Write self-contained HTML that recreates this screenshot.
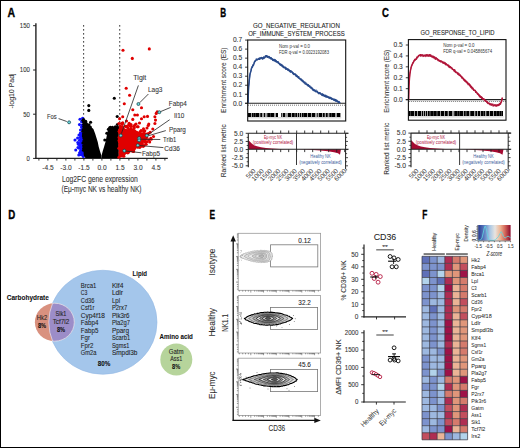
<!DOCTYPE html>
<html><head><meta charset="utf-8"><style>html,body{margin:0;padding:0;background:#fff;}svg{display:block;}</style></head>
<body><svg width="520" height="448" viewBox="0 0 520 448" font-family='"Liberation Sans", sans-serif'>
<rect width="520" height="448" fill="#fff"/>
<text x="7.60" y="16.63" font-size="12.4" text-anchor="start" fill="#000" font-weight="bold" textLength="7.6" lengthAdjust="spacingAndGlyphs" stroke="#000" stroke-width="0.35" >A</text>
<line x1="35.90" y1="23.20" x2="35.90" y2="159.00" stroke="#222" stroke-width="1.4" stroke-linecap="butt"/>
<line x1="35.30" y1="158.40" x2="167.80" y2="158.40" stroke="#222" stroke-width="1.4" stroke-linecap="butt"/>
<line x1="33.10" y1="25.70" x2="35.90" y2="25.70" stroke="#222" stroke-width="1" stroke-linecap="butt"/>
<text x="29.90" y="28.08" font-size="6.9" text-anchor="end" fill="#333" textLength="10.1" lengthAdjust="spacingAndGlyphs" stroke="#333" stroke-width="0.08" >150</text>
<line x1="33.10" y1="70.00" x2="35.90" y2="70.00" stroke="#222" stroke-width="1" stroke-linecap="butt"/>
<text x="29.90" y="72.38" font-size="6.9" text-anchor="end" fill="#333" textLength="10.1" lengthAdjust="spacingAndGlyphs" stroke="#333" stroke-width="0.08" >100</text>
<line x1="33.10" y1="114.20" x2="35.90" y2="114.20" stroke="#222" stroke-width="1" stroke-linecap="butt"/>
<text x="29.90" y="116.58" font-size="6.9" text-anchor="end" fill="#333" textLength="6.7" lengthAdjust="spacingAndGlyphs" stroke="#333" stroke-width="0.08" >50</text>
<line x1="33.10" y1="158.40" x2="35.90" y2="158.40" stroke="#222" stroke-width="1" stroke-linecap="butt"/>
<text x="29.90" y="160.78" font-size="6.9" text-anchor="end" fill="#333" textLength="3.3" lengthAdjust="spacingAndGlyphs" stroke="#333" stroke-width="0.08" >0</text>
<line x1="38.90" y1="158.40" x2="38.90" y2="160.60" stroke="#222" stroke-width="0.9" stroke-linecap="butt"/>
<line x1="47.90" y1="158.40" x2="47.90" y2="160.60" stroke="#222" stroke-width="0.9" stroke-linecap="butt"/>
<line x1="56.90" y1="158.40" x2="56.90" y2="160.60" stroke="#222" stroke-width="0.9" stroke-linecap="butt"/>
<line x1="65.90" y1="158.40" x2="65.90" y2="160.60" stroke="#222" stroke-width="0.9" stroke-linecap="butt"/>
<line x1="74.90" y1="158.40" x2="74.90" y2="160.60" stroke="#222" stroke-width="0.9" stroke-linecap="butt"/>
<line x1="83.90" y1="158.40" x2="83.90" y2="160.60" stroke="#222" stroke-width="0.9" stroke-linecap="butt"/>
<line x1="92.90" y1="158.40" x2="92.90" y2="160.60" stroke="#222" stroke-width="0.9" stroke-linecap="butt"/>
<line x1="101.90" y1="158.40" x2="101.90" y2="160.60" stroke="#222" stroke-width="0.9" stroke-linecap="butt"/>
<line x1="110.90" y1="158.40" x2="110.90" y2="160.60" stroke="#222" stroke-width="0.9" stroke-linecap="butt"/>
<line x1="119.90" y1="158.40" x2="119.90" y2="160.60" stroke="#222" stroke-width="0.9" stroke-linecap="butt"/>
<line x1="128.90" y1="158.40" x2="128.90" y2="160.60" stroke="#222" stroke-width="0.9" stroke-linecap="butt"/>
<line x1="137.90" y1="158.40" x2="137.90" y2="160.60" stroke="#222" stroke-width="0.9" stroke-linecap="butt"/>
<line x1="146.90" y1="158.40" x2="146.90" y2="160.60" stroke="#222" stroke-width="0.9" stroke-linecap="butt"/>
<line x1="155.90" y1="158.40" x2="155.90" y2="160.60" stroke="#222" stroke-width="0.9" stroke-linecap="butt"/>
<line x1="164.90" y1="158.40" x2="164.90" y2="160.60" stroke="#222" stroke-width="0.9" stroke-linecap="butt"/>
<text x="48.00" y="170.08" font-size="6.6" text-anchor="middle" fill="#333" stroke="#333" stroke-width="0.08" >-4.5</text>
<text x="66.00" y="170.08" font-size="6.6" text-anchor="middle" fill="#333" stroke="#333" stroke-width="0.08" >-3.0</text>
<text x="84.00" y="170.08" font-size="6.6" text-anchor="middle" fill="#333" stroke="#333" stroke-width="0.08" >-1.5</text>
<text x="102.00" y="170.08" font-size="6.6" text-anchor="middle" fill="#333" stroke="#333" stroke-width="0.08" >0.0</text>
<text x="120.00" y="170.08" font-size="6.6" text-anchor="middle" fill="#333" stroke="#333" stroke-width="0.08" >1.5</text>
<text x="138.00" y="170.08" font-size="6.6" text-anchor="middle" fill="#333" stroke="#333" stroke-width="0.08" >3.0</text>
<text x="156.00" y="170.08" font-size="6.6" text-anchor="middle" fill="#333" stroke="#333" stroke-width="0.08" >4.5</text>
<text x="99.80" y="181.64" font-size="8.8" text-anchor="middle" fill="#333" textLength="75.8" lengthAdjust="spacingAndGlyphs" stroke="#333" stroke-width="0.08" >Log2FC gene expression</text>
<text x="101.50" y="192.34" font-size="8.8" text-anchor="middle" fill="#333" textLength="80" lengthAdjust="spacingAndGlyphs" stroke="#333" stroke-width="0.08" >(Eμ-myc NK vs healthy NK)</text>
<text x="11.60" y="93.55" font-size="7.4" text-anchor="middle" fill="#333" textLength="35.2" lengthAdjust="spacingAndGlyphs" stroke="#333" stroke-width="0.08" transform="rotate(-90 11.60 91.00)" >-log10 Padj</text>
<line x1="83.60" y1="25.20" x2="83.60" y2="157.00" stroke="#111" stroke-width="1.1" stroke-dasharray="1.4 2.6" stroke-linecap="butt"/>
<line x1="119.70" y1="25.20" x2="119.70" y2="157.00" stroke="#111" stroke-width="1.1" stroke-dasharray="1.4 2.6" stroke-linecap="butt"/>
<path d="M83.60,156.50 L83.60,129.00 L82.00,130.00 L80.50,134.00 L79.60,140.00 L79.40,146.00 L80.00,151.00 L81.20,155.00 L82.20,156.50 Z" fill="#1010ff" stroke="none" stroke-width="0"/>
<circle cx="83.34" cy="156.54" r="1.55" fill="#1010ff" stroke="none" stroke-width="0"/>
<circle cx="83.47" cy="154.31" r="1.55" fill="#1010ff" stroke="none" stroke-width="0"/>
<circle cx="83.73" cy="151.48" r="1.55" fill="#1010ff" stroke="none" stroke-width="0"/>
<circle cx="83.11" cy="149.96" r="1.55" fill="#1010ff" stroke="none" stroke-width="0"/>
<circle cx="83.36" cy="147.07" r="1.55" fill="#1010ff" stroke="none" stroke-width="0"/>
<circle cx="84.10" cy="145.01" r="1.55" fill="#1010ff" stroke="none" stroke-width="0"/>
<circle cx="83.94" cy="142.73" r="1.55" fill="#1010ff" stroke="none" stroke-width="0"/>
<circle cx="83.74" cy="140.11" r="1.55" fill="#1010ff" stroke="none" stroke-width="0"/>
<circle cx="83.73" cy="138.53" r="1.55" fill="#1010ff" stroke="none" stroke-width="0"/>
<circle cx="83.62" cy="136.12" r="1.55" fill="#1010ff" stroke="none" stroke-width="0"/>
<circle cx="83.77" cy="133.15" r="1.55" fill="#1010ff" stroke="none" stroke-width="0"/>
<circle cx="83.86" cy="131.38" r="1.55" fill="#1010ff" stroke="none" stroke-width="0"/>
<circle cx="83.40" cy="128.53" r="1.55" fill="#1010ff" stroke="none" stroke-width="0"/>
<circle cx="82.37" cy="129.97" r="1.55" fill="#1010ff" stroke="none" stroke-width="0"/>
<circle cx="80.72" cy="134.38" r="1.55" fill="#1010ff" stroke="none" stroke-width="0"/>
<circle cx="80.26" cy="137.42" r="1.55" fill="#1010ff" stroke="none" stroke-width="0"/>
<circle cx="79.49" cy="140.30" r="1.55" fill="#1010ff" stroke="none" stroke-width="0"/>
<circle cx="79.44" cy="143.44" r="1.55" fill="#1010ff" stroke="none" stroke-width="0"/>
<circle cx="79.78" cy="145.60" r="1.55" fill="#1010ff" stroke="none" stroke-width="0"/>
<circle cx="79.34" cy="148.22" r="1.55" fill="#1010ff" stroke="none" stroke-width="0"/>
<circle cx="80.47" cy="150.94" r="1.55" fill="#1010ff" stroke="none" stroke-width="0"/>
<circle cx="81.33" cy="154.80" r="1.55" fill="#1010ff" stroke="none" stroke-width="0"/>
<circle cx="80.00" cy="119.30" r="1.55" fill="#1010ff" stroke="none" stroke-width="0"/>
<circle cx="79.50" cy="124.60" r="1.55" fill="#1010ff" stroke="none" stroke-width="0"/>
<circle cx="82.70" cy="128.60" r="1.55" fill="#1010ff" stroke="none" stroke-width="0"/>
<circle cx="79.00" cy="135.00" r="1.55" fill="#1010ff" stroke="none" stroke-width="0"/>
<circle cx="75.00" cy="140.00" r="1.55" fill="#1010ff" stroke="none" stroke-width="0"/>
<circle cx="78.40" cy="144.20" r="1.55" fill="#1010ff" stroke="none" stroke-width="0"/>
<circle cx="75.75" cy="150.00" r="1.55" fill="#1010ff" stroke="none" stroke-width="0"/>
<circle cx="82.60" cy="118.20" r="1.55" fill="#1010ff" stroke="none" stroke-width="0"/>
<circle cx="81.60" cy="121.80" r="1.55" fill="#1010ff" stroke="none" stroke-width="0"/>
<circle cx="82.20" cy="125.00" r="1.55" fill="#1010ff" stroke="none" stroke-width="0"/>
<circle cx="80.50" cy="130.00" r="1.55" fill="#1010ff" stroke="none" stroke-width="0"/>
<circle cx="81.50" cy="127.00" r="1.55" fill="#1010ff" stroke="none" stroke-width="0"/>
<circle cx="77.60" cy="138.00" r="1.55" fill="#1010ff" stroke="none" stroke-width="0"/>
<circle cx="78.00" cy="147.50" r="1.55" fill="#1010ff" stroke="none" stroke-width="0"/>
<circle cx="79.60" cy="152.80" r="1.55" fill="#1010ff" stroke="none" stroke-width="0"/>
<circle cx="80.40" cy="133.00" r="1.55" fill="#1010ff" stroke="none" stroke-width="0"/>
<circle cx="82.70" cy="121.00" r="1.55" fill="#1010ff" stroke="none" stroke-width="0"/>
<circle cx="77.80" cy="142.50" r="1.55" fill="#1010ff" stroke="none" stroke-width="0"/>
<circle cx="78.80" cy="155.00" r="1.55" fill="#1010ff" stroke="none" stroke-width="0"/>
<path d="M85.50,158.00 L83.80,155.50 L83.40,150.00 L83.40,120.00 L86.00,121.50 L88.50,124.50 L90.50,126.50 L93.40,128.90 L95.10,133.40 L96.50,137.90 L97.80,142.30 L98.70,146.80 L100.00,151.25 L101.40,155.50 L101.50,158.00 Z" fill="#000" stroke="none" stroke-width="0"/>
<path d="M101.50,158.00 L101.60,155.50 L102.70,151.25 L104.10,146.80 L105.40,142.30 L106.30,137.90 L107.20,133.40 L108.10,128.90 L110.50,127.60 L113.00,127.20 L115.40,126.60 L117.20,127.00 L118.80,127.50 L118.80,158.00 Z" fill="#000" stroke="none" stroke-width="0"/>
<circle cx="83.52" cy="150.24" r="1.55" fill="#000" stroke="none" stroke-width="0"/>
<circle cx="83.70" cy="148.13" r="1.55" fill="#000" stroke="none" stroke-width="0"/>
<circle cx="83.64" cy="145.81" r="1.55" fill="#000" stroke="none" stroke-width="0"/>
<circle cx="82.93" cy="143.04" r="1.55" fill="#000" stroke="none" stroke-width="0"/>
<circle cx="83.84" cy="140.92" r="1.55" fill="#000" stroke="none" stroke-width="0"/>
<circle cx="83.80" cy="138.07" r="1.55" fill="#000" stroke="none" stroke-width="0"/>
<circle cx="83.37" cy="135.90" r="1.55" fill="#000" stroke="none" stroke-width="0"/>
<circle cx="83.44" cy="133.92" r="1.55" fill="#000" stroke="none" stroke-width="0"/>
<circle cx="82.91" cy="131.26" r="1.55" fill="#000" stroke="none" stroke-width="0"/>
<circle cx="83.18" cy="129.65" r="1.55" fill="#000" stroke="none" stroke-width="0"/>
<circle cx="83.67" cy="126.58" r="1.55" fill="#000" stroke="none" stroke-width="0"/>
<circle cx="83.70" cy="124.25" r="1.55" fill="#000" stroke="none" stroke-width="0"/>
<circle cx="83.52" cy="121.93" r="1.55" fill="#000" stroke="none" stroke-width="0"/>
<circle cx="82.90" cy="120.37" r="1.55" fill="#000" stroke="none" stroke-width="0"/>
<circle cx="85.71" cy="121.22" r="1.55" fill="#000" stroke="none" stroke-width="0"/>
<circle cx="88.98" cy="124.87" r="1.55" fill="#000" stroke="none" stroke-width="0"/>
<circle cx="90.29" cy="126.96" r="1.55" fill="#000" stroke="none" stroke-width="0"/>
<circle cx="108.39" cy="129.22" r="1.55" fill="#000" stroke="none" stroke-width="0"/>
<circle cx="110.49" cy="127.36" r="1.55" fill="#000" stroke="none" stroke-width="0"/>
<circle cx="112.50" cy="127.36" r="1.55" fill="#000" stroke="none" stroke-width="0"/>
<circle cx="115.37" cy="126.86" r="1.55" fill="#000" stroke="none" stroke-width="0"/>
<circle cx="117.07" cy="127.27" r="1.55" fill="#000" stroke="none" stroke-width="0"/>
<circle cx="88.80" cy="105.60" r="1.55" fill="#000" stroke="none" stroke-width="0"/>
<circle cx="88.80" cy="110.40" r="1.55" fill="#000" stroke="none" stroke-width="0"/>
<circle cx="83.60" cy="119.50" r="1.55" fill="#000" stroke="none" stroke-width="0"/>
<circle cx="90.60" cy="122.30" r="1.55" fill="#000" stroke="none" stroke-width="0"/>
<circle cx="109.60" cy="127.90" r="1.55" fill="#000" stroke="none" stroke-width="0"/>
<circle cx="117.20" cy="116.50" r="1.55" fill="#000" stroke="none" stroke-width="0"/>
<circle cx="117.40" cy="124.50" r="1.55" fill="#000" stroke="none" stroke-width="0"/>
<circle cx="116.20" cy="130.00" r="1.55" fill="#000" stroke="none" stroke-width="0"/>
<circle cx="110.10" cy="131.60" r="1.55" fill="#000" stroke="none" stroke-width="0"/>
<circle cx="114.30" cy="98.20" r="1.55" fill="#000" stroke="none" stroke-width="0"/>
<circle cx="86.30" cy="123.60" r="1.55" fill="#000" stroke="none" stroke-width="0"/>
<circle cx="84.50" cy="122.00" r="1.55" fill="#000" stroke="none" stroke-width="0"/>
<circle cx="118.60" cy="127.50" r="1.55" fill="#000" stroke="none" stroke-width="0"/>
<circle cx="106.80" cy="133.20" r="1.55" fill="#000" stroke="none" stroke-width="0"/>
<circle cx="104.80" cy="140.00" r="1.55" fill="#000" stroke="none" stroke-width="0"/>
<path d="M118.80,157.50 L118.80,127.50 L122.00,127.00 L126.00,129.00 L131.00,129.50 L136.00,130.50 L141.00,132.50 L145.00,134.50 L148.50,137.50 L146.00,141.00 L141.00,144.50 L136.00,147.50 L131.00,150.50 L126.00,153.00 L122.00,155.50 L120.50,157.50 Z" fill="#e00000" stroke="none" stroke-width="0"/>
<circle cx="124.77" cy="145.87" r="1.55" fill="#e00000" stroke="none" stroke-width="0"/>
<circle cx="132.23" cy="141.95" r="1.55" fill="#e00000" stroke="none" stroke-width="0"/>
<circle cx="120.03" cy="132.33" r="1.55" fill="#e00000" stroke="none" stroke-width="0"/>
<circle cx="122.99" cy="155.70" r="1.55" fill="#e00000" stroke="none" stroke-width="0"/>
<circle cx="124.40" cy="150.66" r="1.55" fill="#e00000" stroke="none" stroke-width="0"/>
<circle cx="131.21" cy="138.18" r="1.55" fill="#e00000" stroke="none" stroke-width="0"/>
<circle cx="120.14" cy="152.47" r="1.55" fill="#e00000" stroke="none" stroke-width="0"/>
<circle cx="139.82" cy="147.37" r="1.55" fill="#e00000" stroke="none" stroke-width="0"/>
<circle cx="133.63" cy="133.70" r="1.55" fill="#e00000" stroke="none" stroke-width="0"/>
<circle cx="125.34" cy="126.38" r="1.55" fill="#e00000" stroke="none" stroke-width="0"/>
<circle cx="140.42" cy="131.50" r="1.55" fill="#e00000" stroke="none" stroke-width="0"/>
<circle cx="121.18" cy="150.51" r="1.55" fill="#e00000" stroke="none" stroke-width="0"/>
<circle cx="132.37" cy="145.63" r="1.55" fill="#e00000" stroke="none" stroke-width="0"/>
<circle cx="150.77" cy="138.41" r="1.55" fill="#e00000" stroke="none" stroke-width="0"/>
<circle cx="127.75" cy="152.86" r="1.55" fill="#e00000" stroke="none" stroke-width="0"/>
<circle cx="121.31" cy="150.20" r="1.55" fill="#e00000" stroke="none" stroke-width="0"/>
<circle cx="120.69" cy="129.67" r="1.55" fill="#e00000" stroke="none" stroke-width="0"/>
<circle cx="133.99" cy="126.40" r="1.55" fill="#e00000" stroke="none" stroke-width="0"/>
<circle cx="137.83" cy="147.32" r="1.55" fill="#e00000" stroke="none" stroke-width="0"/>
<circle cx="126.48" cy="151.43" r="1.55" fill="#e00000" stroke="none" stroke-width="0"/>
<circle cx="129.95" cy="140.04" r="1.55" fill="#e00000" stroke="none" stroke-width="0"/>
<circle cx="119.65" cy="142.26" r="1.55" fill="#e00000" stroke="none" stroke-width="0"/>
<circle cx="149.63" cy="141.91" r="1.55" fill="#e00000" stroke="none" stroke-width="0"/>
<circle cx="122.23" cy="123.52" r="1.55" fill="#e00000" stroke="none" stroke-width="0"/>
<circle cx="126.75" cy="126.23" r="1.55" fill="#e00000" stroke="none" stroke-width="0"/>
<circle cx="132.48" cy="146.62" r="1.55" fill="#e00000" stroke="none" stroke-width="0"/>
<circle cx="119.08" cy="137.40" r="1.55" fill="#e00000" stroke="none" stroke-width="0"/>
<circle cx="129.48" cy="138.87" r="1.55" fill="#e00000" stroke="none" stroke-width="0"/>
<circle cx="122.70" cy="122.85" r="1.55" fill="#e00000" stroke="none" stroke-width="0"/>
<circle cx="135.02" cy="143.30" r="1.55" fill="#e00000" stroke="none" stroke-width="0"/>
<circle cx="132.90" cy="135.06" r="1.55" fill="#e00000" stroke="none" stroke-width="0"/>
<circle cx="120.57" cy="136.27" r="1.55" fill="#e00000" stroke="none" stroke-width="0"/>
<circle cx="145.00" cy="137.10" r="1.55" fill="#e00000" stroke="none" stroke-width="0"/>
<circle cx="144.10" cy="145.61" r="1.55" fill="#e00000" stroke="none" stroke-width="0"/>
<circle cx="130.12" cy="131.69" r="1.55" fill="#e00000" stroke="none" stroke-width="0"/>
<circle cx="124.06" cy="140.75" r="1.55" fill="#e00000" stroke="none" stroke-width="0"/>
<circle cx="145.67" cy="137.34" r="1.55" fill="#e00000" stroke="none" stroke-width="0"/>
<circle cx="124.35" cy="145.54" r="1.55" fill="#e00000" stroke="none" stroke-width="0"/>
<circle cx="141.14" cy="130.52" r="1.55" fill="#e00000" stroke="none" stroke-width="0"/>
<circle cx="132.72" cy="130.22" r="1.55" fill="#e00000" stroke="none" stroke-width="0"/>
<circle cx="140.80" cy="146.27" r="1.55" fill="#e00000" stroke="none" stroke-width="0"/>
<circle cx="119.08" cy="140.42" r="1.55" fill="#e00000" stroke="none" stroke-width="0"/>
<circle cx="148.57" cy="139.85" r="1.55" fill="#e00000" stroke="none" stroke-width="0"/>
<circle cx="125.59" cy="135.11" r="1.55" fill="#e00000" stroke="none" stroke-width="0"/>
<circle cx="119.44" cy="141.83" r="1.55" fill="#e00000" stroke="none" stroke-width="0"/>
<circle cx="120.96" cy="150.57" r="1.55" fill="#e00000" stroke="none" stroke-width="0"/>
<circle cx="131.04" cy="130.11" r="1.55" fill="#e00000" stroke="none" stroke-width="0"/>
<circle cx="120.14" cy="138.56" r="1.55" fill="#e00000" stroke="none" stroke-width="0"/>
<circle cx="122.57" cy="154.91" r="1.55" fill="#e00000" stroke="none" stroke-width="0"/>
<circle cx="120.27" cy="133.21" r="1.55" fill="#e00000" stroke="none" stroke-width="0"/>
<circle cx="144.49" cy="138.52" r="1.55" fill="#e00000" stroke="none" stroke-width="0"/>
<circle cx="131.54" cy="143.01" r="1.55" fill="#e00000" stroke="none" stroke-width="0"/>
<circle cx="146.16" cy="144.26" r="1.55" fill="#e00000" stroke="none" stroke-width="0"/>
<circle cx="148.30" cy="133.58" r="1.55" fill="#e00000" stroke="none" stroke-width="0"/>
<circle cx="119.78" cy="135.86" r="1.55" fill="#e00000" stroke="none" stroke-width="0"/>
<circle cx="119.75" cy="144.95" r="1.55" fill="#e00000" stroke="none" stroke-width="0"/>
<circle cx="122.67" cy="154.79" r="1.55" fill="#e00000" stroke="none" stroke-width="0"/>
<circle cx="151.20" cy="139.27" r="1.55" fill="#e00000" stroke="none" stroke-width="0"/>
<circle cx="132.49" cy="138.36" r="1.55" fill="#e00000" stroke="none" stroke-width="0"/>
<circle cx="138.27" cy="137.20" r="1.55" fill="#e00000" stroke="none" stroke-width="0"/>
<circle cx="132.21" cy="150.99" r="1.55" fill="#e00000" stroke="none" stroke-width="0"/>
<circle cx="146.00" cy="134.06" r="1.55" fill="#e00000" stroke="none" stroke-width="0"/>
<circle cx="124.09" cy="151.17" r="1.55" fill="#e00000" stroke="none" stroke-width="0"/>
<circle cx="143.50" cy="131.09" r="1.55" fill="#e00000" stroke="none" stroke-width="0"/>
<circle cx="126.69" cy="145.74" r="1.55" fill="#e00000" stroke="none" stroke-width="0"/>
<circle cx="142.30" cy="133.81" r="1.55" fill="#e00000" stroke="none" stroke-width="0"/>
<circle cx="145.04" cy="142.30" r="1.55" fill="#e00000" stroke="none" stroke-width="0"/>
<circle cx="132.34" cy="143.86" r="1.55" fill="#e00000" stroke="none" stroke-width="0"/>
<circle cx="126.89" cy="149.60" r="1.55" fill="#e00000" stroke="none" stroke-width="0"/>
<circle cx="142.08" cy="137.06" r="1.55" fill="#e00000" stroke="none" stroke-width="0"/>
<circle cx="140.04" cy="141.86" r="1.55" fill="#e00000" stroke="none" stroke-width="0"/>
<circle cx="130.64" cy="132.31" r="1.55" fill="#e00000" stroke="none" stroke-width="0"/>
<circle cx="120.54" cy="127.00" r="1.55" fill="#e00000" stroke="none" stroke-width="0"/>
<circle cx="126.15" cy="146.24" r="1.55" fill="#e00000" stroke="none" stroke-width="0"/>
<circle cx="119.13" cy="131.35" r="1.55" fill="#e00000" stroke="none" stroke-width="0"/>
<circle cx="146.72" cy="141.74" r="1.55" fill="#e00000" stroke="none" stroke-width="0"/>
<circle cx="144.85" cy="139.90" r="1.55" fill="#e00000" stroke="none" stroke-width="0"/>
<circle cx="131.14" cy="144.90" r="1.55" fill="#e00000" stroke="none" stroke-width="0"/>
<circle cx="132.89" cy="150.05" r="1.55" fill="#e00000" stroke="none" stroke-width="0"/>
<circle cx="129.20" cy="123.39" r="1.55" fill="#e00000" stroke="none" stroke-width="0"/>
<circle cx="124.21" cy="131.56" r="1.55" fill="#e00000" stroke="none" stroke-width="0"/>
<circle cx="142.76" cy="136.60" r="1.55" fill="#e00000" stroke="none" stroke-width="0"/>
<circle cx="134.19" cy="145.91" r="1.55" fill="#e00000" stroke="none" stroke-width="0"/>
<circle cx="135.94" cy="140.87" r="1.55" fill="#e00000" stroke="none" stroke-width="0"/>
<circle cx="125.98" cy="138.54" r="1.55" fill="#e00000" stroke="none" stroke-width="0"/>
<circle cx="134.20" cy="127.51" r="1.55" fill="#e00000" stroke="none" stroke-width="0"/>
<circle cx="126.56" cy="152.57" r="1.55" fill="#e00000" stroke="none" stroke-width="0"/>
<circle cx="135.10" cy="147.61" r="1.55" fill="#e00000" stroke="none" stroke-width="0"/>
<circle cx="136.88" cy="146.31" r="1.55" fill="#e00000" stroke="none" stroke-width="0"/>
<circle cx="134.39" cy="144.90" r="1.55" fill="#e00000" stroke="none" stroke-width="0"/>
<circle cx="123.49" cy="134.49" r="1.55" fill="#e00000" stroke="none" stroke-width="0"/>
<circle cx="118.95" cy="123.47" r="1.55" fill="#e00000" stroke="none" stroke-width="0"/>
<circle cx="144.57" cy="135.50" r="1.55" fill="#e00000" stroke="none" stroke-width="0"/>
<circle cx="128.89" cy="149.38" r="1.55" fill="#e00000" stroke="none" stroke-width="0"/>
<circle cx="131.12" cy="126.26" r="1.55" fill="#e00000" stroke="none" stroke-width="0"/>
<circle cx="124.91" cy="148.53" r="1.55" fill="#e00000" stroke="none" stroke-width="0"/>
<circle cx="127.95" cy="128.12" r="1.55" fill="#e00000" stroke="none" stroke-width="0"/>
<circle cx="127.64" cy="132.04" r="1.55" fill="#e00000" stroke="none" stroke-width="0"/>
<circle cx="121.87" cy="146.80" r="1.55" fill="#e00000" stroke="none" stroke-width="0"/>
<circle cx="119.93" cy="131.61" r="1.55" fill="#e00000" stroke="none" stroke-width="0"/>
<circle cx="141.80" cy="143.62" r="1.55" fill="#e00000" stroke="none" stroke-width="0"/>
<circle cx="134.75" cy="141.53" r="1.55" fill="#e00000" stroke="none" stroke-width="0"/>
<circle cx="140.74" cy="134.94" r="1.55" fill="#e00000" stroke="none" stroke-width="0"/>
<circle cx="129.60" cy="148.64" r="1.55" fill="#e00000" stroke="none" stroke-width="0"/>
<circle cx="121.29" cy="154.18" r="1.55" fill="#e00000" stroke="none" stroke-width="0"/>
<circle cx="133.68" cy="131.76" r="1.55" fill="#e00000" stroke="none" stroke-width="0"/>
<circle cx="131.56" cy="140.15" r="1.55" fill="#e00000" stroke="none" stroke-width="0"/>
<circle cx="121.66" cy="127.58" r="1.55" fill="#e00000" stroke="none" stroke-width="0"/>
<circle cx="122.23" cy="147.13" r="1.55" fill="#e00000" stroke="none" stroke-width="0"/>
<circle cx="142.09" cy="143.58" r="1.55" fill="#e00000" stroke="none" stroke-width="0"/>
<circle cx="129.36" cy="134.13" r="1.55" fill="#e00000" stroke="none" stroke-width="0"/>
<circle cx="131.92" cy="134.03" r="1.55" fill="#e00000" stroke="none" stroke-width="0"/>
<circle cx="127.28" cy="126.97" r="1.55" fill="#e00000" stroke="none" stroke-width="0"/>
<circle cx="121.86" cy="155.87" r="1.55" fill="#e00000" stroke="none" stroke-width="0"/>
<circle cx="133.17" cy="150.78" r="1.55" fill="#e00000" stroke="none" stroke-width="0"/>
<circle cx="120.32" cy="126.22" r="1.55" fill="#e00000" stroke="none" stroke-width="0"/>
<circle cx="140.01" cy="144.14" r="1.55" fill="#e00000" stroke="none" stroke-width="0"/>
<circle cx="131.21" cy="145.20" r="1.55" fill="#e00000" stroke="none" stroke-width="0"/>
<circle cx="137.41" cy="126.74" r="1.55" fill="#e00000" stroke="none" stroke-width="0"/>
<circle cx="127.87" cy="133.42" r="1.55" fill="#e00000" stroke="none" stroke-width="0"/>
<circle cx="120.76" cy="149.78" r="1.55" fill="#e00000" stroke="none" stroke-width="0"/>
<circle cx="128.40" cy="137.71" r="1.55" fill="#e00000" stroke="none" stroke-width="0"/>
<circle cx="130.73" cy="128.53" r="1.55" fill="#e00000" stroke="none" stroke-width="0"/>
<circle cx="126.08" cy="143.58" r="1.55" fill="#e00000" stroke="none" stroke-width="0"/>
<circle cx="133.86" cy="128.51" r="1.55" fill="#e00000" stroke="none" stroke-width="0"/>
<circle cx="120.66" cy="142.45" r="1.55" fill="#e00000" stroke="none" stroke-width="0"/>
<circle cx="136.36" cy="134.36" r="1.55" fill="#e00000" stroke="none" stroke-width="0"/>
<circle cx="119.71" cy="140.22" r="1.55" fill="#e00000" stroke="none" stroke-width="0"/>
<circle cx="120.62" cy="147.90" r="1.55" fill="#e00000" stroke="none" stroke-width="0"/>
<circle cx="127.63" cy="144.95" r="1.55" fill="#e00000" stroke="none" stroke-width="0"/>
<circle cx="124.75" cy="139.89" r="1.55" fill="#e00000" stroke="none" stroke-width="0"/>
<circle cx="124.01" cy="129.77" r="1.55" fill="#e00000" stroke="none" stroke-width="0"/>
<circle cx="142.10" cy="144.66" r="1.55" fill="#e00000" stroke="none" stroke-width="0"/>
<circle cx="123.52" cy="133.05" r="1.55" fill="#e00000" stroke="none" stroke-width="0"/>
<circle cx="125.44" cy="151.79" r="1.55" fill="#e00000" stroke="none" stroke-width="0"/>
<circle cx="128.45" cy="139.82" r="1.55" fill="#e00000" stroke="none" stroke-width="0"/>
<circle cx="130.19" cy="125.81" r="1.55" fill="#e00000" stroke="none" stroke-width="0"/>
<circle cx="124.48" cy="145.23" r="1.55" fill="#e00000" stroke="none" stroke-width="0"/>
<circle cx="124.15" cy="152.73" r="1.55" fill="#e00000" stroke="none" stroke-width="0"/>
<circle cx="134.60" cy="146.06" r="1.55" fill="#e00000" stroke="none" stroke-width="0"/>
<circle cx="136.55" cy="142.86" r="1.55" fill="#e00000" stroke="none" stroke-width="0"/>
<circle cx="121.56" cy="153.17" r="1.55" fill="#e00000" stroke="none" stroke-width="0"/>
<circle cx="121.72" cy="134.19" r="1.55" fill="#e00000" stroke="none" stroke-width="0"/>
<circle cx="124.89" cy="146.97" r="1.55" fill="#e00000" stroke="none" stroke-width="0"/>
<circle cx="121.39" cy="143.04" r="1.55" fill="#e00000" stroke="none" stroke-width="0"/>
<circle cx="136.56" cy="142.97" r="1.55" fill="#e00000" stroke="none" stroke-width="0"/>
<circle cx="130.04" cy="143.38" r="1.55" fill="#e00000" stroke="none" stroke-width="0"/>
<circle cx="122.27" cy="126.64" r="1.55" fill="#e00000" stroke="none" stroke-width="0"/>
<circle cx="133.15" cy="146.88" r="1.55" fill="#e00000" stroke="none" stroke-width="0"/>
<circle cx="139.03" cy="136.95" r="1.55" fill="#e00000" stroke="none" stroke-width="0"/>
<circle cx="123.48" cy="153.71" r="1.55" fill="#e00000" stroke="none" stroke-width="0"/>
<circle cx="131.46" cy="146.72" r="1.55" fill="#e00000" stroke="none" stroke-width="0"/>
<circle cx="122.07" cy="152.23" r="1.55" fill="#e00000" stroke="none" stroke-width="0"/>
<circle cx="124.33" cy="140.69" r="1.55" fill="#e00000" stroke="none" stroke-width="0"/>
<circle cx="131.38" cy="136.65" r="1.55" fill="#e00000" stroke="none" stroke-width="0"/>
<circle cx="123.48" cy="154.31" r="1.55" fill="#e00000" stroke="none" stroke-width="0"/>
<circle cx="134.97" cy="141.14" r="1.55" fill="#e00000" stroke="none" stroke-width="0"/>
<circle cx="134.53" cy="130.69" r="1.55" fill="#e00000" stroke="none" stroke-width="0"/>
<circle cx="128.81" cy="152.03" r="1.55" fill="#e00000" stroke="none" stroke-width="0"/>
<circle cx="132.00" cy="142.41" r="1.55" fill="#e00000" stroke="none" stroke-width="0"/>
<circle cx="130.54" cy="138.15" r="1.55" fill="#e00000" stroke="none" stroke-width="0"/>
<circle cx="128.82" cy="140.63" r="1.55" fill="#e00000" stroke="none" stroke-width="0"/>
<circle cx="129.71" cy="124.46" r="1.55" fill="#e00000" stroke="none" stroke-width="0"/>
<circle cx="143.13" cy="146.33" r="1.55" fill="#e00000" stroke="none" stroke-width="0"/>
<circle cx="118.93" cy="157.32" r="1.55" fill="#e00000" stroke="none" stroke-width="0"/>
<circle cx="120.31" cy="137.45" r="1.55" fill="#e00000" stroke="none" stroke-width="0"/>
<circle cx="126.59" cy="149.51" r="1.55" fill="#e00000" stroke="none" stroke-width="0"/>
<circle cx="134.82" cy="125.05" r="1.55" fill="#e00000" stroke="none" stroke-width="0"/>
<circle cx="123.86" cy="156.13" r="1.55" fill="#e00000" stroke="none" stroke-width="0"/>
<circle cx="133.67" cy="150.99" r="1.55" fill="#e00000" stroke="none" stroke-width="0"/>
<circle cx="131.80" cy="133.47" r="1.55" fill="#e00000" stroke="none" stroke-width="0"/>
<circle cx="129.28" cy="130.11" r="1.55" fill="#e00000" stroke="none" stroke-width="0"/>
<circle cx="143.95" cy="137.52" r="1.55" fill="#e00000" stroke="none" stroke-width="0"/>
<circle cx="137.44" cy="137.53" r="1.55" fill="#e00000" stroke="none" stroke-width="0"/>
<circle cx="120.00" cy="146.87" r="1.55" fill="#e00000" stroke="none" stroke-width="0"/>
<circle cx="122.09" cy="129.34" r="1.55" fill="#e00000" stroke="none" stroke-width="0"/>
<circle cx="134.05" cy="147.79" r="1.55" fill="#e00000" stroke="none" stroke-width="0"/>
<circle cx="123.54" cy="140.47" r="1.55" fill="#e00000" stroke="none" stroke-width="0"/>
<circle cx="118.84" cy="148.23" r="1.55" fill="#e00000" stroke="none" stroke-width="0"/>
<circle cx="122.98" cy="142.61" r="1.55" fill="#e00000" stroke="none" stroke-width="0"/>
<circle cx="122.41" cy="139.55" r="1.55" fill="#e00000" stroke="none" stroke-width="0"/>
<circle cx="142.66" cy="139.75" r="1.55" fill="#e00000" stroke="none" stroke-width="0"/>
<circle cx="140.78" cy="137.20" r="1.55" fill="#e00000" stroke="none" stroke-width="0"/>
<circle cx="131.22" cy="150.51" r="1.55" fill="#e00000" stroke="none" stroke-width="0"/>
<circle cx="130.93" cy="125.91" r="1.55" fill="#e00000" stroke="none" stroke-width="0"/>
<circle cx="121.92" cy="150.83" r="1.55" fill="#e00000" stroke="none" stroke-width="0"/>
<circle cx="122.58" cy="151.22" r="1.55" fill="#e00000" stroke="none" stroke-width="0"/>
<circle cx="121.35" cy="129.45" r="1.55" fill="#e00000" stroke="none" stroke-width="0"/>
<circle cx="144.19" cy="133.37" r="1.55" fill="#e00000" stroke="none" stroke-width="0"/>
<circle cx="120.91" cy="138.85" r="1.55" fill="#e00000" stroke="none" stroke-width="0"/>
<circle cx="134.20" cy="148.71" r="1.55" fill="#e00000" stroke="none" stroke-width="0"/>
<circle cx="134.91" cy="147.24" r="1.55" fill="#e00000" stroke="none" stroke-width="0"/>
<circle cx="125.51" cy="152.21" r="1.55" fill="#e00000" stroke="none" stroke-width="0"/>
<circle cx="122.31" cy="123.90" r="1.55" fill="#e00000" stroke="none" stroke-width="0"/>
<circle cx="124.33" cy="153.64" r="1.55" fill="#e00000" stroke="none" stroke-width="0"/>
<circle cx="123.22" cy="154.95" r="1.55" fill="#e00000" stroke="none" stroke-width="0"/>
<circle cx="119.56" cy="130.02" r="1.55" fill="#e00000" stroke="none" stroke-width="0"/>
<circle cx="133.79" cy="149.56" r="1.55" fill="#e00000" stroke="none" stroke-width="0"/>
<circle cx="134.99" cy="134.32" r="1.55" fill="#e00000" stroke="none" stroke-width="0"/>
<circle cx="133.49" cy="151.51" r="1.55" fill="#e00000" stroke="none" stroke-width="0"/>
<circle cx="123.00" cy="50.30" r="1.55" fill="#e00000" stroke="none" stroke-width="0"/>
<circle cx="149.30" cy="48.90" r="1.55" fill="#e00000" stroke="none" stroke-width="0"/>
<circle cx="132.30" cy="58.40" r="1.55" fill="#e00000" stroke="none" stroke-width="0"/>
<circle cx="126.20" cy="88.20" r="1.55" fill="#e00000" stroke="none" stroke-width="0"/>
<circle cx="129.60" cy="95.30" r="1.55" fill="#e00000" stroke="none" stroke-width="0"/>
<circle cx="124.30" cy="103.80" r="1.55" fill="#e00000" stroke="none" stroke-width="0"/>
<circle cx="132.80" cy="109.70" r="1.55" fill="#e00000" stroke="none" stroke-width="0"/>
<circle cx="141.50" cy="107.80" r="1.55" fill="#e00000" stroke="none" stroke-width="0"/>
<circle cx="122.70" cy="116.80" r="1.55" fill="#e00000" stroke="none" stroke-width="0"/>
<circle cx="134.80" cy="115.00" r="1.55" fill="#e00000" stroke="none" stroke-width="0"/>
<circle cx="137.40" cy="115.00" r="1.55" fill="#e00000" stroke="none" stroke-width="0"/>
<circle cx="132.80" cy="119.40" r="1.55" fill="#e00000" stroke="none" stroke-width="0"/>
<circle cx="128.70" cy="124.80" r="1.55" fill="#e00000" stroke="none" stroke-width="0"/>
<circle cx="141.50" cy="118.80" r="1.55" fill="#e00000" stroke="none" stroke-width="0"/>
<circle cx="144.20" cy="116.80" r="1.55" fill="#e00000" stroke="none" stroke-width="0"/>
<circle cx="147.50" cy="116.40" r="1.55" fill="#e00000" stroke="none" stroke-width="0"/>
<circle cx="148.80" cy="124.10" r="1.55" fill="#e00000" stroke="none" stroke-width="0"/>
<circle cx="148.20" cy="125.50" r="1.55" fill="#e00000" stroke="none" stroke-width="0"/>
<circle cx="154.90" cy="116.80" r="1.55" fill="#e00000" stroke="none" stroke-width="0"/>
<circle cx="156.20" cy="113.40" r="1.55" fill="#e00000" stroke="none" stroke-width="0"/>
<circle cx="155.50" cy="120.10" r="1.55" fill="#e00000" stroke="none" stroke-width="0"/>
<circle cx="154.90" cy="123.50" r="1.55" fill="#e00000" stroke="none" stroke-width="0"/>
<circle cx="157.20" cy="111.90" r="1.55" fill="#e00000" stroke="none" stroke-width="0"/>
<circle cx="119.60" cy="118.80" r="1.55" fill="#e00000" stroke="none" stroke-width="0"/>
<circle cx="121.40" cy="123.50" r="1.55" fill="#e00000" stroke="none" stroke-width="0"/>
<circle cx="138.10" cy="126.80" r="1.55" fill="#e00000" stroke="none" stroke-width="0"/>
<circle cx="143.50" cy="128.80" r="1.55" fill="#e00000" stroke="none" stroke-width="0"/>
<circle cx="144.80" cy="130.80" r="1.55" fill="#e00000" stroke="none" stroke-width="0"/>
<circle cx="150.20" cy="132.20" r="1.55" fill="#e00000" stroke="none" stroke-width="0"/>
<circle cx="153.50" cy="136.50" r="1.55" fill="#e00000" stroke="none" stroke-width="0"/>
<circle cx="126.50" cy="121.00" r="1.55" fill="#e00000" stroke="none" stroke-width="0"/>
<circle cx="136.00" cy="124.00" r="1.55" fill="#e00000" stroke="none" stroke-width="0"/>
<circle cx="152.80" cy="129.00" r="1.55" fill="#e00000" stroke="none" stroke-width="0"/>
<circle cx="147.00" cy="128.00" r="1.55" fill="#e00000" stroke="none" stroke-width="0"/>
<circle cx="131.00" cy="124.50" r="1.55" fill="#e00000" stroke="none" stroke-width="0"/>
<circle cx="139.50" cy="123.00" r="1.55" fill="#e00000" stroke="none" stroke-width="0"/>
<line x1="58.60" y1="118.60" x2="66.80" y2="121.50" stroke="#222" stroke-width="0.8" stroke-linecap="butt"/>
<circle cx="69.10" cy="122.30" r="1.5" fill="#6fd8dc" stroke="#0b3b44" stroke-width="0.7"/>
<text x="47.00" y="118.58" font-size="6.9" text-anchor="start" fill="#333" textLength="9.8" lengthAdjust="spacingAndGlyphs" stroke="#333" stroke-width="0.08" >Fos</text>
<line x1="138.40" y1="85.40" x2="121.40" y2="133.60" stroke="#222" stroke-width="0.8" stroke-linecap="butt"/>
<circle cx="120.80" cy="135.50" r="1.5" fill="#6fd8dc" stroke="#0b3b44" stroke-width="0.7"/>
<text x="139.80" y="80.18" font-size="6.9" text-anchor="middle" fill="#333" textLength="12.9" lengthAdjust="spacingAndGlyphs" stroke="#333" stroke-width="0.08" >Tigit</text>
<line x1="148.40" y1="94.00" x2="139.60" y2="102.80" stroke="#222" stroke-width="0.8" stroke-linecap="butt"/>
<circle cx="138.40" cy="104.00" r="1.5" fill="#6fd8dc" stroke="#0b3b44" stroke-width="0.7"/>
<text x="147.90" y="92.28" font-size="6.9" text-anchor="start" fill="#333" textLength="14.5" lengthAdjust="spacingAndGlyphs" stroke="#333" stroke-width="0.08" >Lag3</text>
<line x1="170.70" y1="107.40" x2="160.60" y2="111.60" stroke="#222" stroke-width="0.8" stroke-linecap="butt"/>
<circle cx="159.30" cy="112.20" r="1.5" fill="#6fd8dc" stroke="#0b3b44" stroke-width="0.7"/>
<text x="168.80" y="105.98" font-size="6.9" text-anchor="start" fill="#333" textLength="18" lengthAdjust="spacingAndGlyphs" stroke="#333" stroke-width="0.08" >Fabp4</text>
<line x1="169.70" y1="119.70" x2="147.80" y2="134.80" stroke="#222" stroke-width="0.8" stroke-linecap="butt"/>
<text x="174.10" y="118.28" font-size="6.9" text-anchor="start" fill="#333" textLength="10.3" lengthAdjust="spacingAndGlyphs" stroke="#333" stroke-width="0.08" >Il10</text>
<line x1="165.80" y1="130.60" x2="147.50" y2="136.00" stroke="#222" stroke-width="0.8" stroke-linecap="butt"/>
<text x="169.00" y="132.08" font-size="6.9" text-anchor="start" fill="#333" textLength="16.8" lengthAdjust="spacingAndGlyphs" stroke="#333" stroke-width="0.08" >Pparg</text>
<line x1="160.30" y1="139.50" x2="140.20" y2="139.20" stroke="#222" stroke-width="0.8" stroke-linecap="butt"/>
<text x="163.10" y="141.88" font-size="6.9" text-anchor="start" fill="#333" textLength="13.2" lengthAdjust="spacingAndGlyphs" stroke="#333" stroke-width="0.08" >Trib1</text>
<line x1="163.40" y1="147.60" x2="139.00" y2="145.50" stroke="#222" stroke-width="0.8" stroke-linecap="butt"/>
<text x="164.30" y="150.78" font-size="6.9" text-anchor="start" fill="#333" textLength="15.6" lengthAdjust="spacingAndGlyphs" stroke="#333" stroke-width="0.08" >Cd36</text>
<line x1="141.50" y1="152.80" x2="125.50" y2="151.00" stroke="#222" stroke-width="0.8" stroke-linecap="butt"/>
<text x="141.90" y="155.58" font-size="6.9" text-anchor="start" fill="#333" textLength="18.1" lengthAdjust="spacingAndGlyphs" stroke="#333" stroke-width="0.08" >Fabp5</text>
<circle cx="146.80" cy="135.50" r="1.5" fill="#6fd8dc" stroke="#0b3b44" stroke-width="0.7"/>
<circle cx="139.10" cy="138.20" r="1.5" fill="#6fd8dc" stroke="#0b3b44" stroke-width="0.7"/>
<circle cx="139.10" cy="140.30" r="1.5" fill="#6fd8dc" stroke="#0b3b44" stroke-width="0.7"/>
<circle cx="137.80" cy="145.30" r="1.5" fill="#6fd8dc" stroke="#0b3b44" stroke-width="0.7"/>
<circle cx="124.30" cy="150.70" r="1.5" fill="#6fd8dc" stroke="#0b3b44" stroke-width="0.7"/>
<text x="220.20" y="16.58" font-size="12.4" text-anchor="start" fill="#000" font-weight="bold" textLength="5.9" lengthAdjust="spacingAndGlyphs" stroke="#000" stroke-width="0.35" >B</text>
<text x="296.40" y="28.21" font-size="6.4" text-anchor="middle" fill="#222" textLength="87" lengthAdjust="spacingAndGlyphs" stroke="#222" stroke-width="0.08" >GO_NEGATIVE_REGULATION</text>
<text x="296.40" y="35.61" font-size="6.4" text-anchor="middle" fill="#222" textLength="96.5" lengthAdjust="spacingAndGlyphs" stroke="#222" stroke-width="0.08" >OF_IMMUNE_SYSTEM_PROCESS</text>
<line x1="245.10" y1="40.09" x2="247.70" y2="40.09" stroke="#222" stroke-width="0.9" stroke-linecap="butt"/>
<text x="242.10" y="42.33" font-size="6.5" text-anchor="end" fill="#333" textLength="9.2" lengthAdjust="spacingAndGlyphs" stroke="#333" stroke-width="0.08" >0.7</text>
<line x1="245.10" y1="49.12" x2="247.70" y2="49.12" stroke="#222" stroke-width="0.9" stroke-linecap="butt"/>
<text x="242.10" y="51.36" font-size="6.5" text-anchor="end" fill="#333" textLength="9.2" lengthAdjust="spacingAndGlyphs" stroke="#333" stroke-width="0.08" >0.6</text>
<line x1="245.10" y1="58.15" x2="247.70" y2="58.15" stroke="#222" stroke-width="0.9" stroke-linecap="butt"/>
<text x="242.10" y="60.39" font-size="6.5" text-anchor="end" fill="#333" textLength="9.2" lengthAdjust="spacingAndGlyphs" stroke="#333" stroke-width="0.08" >0.5</text>
<line x1="245.10" y1="67.18" x2="247.70" y2="67.18" stroke="#222" stroke-width="0.9" stroke-linecap="butt"/>
<text x="242.10" y="69.42" font-size="6.5" text-anchor="end" fill="#333" textLength="9.2" lengthAdjust="spacingAndGlyphs" stroke="#333" stroke-width="0.08" >0.4</text>
<line x1="245.10" y1="76.21" x2="247.70" y2="76.21" stroke="#222" stroke-width="0.9" stroke-linecap="butt"/>
<text x="242.10" y="78.45" font-size="6.5" text-anchor="end" fill="#333" textLength="9.2" lengthAdjust="spacingAndGlyphs" stroke="#333" stroke-width="0.08" >0.3</text>
<line x1="245.10" y1="85.24" x2="247.70" y2="85.24" stroke="#222" stroke-width="0.9" stroke-linecap="butt"/>
<text x="242.10" y="87.48" font-size="6.5" text-anchor="end" fill="#333" textLength="9.2" lengthAdjust="spacingAndGlyphs" stroke="#333" stroke-width="0.08" >0.2</text>
<line x1="245.10" y1="94.27" x2="247.70" y2="94.27" stroke="#222" stroke-width="0.9" stroke-linecap="butt"/>
<text x="242.10" y="96.51" font-size="6.5" text-anchor="end" fill="#333" textLength="9.2" lengthAdjust="spacingAndGlyphs" stroke="#333" stroke-width="0.08" >0.1</text>
<line x1="245.10" y1="103.30" x2="247.70" y2="103.30" stroke="#222" stroke-width="0.9" stroke-linecap="butt"/>
<text x="242.10" y="105.54" font-size="6.5" text-anchor="end" fill="#333" textLength="9.2" lengthAdjust="spacingAndGlyphs" stroke="#333" stroke-width="0.08" >0.0</text>
<line x1="245.10" y1="103.30" x2="345.70" y2="103.30" stroke="#222" stroke-width="1.1" stroke-linecap="butt"/>
<line x1="248.20" y1="105.20" x2="345.70" y2="105.20" stroke="#333" stroke-width="0.8" stroke-dasharray="0.8 1.2" stroke-linecap="butt"/>
<path d="M248.00,103.00 L248.31,93.71 L248.61,86.94 L248.92,84.37 L249.23,80.66 L249.54,77.64 L249.84,74.96 L250.15,73.26 L250.46,72.59 L250.77,71.62 L251.07,70.72 L251.38,68.61 L251.69,67.77 L252.00,66.84 L252.30,67.23 L252.61,66.45 L252.92,64.92 L253.22,65.63 L253.53,64.99 L253.84,63.94 L254.15,63.27 L254.45,62.01 L254.76,61.29 L255.07,61.57 L255.38,60.48 L255.68,60.23 L255.99,59.86 L256.30,59.13 L256.61,59.42 L256.91,59.29 L257.22,59.76 L257.53,59.21 L257.83,59.29 L258.14,58.99 L258.45,59.13 L258.76,58.75 L259.06,58.40 L259.37,59.31 L259.68,59.22 L259.99,58.90 L260.29,58.62 L260.60,58.02 L260.91,57.87 L261.22,57.92 L261.52,57.58 L261.83,58.52 L262.14,57.98 L262.44,58.57 L262.75,57.90 L263.06,58.67 L263.37,58.44 L263.67,57.04 L263.98,57.12 L264.29,57.89 L264.60,57.06 L264.90,57.57 L265.21,56.54 L265.52,55.87 L265.83,56.44 L266.13,56.44 L266.44,55.80 L266.75,55.71 L267.05,56.22 L267.36,57.26 L267.67,57.13 L267.98,56.40 L268.28,56.74 L268.59,56.70 L268.90,56.80 L269.21,58.00 L269.51,57.29 L269.82,57.99 L270.13,57.99 L270.44,57.79 L270.74,58.71 L271.05,58.03 L271.36,58.90 L271.66,58.32 L271.97,58.91 L272.28,58.78 L272.59,59.02 L272.89,60.16 L273.20,60.08 L273.51,59.54 L273.82,60.51 L274.12,59.73 L274.43,60.14 L274.74,60.95 L275.05,60.81 L275.35,60.21 L275.66,61.61 L275.97,60.72 L276.27,61.02 L276.58,61.97 L276.89,61.58 L277.20,61.77 L277.50,61.69 L277.81,61.94 L278.12,62.86 L278.43,62.62 L278.73,63.35 L279.04,63.26 L279.35,63.61 L279.66,64.55 L279.96,64.11 L280.27,64.47 L280.58,65.11 L280.88,64.39 L281.19,64.58 L281.50,65.86 L281.81,65.97 L282.11,65.41 L282.42,65.55 L282.73,66.55 L283.04,67.07 L283.34,66.26 L283.65,67.53 L283.96,67.63 L284.27,67.43 L284.57,67.37 L284.88,67.12 L285.19,67.23 L285.49,68.72 L285.80,67.90 L286.11,68.75 L286.42,68.32 L286.72,69.30 L287.03,69.18 L287.34,68.95 L287.65,68.98 L287.95,69.94 L288.26,69.23 L288.57,69.64 L288.88,70.30 L289.18,70.91 L289.49,70.77 L289.80,70.50 L290.10,71.59 L290.41,70.78 L290.72,70.72 L291.03,71.27 L291.33,71.73 L291.64,71.42 L291.95,71.82 L292.26,72.32 L292.56,72.84 L292.87,72.46 L293.18,73.02 L293.49,73.99 L293.79,74.35 L294.10,74.13 L294.41,74.42 L294.71,74.50 L295.02,74.11 L295.33,74.20 L295.64,74.41 L295.94,75.89 L296.25,75.84 L296.56,76.44 L296.87,75.35 L297.17,76.45 L297.48,76.47 L297.79,77.05 L298.10,76.71 L298.40,77.90 L298.71,76.84 L299.02,77.75 L299.32,78.29 L299.63,78.78 L299.94,78.82 L300.25,79.04 L300.55,79.44 L300.86,79.87 L301.17,79.35 L301.48,80.09 L301.78,80.66 L302.09,80.88 L302.40,80.51 L302.71,81.30 L303.01,81.67 L303.32,81.53 L303.63,81.88 L303.93,81.80 L304.24,82.35 L304.55,82.66 L304.86,82.18 L305.16,83.23 L305.47,84.00 L305.78,84.10 L306.09,84.16 L306.39,83.95 L306.70,84.69 L307.01,84.71 L307.32,84.75 L307.62,85.55 L307.93,84.73 L308.24,85.90 L308.54,85.13 L308.85,86.17 L309.16,86.25 L309.47,86.13 L309.77,87.03 L310.08,86.99 L310.39,87.39 L310.70,88.06 L311.00,87.37 L311.31,87.26 L311.62,87.91 L311.93,88.68 L312.23,88.25 L312.54,88.44 L312.85,89.71 L313.15,89.61 L313.46,89.54 L313.77,90.41 L314.08,89.86 L314.38,90.54 L314.69,90.06 L315.00,90.56 L315.31,91.26 L315.61,91.59 L315.92,91.72 L316.23,91.20 L316.54,91.65 L316.84,91.45 L317.15,91.38 L317.46,92.06 L317.76,92.71 L318.07,92.90 L318.38,92.88 L318.69,93.39 L318.99,92.63 L319.30,92.65 L319.61,93.22 L319.92,93.15 L320.22,93.24 L320.53,93.70 L320.84,94.17 L321.15,94.16 L321.45,94.09 L321.76,94.99 L322.07,95.34 L322.37,94.72 L322.68,94.32 L322.99,94.38 L323.30,95.68 L323.60,94.64 L323.91,95.70 L324.22,95.63 L324.53,95.39 L324.83,96.19 L325.14,95.23 L325.45,95.52 L325.76,96.09 L326.06,95.61 L326.37,96.86 L326.68,96.16 L326.98,96.14 L327.29,96.14 L327.60,97.08 L327.91,96.94 L328.21,97.32 L328.52,97.48 L328.83,97.82 L329.14,98.16 L329.44,97.90 L329.75,97.34 L330.06,97.86 L330.37,97.58 L330.67,97.47 L330.98,98.25 L331.29,98.72 L331.59,98.11 L331.90,98.37 L332.21,98.60 L332.52,99.23 L332.82,99.11 L333.13,99.37 L333.44,99.70 L333.75,99.33 L334.05,100.02 L334.36,100.31 L334.67,99.29 L334.98,100.61 L335.28,100.45 L335.59,99.75 L335.90,100.33 L336.20,100.71 L336.51,101.24 L336.82,100.62 L337.13,101.02 L337.43,101.61 L337.74,101.69 L338.05,102.09 L338.36,101.60 L338.66,102.06 L338.97,101.62 L339.28,102.54 L339.59,102.86 L339.89,102.81 L340.20,102.80" fill="none" stroke="#284a8c" stroke-width="1.5" stroke-linejoin="round"/>
<path d="M248.00,103.00 L248.66,86.40 L249.32,80.00 L249.98,75.28 L250.63,71.39 L251.29,68.96 L251.95,68.08 L252.61,66.14 L253.27,64.44 L253.93,63.26 L254.59,61.72 L255.24,60.29 L255.90,60.74 L256.56,60.66 L257.22,59.84 L257.88,59.48 L258.54,58.39 L259.20,58.47 L259.85,57.40 L260.51,58.97 L261.17,57.61 L261.83,57.53 L262.49,59.53 L263.15,57.54 L263.81,59.09 L264.46,57.55 L265.12,57.53 L265.78,56.67 L266.44,55.16 L267.10,57.11 L267.76,56.10 L268.42,56.89 L269.07,56.40 L269.73,56.53 L270.39,57.81 L271.05,57.09 L271.71,58.54 L272.37,60.27 L273.03,61.06 L273.68,59.67 L274.34,59.07 L275.00,60.13 L275.66,59.62 L276.32,60.54 L276.98,62.25 L277.64,62.73 L278.29,61.47 L278.95,63.34 L279.61,63.64 L280.27,64.06 L280.93,63.77 L281.59,65.04 L282.25,64.66 L282.90,66.91 L283.56,67.29 L284.22,67.65 L284.88,67.40 L285.54,69.47 L286.20,68.12 L286.86,68.05 L287.51,68.97 L288.17,71.01 L288.83,69.17 L289.49,71.40 L290.15,72.35 L290.81,72.51 L291.47,71.80 L292.12,72.26 L292.78,74.02 L293.44,74.04 L294.10,74.83 L294.76,73.45 L295.42,75.24 L296.08,76.14 L296.73,75.14 L297.39,75.55 L298.05,77.95 L298.71,77.64 L299.37,77.72 L300.03,78.53 L300.69,78.41 L301.34,78.96 L302.00,79.11 L302.66,80.57 L303.32,80.37 L303.98,83.20 L304.64,83.95 L305.30,83.43 L305.95,82.50 L306.61,84.58 L307.27,83.77 L307.93,84.93 L308.59,84.71 L309.25,86.33 L309.91,85.58 L310.56,86.71 L311.22,87.08 L311.88,88.29 L312.54,90.20 L313.20,89.66 L313.86,90.78 L314.52,91.06 L315.17,90.85 L315.83,89.84 L316.49,90.18 L317.15,90.79 L317.81,92.31 L318.47,92.16 L319.13,94.31 L319.78,92.49 L320.44,92.66 L321.10,94.57 L321.76,94.84 L322.42,93.47 L323.08,94.61 L323.74,95.17 L324.39,96.57 L325.05,96.71 L325.71,97.25 L326.37,96.51 L327.03,97.98 L327.69,96.84 L328.35,96.56 L329.00,96.38 L329.66,98.72 L330.32,98.46 L330.98,98.64 L331.64,100.01 L332.30,99.25 L332.96,98.57 L333.61,100.01 L334.27,100.98 L334.93,99.02 L335.59,101.60 L336.25,100.30 L336.91,99.67 L337.57,101.19 L338.22,102.42 L338.88,101.96 L339.54,101.70 L340.20,102.80" fill="none" stroke="#284a8c" stroke-width="0.8" stroke-linejoin="round"/>
<text x="279.00" y="48.39" font-size="4.9" text-anchor="start" fill="#333" textLength="31.0" lengthAdjust="spacingAndGlyphs" >Nom p-val = 0.0</text>
<text x="279.00" y="54.09" font-size="4.9" text-anchor="start" fill="#333" textLength="50.0" lengthAdjust="spacingAndGlyphs" >FDR q-val = 0.0023192083</text>
<path d="M248,112.6h1v3.9h-1zM249,112.6h1v3.9h-1zM250,112.6h1v3.9h-1zM252,112.6h1v3.9h-1zM254,112.6h1v3.9h-1zM256,112.6h1v3.9h-1zM257,112.6h1v3.9h-1zM258,112.6h1v3.9h-1zM261,112.6h1v3.9h-1zM264,112.6h1v3.9h-1zM268,112.6h1v3.9h-1zM269,112.6h1v3.9h-1zM271,112.6h1v3.9h-1zM272,112.6h1v3.9h-1zM273,112.6h1v3.9h-1zM276,112.6h1v3.9h-1zM277,112.6h1v3.9h-1zM283,112.6h1v3.9h-1zM284,112.6h1v3.9h-1zM288,112.6h1v3.9h-1zM289,112.6h1v3.9h-1zM290,112.6h1v3.9h-1zM292,112.6h1v3.9h-1zM293,112.6h1v3.9h-1zM296,112.6h1v3.9h-1zM298,112.6h1v3.9h-1zM300,112.6h1v3.9h-1zM302,112.6h1v3.9h-1zM304,112.6h1v3.9h-1zM305,112.6h1v3.9h-1zM306,112.6h1v3.9h-1zM308,112.6h1v3.9h-1zM309,112.6h1v3.9h-1zM310,112.6h1v3.9h-1zM312,112.6h1v3.9h-1zM313,112.6h1v3.9h-1zM314,112.6h1v3.9h-1zM319,112.6h1v3.9h-1zM320,112.6h1v3.9h-1zM321,112.6h1v3.9h-1zM323,112.6h1v3.9h-1zM326,112.6h1v3.9h-1zM330,112.6h1v3.9h-1zM332,112.6h1v3.9h-1zM333,112.6h1v3.9h-1zM334,112.6h1v3.9h-1zM337,112.6h1v3.9h-1zM338,112.6h1v3.9h-1zM339,112.6h1v3.9h-1z" fill="#000" shape-rendering="crispEdges"/>
<path d="M253,112.6h1v3.9h-1zM255,112.6h1v3.9h-1zM260,112.6h1v3.9h-1zM267,112.6h1v3.9h-1zM270,112.6h1v3.9h-1zM281,112.6h1v3.9h-1zM294,112.6h1v3.9h-1zM295,112.6h1v3.9h-1zM303,112.6h1v3.9h-1zM317,112.6h1v3.9h-1zM324,112.6h1v3.9h-1zM327,112.6h1v3.9h-1zM329,112.6h1v3.9h-1zM331,112.6h1v3.9h-1z" fill="#3a3a3a" shape-rendering="crispEdges"/>
<path d="M251,112.6h1v3.9h-1zM259,112.6h1v3.9h-1zM262,112.6h1v3.9h-1zM263,112.6h1v3.9h-1zM265,112.6h1v3.9h-1zM266,112.6h1v3.9h-1zM274,112.6h1v3.9h-1zM275,112.6h1v3.9h-1zM282,112.6h1v3.9h-1zM285,112.6h1v3.9h-1zM286,112.6h1v3.9h-1zM287,112.6h1v3.9h-1zM291,112.6h1v3.9h-1zM297,112.6h1v3.9h-1zM299,112.6h1v3.9h-1zM301,112.6h1v3.9h-1zM307,112.6h1v3.9h-1zM311,112.6h1v3.9h-1zM315,112.6h1v3.9h-1zM316,112.6h1v3.9h-1zM318,112.6h1v3.9h-1zM322,112.6h1v3.9h-1zM325,112.6h1v3.9h-1zM328,112.6h1v3.9h-1zM335,112.6h1v3.9h-1zM336,112.6h1v3.9h-1zM340,112.6h1v3.9h-1z" fill="#9a9a9a" shape-rendering="crispEdges"/>
<line x1="248.30" y1="117.80" x2="341.30" y2="117.80" stroke="#aaa" stroke-width="0.6" stroke-linecap="butt"/>
<rect x="247.70" y="40.00" width="98.00" height="81.00" fill="none" stroke="#111" stroke-width="1.1"/>
<path d="M248.30,149.30 L248.30,140.00 L250.00,141.80 L252.00,143.80 L254.00,145.20 L257.00,146.30 L261.00,147.30 L266.00,148.00 L272.00,148.50 L280.00,148.90 L290.00,149.20 L296.00,149.30 Z" fill="#a50b32" stroke="none" stroke-width="0"/>
<path d="M296.00,149.30 L310.00,149.80 L320.00,150.50 L328.00,151.30 L334.00,152.30 L338.00,153.30 L340.00,154.70 L341.00,149.30 Z" fill="#a50b32" stroke="none" stroke-width="0"/>
<line x1="248.30" y1="133.30" x2="248.30" y2="167.30" stroke="#222" stroke-width="1.1" stroke-linecap="butt"/>
<line x1="248.30" y1="133.30" x2="348.60" y2="133.30" stroke="#222" stroke-width="1.1" stroke-linecap="butt"/>
<line x1="248.30" y1="149.30" x2="348.60" y2="149.30" stroke="#222" stroke-width="1.1" stroke-linecap="butt"/>
<line x1="345.60" y1="133.30" x2="345.60" y2="169.00" stroke="#222" stroke-width="1.0" stroke-linecap="butt"/>
<line x1="296.50" y1="133.30" x2="296.50" y2="165.00" stroke="#222" stroke-width="0.9" stroke-linecap="butt"/>
<line x1="245.70" y1="133.30" x2="248.30" y2="133.30" stroke="#222" stroke-width="0.9" stroke-linecap="butt"/>
<text x="243.30" y="135.54" font-size="6.5" text-anchor="end" fill="#333" textLength="9.2" lengthAdjust="spacingAndGlyphs" stroke="#333" stroke-width="0.08" >5.0</text>
<line x1="246.70" y1="137.36" x2="248.30" y2="137.36" stroke="#222" stroke-width="0.8" stroke-linecap="butt"/>
<line x1="245.70" y1="141.43" x2="248.30" y2="141.43" stroke="#222" stroke-width="0.9" stroke-linecap="butt"/>
<text x="243.30" y="143.67" font-size="6.5" text-anchor="end" fill="#333" textLength="9.2" lengthAdjust="spacingAndGlyphs" stroke="#333" stroke-width="0.08" >2.5</text>
<line x1="246.70" y1="145.49" x2="248.30" y2="145.49" stroke="#222" stroke-width="0.8" stroke-linecap="butt"/>
<line x1="245.70" y1="149.55" x2="248.30" y2="149.55" stroke="#222" stroke-width="0.9" stroke-linecap="butt"/>
<text x="243.30" y="151.79" font-size="6.5" text-anchor="end" fill="#333" textLength="9.2" lengthAdjust="spacingAndGlyphs" stroke="#333" stroke-width="0.08" >0.0</text>
<line x1="246.70" y1="153.61" x2="248.30" y2="153.61" stroke="#222" stroke-width="0.8" stroke-linecap="butt"/>
<line x1="245.70" y1="157.68" x2="248.30" y2="157.68" stroke="#222" stroke-width="0.9" stroke-linecap="butt"/>
<text x="243.30" y="159.92" font-size="6.5" text-anchor="end" fill="#333" textLength="11.6" lengthAdjust="spacingAndGlyphs" stroke="#333" stroke-width="0.08" >-2.5</text>
<line x1="246.70" y1="161.74" x2="248.30" y2="161.74" stroke="#222" stroke-width="0.8" stroke-linecap="butt"/>
<line x1="245.70" y1="165.80" x2="248.30" y2="165.80" stroke="#222" stroke-width="0.9" stroke-linecap="butt"/>
<text x="243.30" y="168.04" font-size="6.5" text-anchor="end" fill="#333" textLength="11.6" lengthAdjust="spacingAndGlyphs" stroke="#333" stroke-width="0.08" >-5.0</text>
<line x1="256.70" y1="130.50" x2="256.70" y2="133.30" stroke="#222" stroke-width="0.9" stroke-linecap="butt"/>
<line x1="256.70" y1="149.30" x2="256.70" y2="152.10" stroke="#222" stroke-width="0.9" stroke-linecap="butt"/>
<line x1="264.70" y1="130.50" x2="264.70" y2="133.30" stroke="#222" stroke-width="0.9" stroke-linecap="butt"/>
<line x1="264.70" y1="149.30" x2="264.70" y2="152.10" stroke="#222" stroke-width="0.9" stroke-linecap="butt"/>
<line x1="272.70" y1="130.50" x2="272.70" y2="133.30" stroke="#222" stroke-width="0.9" stroke-linecap="butt"/>
<line x1="272.70" y1="149.30" x2="272.70" y2="152.10" stroke="#222" stroke-width="0.9" stroke-linecap="butt"/>
<line x1="280.70" y1="130.50" x2="280.70" y2="133.30" stroke="#222" stroke-width="0.9" stroke-linecap="butt"/>
<line x1="280.70" y1="149.30" x2="280.70" y2="152.10" stroke="#222" stroke-width="0.9" stroke-linecap="butt"/>
<line x1="288.70" y1="130.50" x2="288.70" y2="133.30" stroke="#222" stroke-width="0.9" stroke-linecap="butt"/>
<line x1="288.70" y1="149.30" x2="288.70" y2="152.10" stroke="#222" stroke-width="0.9" stroke-linecap="butt"/>
<line x1="296.70" y1="130.50" x2="296.70" y2="133.30" stroke="#222" stroke-width="0.9" stroke-linecap="butt"/>
<line x1="296.70" y1="149.30" x2="296.70" y2="152.10" stroke="#222" stroke-width="0.9" stroke-linecap="butt"/>
<line x1="304.70" y1="130.50" x2="304.70" y2="133.30" stroke="#222" stroke-width="0.9" stroke-linecap="butt"/>
<line x1="304.70" y1="149.30" x2="304.70" y2="152.10" stroke="#222" stroke-width="0.9" stroke-linecap="butt"/>
<line x1="312.70" y1="130.50" x2="312.70" y2="133.30" stroke="#222" stroke-width="0.9" stroke-linecap="butt"/>
<line x1="312.70" y1="149.30" x2="312.70" y2="152.10" stroke="#222" stroke-width="0.9" stroke-linecap="butt"/>
<line x1="320.70" y1="130.50" x2="320.70" y2="133.30" stroke="#222" stroke-width="0.9" stroke-linecap="butt"/>
<line x1="320.70" y1="149.30" x2="320.70" y2="152.10" stroke="#222" stroke-width="0.9" stroke-linecap="butt"/>
<line x1="328.70" y1="130.50" x2="328.70" y2="133.30" stroke="#222" stroke-width="0.9" stroke-linecap="butt"/>
<line x1="328.70" y1="149.30" x2="328.70" y2="152.10" stroke="#222" stroke-width="0.9" stroke-linecap="butt"/>
<line x1="336.70" y1="130.50" x2="336.70" y2="133.30" stroke="#222" stroke-width="0.9" stroke-linecap="butt"/>
<line x1="336.70" y1="149.30" x2="336.70" y2="152.10" stroke="#222" stroke-width="0.9" stroke-linecap="butt"/>
<line x1="344.70" y1="130.50" x2="344.70" y2="133.30" stroke="#222" stroke-width="0.9" stroke-linecap="butt"/>
<line x1="344.70" y1="149.30" x2="344.70" y2="152.10" stroke="#222" stroke-width="0.9" stroke-linecap="butt"/>
<line x1="345.60" y1="133.30" x2="348.00" y2="133.30" stroke="#222" stroke-width="0.8" stroke-linecap="butt"/>
<line x1="345.60" y1="137.36" x2="347.10" y2="137.36" stroke="#222" stroke-width="0.8" stroke-linecap="butt"/>
<line x1="345.60" y1="141.43" x2="348.00" y2="141.43" stroke="#222" stroke-width="0.8" stroke-linecap="butt"/>
<line x1="345.60" y1="145.49" x2="347.10" y2="145.49" stroke="#222" stroke-width="0.8" stroke-linecap="butt"/>
<line x1="345.60" y1="149.55" x2="348.00" y2="149.55" stroke="#222" stroke-width="0.8" stroke-linecap="butt"/>
<line x1="345.60" y1="153.61" x2="347.10" y2="153.61" stroke="#222" stroke-width="0.8" stroke-linecap="butt"/>
<line x1="345.60" y1="157.68" x2="348.00" y2="157.68" stroke="#222" stroke-width="0.8" stroke-linecap="butt"/>
<line x1="345.60" y1="161.74" x2="347.10" y2="161.74" stroke="#222" stroke-width="0.8" stroke-linecap="butt"/>
<line x1="345.60" y1="165.80" x2="348.00" y2="165.80" stroke="#222" stroke-width="0.8" stroke-linecap="butt"/>
<line x1="345.60" y1="169.86" x2="347.10" y2="169.86" stroke="#222" stroke-width="0.8" stroke-linecap="butt"/>
<text x="273.00" y="138.72" font-size="4.7" text-anchor="middle" fill="#b01040" textLength="18" lengthAdjust="spacingAndGlyphs" >Eμ-myc NK</text>
<text x="273.00" y="144.32" font-size="4.7" text-anchor="middle" fill="#b01040" textLength="40.5" lengthAdjust="spacingAndGlyphs" >(positively correlated)</text>
<text x="320.50" y="158.22" font-size="4.7" text-anchor="middle" fill="#3b5c9c" textLength="20.5" lengthAdjust="spacingAndGlyphs" >Healthy NK</text>
<text x="320.50" y="163.62" font-size="4.7" text-anchor="middle" fill="#3b5c9c" textLength="42.6" lengthAdjust="spacingAndGlyphs" >(negatively correlated)</text>
<text x="256.00" y="171.50" font-size="6.6" text-anchor="end" fill="#333" transform="rotate(-45 256.00 171.50)" textLength="10.6" lengthAdjust="spacingAndGlyphs">500</text>
<text x="264.25" y="171.50" font-size="6.6" text-anchor="end" fill="#333" transform="rotate(-45 264.25 171.50)" textLength="14.2" lengthAdjust="spacingAndGlyphs">1000</text>
<text x="272.51" y="171.50" font-size="6.6" text-anchor="end" fill="#333" transform="rotate(-45 272.51 171.50)" textLength="14.2" lengthAdjust="spacingAndGlyphs">1500</text>
<text x="280.76" y="171.50" font-size="6.6" text-anchor="end" fill="#333" transform="rotate(-45 280.76 171.50)" textLength="14.2" lengthAdjust="spacingAndGlyphs">2000</text>
<text x="289.02" y="171.50" font-size="6.6" text-anchor="end" fill="#333" transform="rotate(-45 289.02 171.50)" textLength="14.2" lengthAdjust="spacingAndGlyphs">2500</text>
<text x="297.27" y="171.50" font-size="6.6" text-anchor="end" fill="#333" transform="rotate(-45 297.27 171.50)" textLength="14.2" lengthAdjust="spacingAndGlyphs">3000</text>
<text x="305.53" y="171.50" font-size="6.6" text-anchor="end" fill="#333" transform="rotate(-45 305.53 171.50)" textLength="14.2" lengthAdjust="spacingAndGlyphs">3500</text>
<text x="313.78" y="171.50" font-size="6.6" text-anchor="end" fill="#333" transform="rotate(-45 313.78 171.50)" textLength="14.2" lengthAdjust="spacingAndGlyphs">4000</text>
<text x="322.04" y="171.50" font-size="6.6" text-anchor="end" fill="#333" transform="rotate(-45 322.04 171.50)" textLength="14.2" lengthAdjust="spacingAndGlyphs">4500</text>
<text x="330.29" y="171.50" font-size="6.6" text-anchor="end" fill="#333" transform="rotate(-45 330.29 171.50)" textLength="14.2" lengthAdjust="spacingAndGlyphs">5000</text>
<text x="338.55" y="171.50" font-size="6.6" text-anchor="end" fill="#333" transform="rotate(-45 338.55 171.50)" textLength="14.2" lengthAdjust="spacingAndGlyphs">5500</text>
<text x="346.80" y="171.50" font-size="6.6" text-anchor="end" fill="#333" transform="rotate(-45 346.80 171.50)" textLength="14.2" lengthAdjust="spacingAndGlyphs">6000</text>
<text x="223.60" y="82.82" font-size="7.6" text-anchor="middle" fill="#333" textLength="65.5" lengthAdjust="spacingAndGlyphs" stroke="#333" stroke-width="0.08" transform="rotate(-90 223.60 80.20)" >Enrichment score (ES)</text>
<text x="223.60" y="153.42" font-size="7.6" text-anchor="middle" fill="#333" textLength="52.9" lengthAdjust="spacingAndGlyphs" stroke="#333" stroke-width="0.08" transform="rotate(-90 223.60 150.80)" >Ranked list metric</text>
<text x="382.10" y="16.63" font-size="12.4" text-anchor="start" fill="#000" font-weight="bold" textLength="6.9" lengthAdjust="spacingAndGlyphs" stroke="#000" stroke-width="0.35" >C</text>
<text x="457.50" y="35.41" font-size="6.4" text-anchor="middle" fill="#222" textLength="74" lengthAdjust="spacingAndGlyphs" stroke="#222" stroke-width="0.08" >GO_RESPONSE_TO_LIPID</text>
<line x1="405.80" y1="45.00" x2="408.40" y2="45.00" stroke="#222" stroke-width="0.9" stroke-linecap="butt"/>
<text x="402.80" y="47.24" font-size="6.5" text-anchor="end" fill="#333" textLength="9.2" lengthAdjust="spacingAndGlyphs" stroke="#333" stroke-width="0.08" >0.5</text>
<line x1="405.80" y1="55.92" x2="408.40" y2="55.92" stroke="#222" stroke-width="0.9" stroke-linecap="butt"/>
<text x="402.80" y="58.16" font-size="6.5" text-anchor="end" fill="#333" textLength="9.2" lengthAdjust="spacingAndGlyphs" stroke="#333" stroke-width="0.08" >0.4</text>
<line x1="405.80" y1="66.84" x2="408.40" y2="66.84" stroke="#222" stroke-width="0.9" stroke-linecap="butt"/>
<text x="402.80" y="69.08" font-size="6.5" text-anchor="end" fill="#333" textLength="9.2" lengthAdjust="spacingAndGlyphs" stroke="#333" stroke-width="0.08" >0.3</text>
<line x1="405.80" y1="77.76" x2="408.40" y2="77.76" stroke="#222" stroke-width="0.9" stroke-linecap="butt"/>
<text x="402.80" y="80.00" font-size="6.5" text-anchor="end" fill="#333" textLength="9.2" lengthAdjust="spacingAndGlyphs" stroke="#333" stroke-width="0.08" >0.2</text>
<line x1="405.80" y1="88.68" x2="408.40" y2="88.68" stroke="#222" stroke-width="0.9" stroke-linecap="butt"/>
<text x="402.80" y="90.92" font-size="6.5" text-anchor="end" fill="#333" textLength="9.2" lengthAdjust="spacingAndGlyphs" stroke="#333" stroke-width="0.08" >0.1</text>
<line x1="405.80" y1="99.60" x2="408.40" y2="99.60" stroke="#222" stroke-width="0.9" stroke-linecap="butt"/>
<text x="402.80" y="101.84" font-size="6.5" text-anchor="end" fill="#333" textLength="9.2" lengthAdjust="spacingAndGlyphs" stroke="#333" stroke-width="0.08" >0.0</text>
<line x1="405.80" y1="99.60" x2="506.00" y2="99.60" stroke="#222" stroke-width="1.1" stroke-linecap="butt"/>
<line x1="408.90" y1="101.50" x2="506.00" y2="101.50" stroke="#333" stroke-width="0.8" stroke-dasharray="0.8 1.2" stroke-linecap="butt"/>
<path d="M408.60,99.50 L408.91,86.42 L409.22,81.99 L409.54,77.45 L409.85,73.80 L410.16,72.48 L410.47,70.21 L410.79,68.92 L411.10,67.32 L411.41,66.37 L411.72,65.68 L412.04,64.63 L412.35,64.32 L412.66,63.07 L412.97,62.52 L413.29,62.76 L413.60,61.71 L413.91,61.20 L414.22,61.09 L414.53,60.23 L414.85,59.48 L415.16,60.16 L415.47,59.56 L415.78,59.32 L416.10,58.93 L416.41,59.09 L416.72,57.91 L417.03,58.13 L417.35,57.24 L417.66,57.19 L417.97,56.98 L418.28,56.16 L418.59,55.50 L418.91,55.71 L419.22,55.72 L419.53,55.20 L419.84,54.97 L420.16,55.30 L420.47,54.71 L420.78,54.76 L421.09,55.02 L421.41,55.76 L421.72,54.95 L422.03,54.89 L422.34,54.92 L422.66,54.89 L422.97,55.28 L423.28,55.68 L423.59,56.00 L423.90,55.30 L424.22,55.33 L424.53,55.19 L424.84,55.19 L425.15,55.83 L425.47,55.48 L425.78,55.05 L426.09,54.82 L426.40,55.74 L426.72,55.61 L427.03,55.76 L427.34,54.96 L427.65,55.41 L427.96,55.96 L428.28,55.53 L428.59,56.04 L428.90,54.98 L429.21,56.13 L429.53,54.87 L429.84,55.40 L430.15,54.87 L430.46,55.99 L430.78,55.85 L431.09,56.32 L431.40,56.27 L431.71,56.66 L432.03,56.27 L432.34,57.09 L432.65,56.94 L432.96,56.56 L433.27,57.63 L433.59,56.98 L433.90,56.91 L434.21,56.93 L434.52,57.67 L434.84,57.48 L435.15,58.69 L435.46,58.89 L435.77,58.04 L436.09,58.05 L436.40,58.82 L436.71,58.50 L437.02,59.19 L437.33,59.75 L437.65,59.14 L437.96,59.55 L438.27,60.39 L438.58,59.93 L438.90,59.96 L439.21,60.91 L439.52,60.97 L439.83,61.26 L440.15,61.14 L440.46,60.92 L440.77,61.49 L441.08,61.85 L441.40,61.75 L441.71,61.36 L442.02,61.60 L442.33,61.93 L442.64,62.61 L442.96,62.48 L443.27,62.64 L443.58,63.19 L443.89,62.35 L444.21,63.25 L444.52,63.01 L444.83,63.49 L445.14,64.07 L445.46,63.47 L445.77,64.67 L446.08,63.67 L446.39,64.56 L446.70,64.75 L447.02,64.54 L447.33,65.22 L447.64,65.31 L447.95,65.50 L448.27,66.09 L448.58,65.31 L448.89,66.05 L449.20,66.84 L449.52,66.16 L449.83,67.39 L450.14,66.70 L450.45,67.62 L450.76,67.15 L451.08,67.79 L451.39,68.00 L451.70,67.78 L452.01,68.89 L452.33,68.83 L452.64,69.38 L452.95,69.42 L453.26,69.69 L453.58,69.90 L453.89,69.83 L454.20,70.92 L454.51,70.03 L454.83,71.39 L455.14,71.63 L455.45,71.40 L455.76,72.07 L456.07,72.21 L456.39,72.40 L456.70,72.24 L457.01,72.56 L457.32,72.88 L457.64,73.10 L457.95,74.30 L458.26,73.71 L458.57,74.06 L458.89,74.38 L459.20,75.22 L459.51,75.03 L459.82,75.42 L460.13,75.29 L460.45,75.64 L460.76,75.68 L461.07,76.18 L461.38,76.55 L461.70,77.69 L462.01,77.51 L462.32,77.28 L462.63,78.08 L462.95,77.92 L463.26,78.85 L463.57,78.99 L463.88,79.88 L464.20,79.36 L464.51,80.50 L464.82,79.97 L465.13,81.31 L465.44,81.13 L465.76,80.62 L466.07,82.00 L466.38,81.57 L466.69,82.00 L467.01,82.01 L467.32,83.29 L467.63,82.56 L467.94,83.78 L468.26,83.61 L468.57,84.32 L468.88,84.09 L469.19,84.10 L469.50,85.59 L469.82,85.53 L470.13,85.18 L470.44,86.65 L470.75,86.91 L471.07,86.23 L471.38,86.34 L471.69,87.52 L472.00,87.20 L472.32,88.37 L472.63,88.35 L472.94,89.03 L473.25,89.18 L473.57,89.80 L473.88,90.22 L474.19,90.25 L474.50,90.58 L474.81,90.55 L475.13,90.62 L475.44,90.89 L475.75,92.28 L476.06,91.70 L476.38,92.33 L476.69,92.50 L477.00,93.25 L477.31,93.45 L477.63,94.23 L477.94,93.97 L478.25,94.19 L478.56,94.92 L478.88,95.37 L479.19,95.95 L479.50,95.42 L479.81,96.55 L480.12,96.99 L480.44,97.27 L480.75,96.35 L481.06,96.99 L481.37,97.82 L481.69,98.18 L482.00,97.35 L482.31,98.13 L482.62,98.87 L482.94,99.20 L483.25,99.17 L483.56,99.00 L483.87,99.55 L484.18,99.32 L484.50,99.91 L484.81,100.31 L485.12,101.09 L485.43,101.00 L485.75,100.99 L486.06,100.99 L486.37,101.32 L486.68,102.05 L487.00,101.97 L487.31,101.82 L487.62,102.97 L487.93,102.86 L488.25,103.59 L488.56,103.16 L488.87,103.45 L489.18,103.35 L489.49,103.77 L489.81,104.38 L490.12,104.64 L490.43,104.36 L490.74,104.21 L491.06,103.87 L491.37,105.13 L491.68,104.67 L491.99,104.83 L492.31,104.43 L492.62,104.46 L492.93,105.01 L493.24,105.88 L493.55,105.61 L493.87,105.62 L494.18,105.62 L494.49,105.12 L494.80,105.03 L495.12,105.69 L495.43,104.99 L495.74,105.78 L496.05,105.71 L496.37,105.67 L496.68,105.01 L496.99,104.86 L497.30,105.36 L497.62,104.83 L497.93,105.45 L498.24,104.91 L498.55,105.27 L498.86,105.38 L499.18,104.95 L499.49,104.49 L499.80,103.67 L500.11,103.52 L500.43,104.05 L500.74,102.70 L501.05,102.37 L501.36,101.76 L501.68,100.45 L501.99,99.40 L502.30,97.60" fill="none" stroke="#b01438" stroke-width="1.5" stroke-linejoin="round"/>
<path d="M408.60,99.50 L409.27,80.06 L409.94,73.81 L410.61,69.67 L411.28,67.13 L411.95,65.46 L412.62,63.79 L413.29,62.52 L413.95,60.20 L414.62,59.17 L415.29,58.89 L415.96,59.75 L416.63,56.77 L417.30,57.03 L417.97,56.52 L418.64,56.19 L419.31,55.11 L419.98,56.13 L420.65,56.50 L421.32,55.51 L421.99,54.53 L422.66,56.66 L423.32,56.64 L423.99,55.42 L424.66,56.37 L425.33,56.58 L426.00,56.73 L426.67,54.51 L427.34,54.48 L428.01,56.28 L428.68,54.74 L429.35,54.80 L430.02,54.17 L430.69,56.36 L431.36,55.02 L432.03,55.23 L432.69,56.96 L433.36,55.77 L434.03,58.27 L434.70,56.57 L435.37,59.62 L436.04,57.48 L436.71,57.89 L437.38,59.22 L438.05,60.50 L438.72,60.04 L439.39,61.08 L440.06,60.06 L440.73,62.27 L441.40,60.66 L442.06,61.64 L442.73,63.19 L443.40,62.32 L444.07,61.68 L444.74,64.02 L445.41,62.56 L446.08,63.99 L446.75,64.25 L447.42,65.16 L448.09,64.57 L448.76,67.40 L449.43,67.54 L450.10,67.22 L450.77,67.01 L451.43,67.81 L452.10,67.96 L452.77,68.94 L453.44,69.72 L454.11,71.04 L454.78,69.61 L455.45,72.70 L456.12,73.20 L456.79,72.71 L457.46,73.35 L458.13,72.59 L458.80,73.57 L459.47,73.65 L460.13,74.46 L460.80,76.97 L461.47,76.07 L462.14,78.23 L462.81,79.15 L463.48,78.73 L464.15,80.19 L464.82,80.59 L465.49,81.35 L466.16,81.93 L466.83,82.76 L467.50,81.96 L468.17,85.15 L468.84,83.45 L469.50,83.91 L470.17,84.91 L470.84,87.38 L471.51,88.60 L472.18,89.37 L472.85,87.54 L473.52,89.02 L474.19,90.87 L474.86,89.67 L475.53,91.29 L476.20,92.44 L476.87,92.26 L477.54,93.04 L478.21,94.26 L478.88,93.93 L479.54,96.91 L480.21,96.30 L480.88,96.01 L481.55,97.58 L482.22,97.79 L482.89,99.21 L483.56,98.10 L484.23,99.57 L484.90,99.18 L485.57,101.26 L486.24,101.45 L486.91,102.86 L487.58,102.88 L488.25,102.99 L488.91,103.68 L489.58,103.13 L490.25,104.12 L490.92,104.07 L491.59,104.64 L492.26,104.78 L492.93,103.67 L493.60,104.38 L494.27,105.62 L494.94,104.38 L495.61,105.24 L496.28,106.57 L496.95,105.43 L497.62,106.14 L498.28,104.65 L498.95,103.51 L499.62,104.12 L500.29,104.31 L500.96,102.72 L501.63,100.16 L502.30,97.60" fill="none" stroke="#b01438" stroke-width="0.8" stroke-linejoin="round"/>
<text x="443.20" y="46.89" font-size="4.9" text-anchor="start" fill="#333" textLength="31.4" lengthAdjust="spacingAndGlyphs" >Nom p-val = 0.0</text>
<text x="443.20" y="52.89" font-size="4.9" text-anchor="start" fill="#333" textLength="48.9" lengthAdjust="spacingAndGlyphs" >FDR q-val = 0.045865674</text>
<path d="M408,111.2h1v4.4h-1zM409,111.2h1v4.4h-1zM411,111.2h1v4.4h-1zM412,111.2h1v4.4h-1zM413,111.2h1v4.4h-1zM415,111.2h1v4.4h-1zM416,111.2h1v4.4h-1zM418,111.2h1v4.4h-1zM419,111.2h1v4.4h-1zM420,111.2h1v4.4h-1zM422,111.2h1v4.4h-1zM424,111.2h1v4.4h-1zM426,111.2h1v4.4h-1zM428,111.2h1v4.4h-1zM431,111.2h1v4.4h-1zM432,111.2h1v4.4h-1zM434,111.2h1v4.4h-1zM435,111.2h1v4.4h-1zM438,111.2h1v4.4h-1zM439,111.2h1v4.4h-1zM441,111.2h1v4.4h-1zM442,111.2h1v4.4h-1zM443,111.2h1v4.4h-1zM445,111.2h1v4.4h-1zM446,111.2h1v4.4h-1zM449,111.2h1v4.4h-1zM450,111.2h1v4.4h-1zM451,111.2h1v4.4h-1zM455,111.2h1v4.4h-1zM456,111.2h1v4.4h-1zM458,111.2h1v4.4h-1zM460,111.2h1v4.4h-1zM461,111.2h1v4.4h-1zM462,111.2h1v4.4h-1zM464,111.2h1v4.4h-1zM467,111.2h1v4.4h-1zM468,111.2h1v4.4h-1zM471,111.2h1v4.4h-1zM472,111.2h1v4.4h-1zM473,111.2h1v4.4h-1zM476,111.2h1v4.4h-1zM478,111.2h1v4.4h-1zM479,111.2h1v4.4h-1zM481,111.2h1v4.4h-1zM482,111.2h1v4.4h-1zM484,111.2h1v4.4h-1zM487,111.2h1v4.4h-1zM488,111.2h1v4.4h-1zM490,111.2h1v4.4h-1zM491,111.2h1v4.4h-1zM492,111.2h1v4.4h-1zM494,111.2h1v4.4h-1zM495,111.2h1v4.4h-1zM497,111.2h1v4.4h-1zM498,111.2h1v4.4h-1zM500,111.2h1v4.4h-1zM502,111.2h1v4.4h-1z" fill="#000" shape-rendering="crispEdges"/>
<path d="M410,111.2h1v4.4h-1zM429,111.2h1v4.4h-1zM430,111.2h1v4.4h-1zM433,111.2h1v4.4h-1zM436,111.2h1v4.4h-1zM437,111.2h1v4.4h-1zM447,111.2h1v4.4h-1zM454,111.2h1v4.4h-1zM457,111.2h1v4.4h-1zM459,111.2h1v4.4h-1zM465,111.2h1v4.4h-1zM466,111.2h1v4.4h-1zM470,111.2h1v4.4h-1zM475,111.2h1v4.4h-1zM483,111.2h1v4.4h-1zM486,111.2h1v4.4h-1zM496,111.2h1v4.4h-1zM499,111.2h1v4.4h-1zM501,111.2h1v4.4h-1z" fill="#3a3a3a" shape-rendering="crispEdges"/>
<path d="M414,111.2h1v4.4h-1zM417,111.2h1v4.4h-1zM421,111.2h1v4.4h-1zM423,111.2h1v4.4h-1zM425,111.2h1v4.4h-1zM427,111.2h1v4.4h-1zM440,111.2h1v4.4h-1zM444,111.2h1v4.4h-1zM448,111.2h1v4.4h-1zM452,111.2h1v4.4h-1zM453,111.2h1v4.4h-1zM463,111.2h1v4.4h-1zM469,111.2h1v4.4h-1zM474,111.2h1v4.4h-1zM477,111.2h1v4.4h-1zM480,111.2h1v4.4h-1zM485,111.2h1v4.4h-1zM489,111.2h1v4.4h-1zM493,111.2h1v4.4h-1z" fill="#9a9a9a" shape-rendering="crispEdges"/>
<line x1="409.00" y1="116.90" x2="503.50" y2="116.90" stroke="#aaa" stroke-width="0.6" stroke-linecap="butt"/>
<rect x="408.40" y="39.60" width="97.60" height="80.60" fill="none" stroke="#111" stroke-width="1.1"/>
<path d="M411.00,149.30 L411.00,140.00 L413.00,142.00 L415.00,144.00 L418.00,145.40 L421.00,146.40 L425.00,147.30 L430.00,148.00 L437.00,148.50 L445.00,148.90 L455.00,149.20 L460.00,149.30 Z" fill="#a50b32" stroke="none" stroke-width="0"/>
<path d="M460.00,149.30 L472.00,149.80 L482.00,150.50 L490.00,151.30 L496.00,152.30 L500.00,153.30 L502.50,154.70 L503.50,149.30 Z" fill="#a50b32" stroke="none" stroke-width="0"/>
<line x1="411.00" y1="133.10" x2="411.00" y2="167.30" stroke="#222" stroke-width="1.1" stroke-linecap="butt"/>
<line x1="411.00" y1="133.10" x2="511.20" y2="133.10" stroke="#222" stroke-width="1.1" stroke-linecap="butt"/>
<line x1="411.00" y1="149.30" x2="511.20" y2="149.30" stroke="#222" stroke-width="1.1" stroke-linecap="butt"/>
<line x1="508.20" y1="133.10" x2="508.20" y2="169.00" stroke="#222" stroke-width="1.0" stroke-linecap="butt"/>
<line x1="459.60" y1="133.10" x2="459.60" y2="165.00" stroke="#222" stroke-width="0.9" stroke-linecap="butt"/>
<line x1="408.40" y1="133.10" x2="411.00" y2="133.10" stroke="#222" stroke-width="0.9" stroke-linecap="butt"/>
<text x="406.00" y="135.34" font-size="6.5" text-anchor="end" fill="#333" textLength="9.2" lengthAdjust="spacingAndGlyphs" stroke="#333" stroke-width="0.08" >5.0</text>
<line x1="409.40" y1="137.19" x2="411.00" y2="137.19" stroke="#222" stroke-width="0.8" stroke-linecap="butt"/>
<line x1="408.40" y1="141.28" x2="411.00" y2="141.28" stroke="#222" stroke-width="0.9" stroke-linecap="butt"/>
<text x="406.00" y="143.52" font-size="6.5" text-anchor="end" fill="#333" textLength="9.2" lengthAdjust="spacingAndGlyphs" stroke="#333" stroke-width="0.08" >2.5</text>
<line x1="409.40" y1="145.36" x2="411.00" y2="145.36" stroke="#222" stroke-width="0.8" stroke-linecap="butt"/>
<line x1="408.40" y1="149.45" x2="411.00" y2="149.45" stroke="#222" stroke-width="0.9" stroke-linecap="butt"/>
<text x="406.00" y="151.69" font-size="6.5" text-anchor="end" fill="#333" textLength="9.2" lengthAdjust="spacingAndGlyphs" stroke="#333" stroke-width="0.08" >0.0</text>
<line x1="409.40" y1="153.54" x2="411.00" y2="153.54" stroke="#222" stroke-width="0.8" stroke-linecap="butt"/>
<line x1="408.40" y1="157.62" x2="411.00" y2="157.62" stroke="#222" stroke-width="0.9" stroke-linecap="butt"/>
<text x="406.00" y="159.87" font-size="6.5" text-anchor="end" fill="#333" textLength="11.6" lengthAdjust="spacingAndGlyphs" stroke="#333" stroke-width="0.08" >-2.5</text>
<line x1="409.40" y1="161.71" x2="411.00" y2="161.71" stroke="#222" stroke-width="0.8" stroke-linecap="butt"/>
<line x1="408.40" y1="165.80" x2="411.00" y2="165.80" stroke="#222" stroke-width="0.9" stroke-linecap="butt"/>
<text x="406.00" y="168.04" font-size="6.5" text-anchor="end" fill="#333" textLength="11.6" lengthAdjust="spacingAndGlyphs" stroke="#333" stroke-width="0.08" >-5.0</text>
<line x1="419.00" y1="130.30" x2="419.00" y2="133.10" stroke="#222" stroke-width="0.9" stroke-linecap="butt"/>
<line x1="419.00" y1="149.30" x2="419.00" y2="152.10" stroke="#222" stroke-width="0.9" stroke-linecap="butt"/>
<line x1="427.00" y1="130.30" x2="427.00" y2="133.10" stroke="#222" stroke-width="0.9" stroke-linecap="butt"/>
<line x1="427.00" y1="149.30" x2="427.00" y2="152.10" stroke="#222" stroke-width="0.9" stroke-linecap="butt"/>
<line x1="435.00" y1="130.30" x2="435.00" y2="133.10" stroke="#222" stroke-width="0.9" stroke-linecap="butt"/>
<line x1="435.00" y1="149.30" x2="435.00" y2="152.10" stroke="#222" stroke-width="0.9" stroke-linecap="butt"/>
<line x1="443.00" y1="130.30" x2="443.00" y2="133.10" stroke="#222" stroke-width="0.9" stroke-linecap="butt"/>
<line x1="443.00" y1="149.30" x2="443.00" y2="152.10" stroke="#222" stroke-width="0.9" stroke-linecap="butt"/>
<line x1="451.00" y1="130.30" x2="451.00" y2="133.10" stroke="#222" stroke-width="0.9" stroke-linecap="butt"/>
<line x1="451.00" y1="149.30" x2="451.00" y2="152.10" stroke="#222" stroke-width="0.9" stroke-linecap="butt"/>
<line x1="459.00" y1="130.30" x2="459.00" y2="133.10" stroke="#222" stroke-width="0.9" stroke-linecap="butt"/>
<line x1="459.00" y1="149.30" x2="459.00" y2="152.10" stroke="#222" stroke-width="0.9" stroke-linecap="butt"/>
<line x1="467.00" y1="130.30" x2="467.00" y2="133.10" stroke="#222" stroke-width="0.9" stroke-linecap="butt"/>
<line x1="467.00" y1="149.30" x2="467.00" y2="152.10" stroke="#222" stroke-width="0.9" stroke-linecap="butt"/>
<line x1="475.00" y1="130.30" x2="475.00" y2="133.10" stroke="#222" stroke-width="0.9" stroke-linecap="butt"/>
<line x1="475.00" y1="149.30" x2="475.00" y2="152.10" stroke="#222" stroke-width="0.9" stroke-linecap="butt"/>
<line x1="483.00" y1="130.30" x2="483.00" y2="133.10" stroke="#222" stroke-width="0.9" stroke-linecap="butt"/>
<line x1="483.00" y1="149.30" x2="483.00" y2="152.10" stroke="#222" stroke-width="0.9" stroke-linecap="butt"/>
<line x1="491.00" y1="130.30" x2="491.00" y2="133.10" stroke="#222" stroke-width="0.9" stroke-linecap="butt"/>
<line x1="491.00" y1="149.30" x2="491.00" y2="152.10" stroke="#222" stroke-width="0.9" stroke-linecap="butt"/>
<line x1="499.00" y1="130.30" x2="499.00" y2="133.10" stroke="#222" stroke-width="0.9" stroke-linecap="butt"/>
<line x1="499.00" y1="149.30" x2="499.00" y2="152.10" stroke="#222" stroke-width="0.9" stroke-linecap="butt"/>
<line x1="507.00" y1="130.30" x2="507.00" y2="133.10" stroke="#222" stroke-width="0.9" stroke-linecap="butt"/>
<line x1="507.00" y1="149.30" x2="507.00" y2="152.10" stroke="#222" stroke-width="0.9" stroke-linecap="butt"/>
<line x1="508.20" y1="133.10" x2="510.60" y2="133.10" stroke="#222" stroke-width="0.8" stroke-linecap="butt"/>
<line x1="508.20" y1="137.19" x2="509.70" y2="137.19" stroke="#222" stroke-width="0.8" stroke-linecap="butt"/>
<line x1="508.20" y1="141.28" x2="510.60" y2="141.28" stroke="#222" stroke-width="0.8" stroke-linecap="butt"/>
<line x1="508.20" y1="145.36" x2="509.70" y2="145.36" stroke="#222" stroke-width="0.8" stroke-linecap="butt"/>
<line x1="508.20" y1="149.45" x2="510.60" y2="149.45" stroke="#222" stroke-width="0.8" stroke-linecap="butt"/>
<line x1="508.20" y1="153.54" x2="509.70" y2="153.54" stroke="#222" stroke-width="0.8" stroke-linecap="butt"/>
<line x1="508.20" y1="157.62" x2="510.60" y2="157.62" stroke="#222" stroke-width="0.8" stroke-linecap="butt"/>
<line x1="508.20" y1="161.71" x2="509.70" y2="161.71" stroke="#222" stroke-width="0.8" stroke-linecap="butt"/>
<line x1="508.20" y1="165.80" x2="510.60" y2="165.80" stroke="#222" stroke-width="0.8" stroke-linecap="butt"/>
<line x1="508.20" y1="169.89" x2="509.70" y2="169.89" stroke="#222" stroke-width="0.8" stroke-linecap="butt"/>
<text x="436.00" y="138.72" font-size="4.7" text-anchor="middle" fill="#b01040" textLength="18" lengthAdjust="spacingAndGlyphs" >Eμ-myc NK</text>
<text x="436.00" y="144.32" font-size="4.7" text-anchor="middle" fill="#b01040" textLength="40.5" lengthAdjust="spacingAndGlyphs" >(positively correlated)</text>
<text x="483.50" y="158.22" font-size="4.7" text-anchor="middle" fill="#3b5c9c" textLength="20.5" lengthAdjust="spacingAndGlyphs" >Healthy NK</text>
<text x="483.50" y="163.62" font-size="4.7" text-anchor="middle" fill="#3b5c9c" textLength="42.6" lengthAdjust="spacingAndGlyphs" >(negatively correlated)</text>
<text x="419.00" y="171.50" font-size="6.6" text-anchor="end" fill="#333" transform="rotate(-45 419.00 171.50)" textLength="10.6" lengthAdjust="spacingAndGlyphs">500</text>
<text x="427.23" y="171.50" font-size="6.6" text-anchor="end" fill="#333" transform="rotate(-45 427.23 171.50)" textLength="14.2" lengthAdjust="spacingAndGlyphs">1000</text>
<text x="435.45" y="171.50" font-size="6.6" text-anchor="end" fill="#333" transform="rotate(-45 435.45 171.50)" textLength="14.2" lengthAdjust="spacingAndGlyphs">1500</text>
<text x="443.68" y="171.50" font-size="6.6" text-anchor="end" fill="#333" transform="rotate(-45 443.68 171.50)" textLength="14.2" lengthAdjust="spacingAndGlyphs">2000</text>
<text x="451.91" y="171.50" font-size="6.6" text-anchor="end" fill="#333" transform="rotate(-45 451.91 171.50)" textLength="14.2" lengthAdjust="spacingAndGlyphs">2500</text>
<text x="460.14" y="171.50" font-size="6.6" text-anchor="end" fill="#333" transform="rotate(-45 460.14 171.50)" textLength="14.2" lengthAdjust="spacingAndGlyphs">3000</text>
<text x="468.36" y="171.50" font-size="6.6" text-anchor="end" fill="#333" transform="rotate(-45 468.36 171.50)" textLength="14.2" lengthAdjust="spacingAndGlyphs">3500</text>
<text x="476.59" y="171.50" font-size="6.6" text-anchor="end" fill="#333" transform="rotate(-45 476.59 171.50)" textLength="14.2" lengthAdjust="spacingAndGlyphs">4000</text>
<text x="484.82" y="171.50" font-size="6.6" text-anchor="end" fill="#333" transform="rotate(-45 484.82 171.50)" textLength="14.2" lengthAdjust="spacingAndGlyphs">4500</text>
<text x="493.05" y="171.50" font-size="6.6" text-anchor="end" fill="#333" transform="rotate(-45 493.05 171.50)" textLength="14.2" lengthAdjust="spacingAndGlyphs">5000</text>
<text x="501.27" y="171.50" font-size="6.6" text-anchor="end" fill="#333" transform="rotate(-45 501.27 171.50)" textLength="14.2" lengthAdjust="spacingAndGlyphs">5500</text>
<text x="509.50" y="171.50" font-size="6.6" text-anchor="end" fill="#333" transform="rotate(-45 509.50 171.50)" textLength="14.2" lengthAdjust="spacingAndGlyphs">6000</text>
<text x="386.40" y="83.92" font-size="7.6" text-anchor="middle" fill="#333" textLength="63.0" lengthAdjust="spacingAndGlyphs" stroke="#333" stroke-width="0.08" transform="rotate(-90 386.40 81.30)" >Enrichment score (ES)</text>
<text x="386.40" y="151.42" font-size="7.6" text-anchor="middle" fill="#333" textLength="52.0" lengthAdjust="spacingAndGlyphs" stroke="#333" stroke-width="0.08" transform="rotate(-90 386.40 148.80)" >Ranked list metric</text>
<text x="8.20" y="218.63" font-size="12.4" text-anchor="start" fill="#000" font-weight="bold" textLength="7.0" lengthAdjust="spacingAndGlyphs" stroke="#000" stroke-width="0.35" >D</text>
<defs><clipPath id="cpBlue"><ellipse cx="102.9" cy="322.25" rx="54.1" ry="52.0"/></clipPath></defs>
<ellipse cx="102.9" cy="322.25" rx="54.1" ry="52.0" fill="#a4c6eb" stroke="#93b9e4" stroke-width="0.6"/>
<ellipse cx="54.6" cy="322.2" rx="19.7" ry="19.0" fill="#d9917f"/>
<ellipse cx="54.6" cy="322.2" rx="19.7" ry="19.0" fill="#9c8dc8" clip-path="url(#cpBlue)"/>
<ellipse cx="54.6" cy="322.2" rx="19.7" ry="19.0" fill="none" stroke="#e8ecf6" stroke-width="0.7" clip-path="url(#cpBlue)"/>
<defs><clipPath id="cpSal"><ellipse cx="54.6" cy="322.2" rx="19.7" ry="19.0"/></clipPath></defs>
<ellipse cx="102.9" cy="322.25" rx="54.1" ry="52.0" fill="none" stroke="#eee4ea" stroke-width="0.7" clip-path="url(#cpSal)"/>
<circle cx="176.30" cy="359.50" r="16.0" fill="#b6d49b" stroke="none" stroke-width="0"/>
<text x="139.80" y="276.28" font-size="6.6" text-anchor="middle" fill="#111" font-weight="bold" textLength="14.5" lengthAdjust="spacingAndGlyphs" stroke="#111" stroke-width="0.08" >Lipid</text>
<text x="27.80" y="300.28" font-size="6.6" text-anchor="middle" fill="#111" font-weight="bold" textLength="42.0" lengthAdjust="spacingAndGlyphs" stroke="#111" stroke-width="0.08" >Carbohydrate</text>
<text x="176.20" y="339.18" font-size="6.6" text-anchor="middle" fill="#111" font-weight="bold" textLength="33.4" lengthAdjust="spacingAndGlyphs" stroke="#111" stroke-width="0.08" >Amino acid</text>
<text x="80.80" y="287.81" font-size="6.4" text-anchor="start" fill="#222" textLength="15.5" lengthAdjust="spacingAndGlyphs" stroke="#222" stroke-width="0.08" >Brca1</text>
<text x="111.90" y="287.81" font-size="6.4" text-anchor="start" fill="#222" textLength="11.5" lengthAdjust="spacingAndGlyphs" stroke="#222" stroke-width="0.08" >Klf4</text>
<text x="80.80" y="295.29" font-size="6.4" text-anchor="start" fill="#222" textLength="6.6" lengthAdjust="spacingAndGlyphs" stroke="#222" stroke-width="0.08" >C3</text>
<text x="111.90" y="295.29" font-size="6.4" text-anchor="start" fill="#222" textLength="11.2" lengthAdjust="spacingAndGlyphs" stroke="#222" stroke-width="0.08" >Ldlr</text>
<text x="80.80" y="302.77" font-size="6.4" text-anchor="start" fill="#222" textLength="13.6" lengthAdjust="spacingAndGlyphs" stroke="#222" stroke-width="0.08" >Cd36</text>
<text x="111.90" y="302.77" font-size="6.4" text-anchor="start" fill="#222" textLength="8.2" lengthAdjust="spacingAndGlyphs" stroke="#222" stroke-width="0.08" >Lpl</text>
<text x="80.80" y="310.25" font-size="6.4" text-anchor="start" fill="#222" textLength="13.6" lengthAdjust="spacingAndGlyphs" stroke="#222" stroke-width="0.08" >Csf1r</text>
<text x="111.90" y="310.25" font-size="6.4" text-anchor="start" fill="#222" textLength="15.3" lengthAdjust="spacingAndGlyphs" stroke="#222" stroke-width="0.08" >P2rx7</text>
<text x="80.80" y="317.73" font-size="6.4" text-anchor="start" fill="#222" textLength="24.2" lengthAdjust="spacingAndGlyphs" stroke="#222" stroke-width="0.08" >Cyp4f18</text>
<text x="111.90" y="317.73" font-size="6.4" text-anchor="start" fill="#222" textLength="17.6" lengthAdjust="spacingAndGlyphs" stroke="#222" stroke-width="0.08" >Pik3r6</text>
<text x="80.80" y="325.21" font-size="6.4" text-anchor="start" fill="#222" textLength="17.6" lengthAdjust="spacingAndGlyphs" stroke="#222" stroke-width="0.08" >Fabp4</text>
<text x="111.90" y="325.21" font-size="6.4" text-anchor="start" fill="#222" textLength="18.2" lengthAdjust="spacingAndGlyphs" stroke="#222" stroke-width="0.08" >Pla2g7</text>
<text x="80.80" y="332.69" font-size="6.4" text-anchor="start" fill="#222" textLength="17.6" lengthAdjust="spacingAndGlyphs" stroke="#222" stroke-width="0.08" >Fabp5</text>
<text x="111.90" y="332.69" font-size="6.4" text-anchor="start" fill="#222" textLength="17.2" lengthAdjust="spacingAndGlyphs" stroke="#222" stroke-width="0.08" >Pparg</text>
<text x="80.80" y="340.17" font-size="6.4" text-anchor="start" fill="#222" textLength="9.2" lengthAdjust="spacingAndGlyphs" stroke="#222" stroke-width="0.08" >Fgr</text>
<text x="111.90" y="340.17" font-size="6.4" text-anchor="start" fill="#222" textLength="18.2" lengthAdjust="spacingAndGlyphs" stroke="#222" stroke-width="0.08" >Scarb1</text>
<text x="80.80" y="347.65" font-size="6.4" text-anchor="start" fill="#222" textLength="12.6" lengthAdjust="spacingAndGlyphs" stroke="#222" stroke-width="0.08" >Fpr2</text>
<text x="111.90" y="347.65" font-size="6.4" text-anchor="start" fill="#222" textLength="17.4" lengthAdjust="spacingAndGlyphs" stroke="#222" stroke-width="0.08" >Sgms1</text>
<text x="80.80" y="355.13" font-size="6.4" text-anchor="start" fill="#222" textLength="15.6" lengthAdjust="spacingAndGlyphs" stroke="#222" stroke-width="0.08" >Gm2a</text>
<text x="111.90" y="355.13" font-size="6.4" text-anchor="start" fill="#222" textLength="25.6" lengthAdjust="spacingAndGlyphs" stroke="#222" stroke-width="0.08" >Smpdl3b</text>
<text x="104.00" y="365.98" font-size="6.6" text-anchor="middle" fill="#111" font-weight="bold" textLength="12.6" lengthAdjust="spacingAndGlyphs" stroke="#111" stroke-width="0.08" >80%</text>
<text x="42.00" y="320.21" font-size="6.4" text-anchor="middle" fill="#222" textLength="10.4" lengthAdjust="spacingAndGlyphs" stroke="#222" stroke-width="0.08" >Hk2</text>
<text x="42.00" y="328.28" font-size="6.6" text-anchor="middle" fill="#111" font-weight="bold" textLength="8.2" lengthAdjust="spacingAndGlyphs" stroke="#111" stroke-width="0.08" >8%</text>
<text x="61.00" y="316.21" font-size="6.4" text-anchor="middle" fill="#222" textLength="10.8" lengthAdjust="spacingAndGlyphs" stroke="#222" stroke-width="0.08" >Sik1</text>
<text x="61.00" y="323.81" font-size="6.4" text-anchor="middle" fill="#222" textLength="16.6" lengthAdjust="spacingAndGlyphs" stroke="#222" stroke-width="0.08" >Tcf7l2</text>
<text x="61.00" y="331.98" font-size="6.6" text-anchor="middle" fill="#111" font-weight="bold" textLength="8.2" lengthAdjust="spacingAndGlyphs" stroke="#111" stroke-width="0.08" >8%</text>
<text x="176.20" y="354.21" font-size="6.4" text-anchor="middle" fill="#222" textLength="14.8" lengthAdjust="spacingAndGlyphs" stroke="#222" stroke-width="0.08" >Gatm</text>
<text x="176.20" y="361.41" font-size="6.4" text-anchor="middle" fill="#222" textLength="12.0" lengthAdjust="spacingAndGlyphs" stroke="#222" stroke-width="0.08" >Ass1</text>
<text x="176.20" y="369.18" font-size="6.6" text-anchor="middle" fill="#111" font-weight="bold" textLength="8.2" lengthAdjust="spacingAndGlyphs" stroke="#111" stroke-width="0.08" >8%</text>
<text x="209.50" y="218.63" font-size="12.4" text-anchor="start" fill="#000" font-weight="bold" textLength="5.6" lengthAdjust="spacingAndGlyphs" stroke="#000" stroke-width="0.35" >E</text>
<line x1="233.20" y1="240.50" x2="233.20" y2="421.00" stroke="#111" stroke-width="1.3" stroke-linecap="butt"/>
<line x1="232.60" y1="420.40" x2="315.00" y2="420.40" stroke="#111" stroke-width="1.3" stroke-linecap="butt"/>
<path d="M233.20,235.30 L235.90,241.60 L230.50,241.60 Z" fill="#111" stroke="none" stroke-width="0"/>
<path d="M320.80,420.40 L314.30,417.70 L314.30,423.10 Z" fill="#111" stroke="none" stroke-width="0"/>
<rect x="238.2" y="233.3" width="82.40000000000003" height="57.0" fill="none" stroke="#999" stroke-width="0.8"/>
<path d="M239.30,290.30v1.3M242.70,290.30v1.3M245.50,290.30v1.3M248.40,290.30v1.3M250.80,290.30v2.2M254.64,290.30v1.3M256.88,290.30v1.3M258.48,290.30v1.3M259.71,290.30v1.3M260.72,290.30v1.3M261.58,290.30v1.3M262.31,290.30v1.3M262.97,290.30v1.3M263.55,290.30v2.2M267.39,290.30v1.3M269.63,290.30v1.3M271.23,290.30v1.3M272.46,290.30v1.3M273.47,290.30v1.3M274.33,290.30v1.3M275.06,290.30v1.3M275.72,290.30v1.3M276.30,290.30v2.2M280.14,290.30v1.3M282.38,290.30v1.3M283.98,290.30v1.3M285.21,290.30v1.3M286.22,290.30v1.3M287.08,290.30v1.3M287.81,290.30v1.3M288.47,290.30v1.3M289.05,290.30v2.2M292.89,290.30v1.3M295.13,290.30v1.3M296.73,290.30v1.3M297.96,290.30v1.3M298.97,290.30v1.3M299.83,290.30v1.3M300.56,290.30v1.3M301.22,290.30v1.3M301.80,290.30v2.2M305.64,290.30v1.3M307.88,290.30v1.3M309.48,290.30v1.3M310.71,290.30v1.3M311.72,290.30v1.3M312.58,290.30v1.3M313.31,290.30v1.3M313.97,290.30v1.3M314.55,290.30v2.2M318.39,290.30v1.3M238.20,289.10h-1.3M238.20,286.70h-1.3M238.20,284.50h-1.3M238.20,282.10h-2.2M238.20,278.26h-1.3M238.20,276.02h-1.3M238.20,274.42h-1.3M238.20,273.19h-1.3M238.20,272.18h-1.3M238.20,271.32h-1.3M238.20,270.59h-1.3M238.20,269.93h-1.3M238.20,269.35h-2.2M238.20,265.51h-1.3M238.20,263.27h-1.3M238.20,261.67h-1.3M238.20,260.44h-1.3M238.20,259.43h-1.3M238.20,258.57h-1.3M238.20,257.84h-1.3M238.20,257.18h-1.3M238.20,256.60h-2.2M238.20,252.76h-1.3M238.20,250.52h-1.3M238.20,248.92h-1.3M238.20,247.69h-1.3M238.20,246.68h-1.3M238.20,245.82h-1.3M238.20,245.09h-1.3M238.20,244.43h-1.3M238.20,243.85h-2.2M238.20,240.01h-1.3M238.20,237.77h-1.3M238.20,236.17h-1.3M238.20,234.94h-1.3M238.20,233.93h-1.3" stroke="#555" stroke-width="0.6" fill="none"/>
<rect x="270.6" y="244.8" width="47.19999999999999" height="22.099999999999966" fill="none" stroke="#777" stroke-width="0.8"/>
<text x="304.60" y="242.95" font-size="6.8" text-anchor="middle" fill="#222" textLength="12.5" lengthAdjust="spacingAndGlyphs" stroke="#222" stroke-width="0.08" >0.12</text>
<rect x="238.2" y="295.6" width="82.40000000000003" height="57.39999999999998" fill="none" stroke="#999" stroke-width="0.8"/>
<path d="M239.30,353.00v1.3M242.70,353.00v1.3M245.50,353.00v1.3M248.40,353.00v1.3M250.80,353.00v2.2M254.64,353.00v1.3M256.88,353.00v1.3M258.48,353.00v1.3M259.71,353.00v1.3M260.72,353.00v1.3M261.58,353.00v1.3M262.31,353.00v1.3M262.97,353.00v1.3M263.55,353.00v2.2M267.39,353.00v1.3M269.63,353.00v1.3M271.23,353.00v1.3M272.46,353.00v1.3M273.47,353.00v1.3M274.33,353.00v1.3M275.06,353.00v1.3M275.72,353.00v1.3M276.30,353.00v2.2M280.14,353.00v1.3M282.38,353.00v1.3M283.98,353.00v1.3M285.21,353.00v1.3M286.22,353.00v1.3M287.08,353.00v1.3M287.81,353.00v1.3M288.47,353.00v1.3M289.05,353.00v2.2M292.89,353.00v1.3M295.13,353.00v1.3M296.73,353.00v1.3M297.96,353.00v1.3M298.97,353.00v1.3M299.83,353.00v1.3M300.56,353.00v1.3M301.22,353.00v1.3M301.80,353.00v2.2M305.64,353.00v1.3M307.88,353.00v1.3M309.48,353.00v1.3M310.71,353.00v1.3M311.72,353.00v1.3M312.58,353.00v1.3M313.31,353.00v1.3M313.97,353.00v1.3M314.55,353.00v2.2M318.39,353.00v1.3M238.20,351.80h-1.3M238.20,349.40h-1.3M238.20,347.20h-1.3M238.20,344.80h-2.2M238.20,340.96h-1.3M238.20,338.72h-1.3M238.20,337.12h-1.3M238.20,335.89h-1.3M238.20,334.88h-1.3M238.20,334.02h-1.3M238.20,333.29h-1.3M238.20,332.63h-1.3M238.20,332.05h-2.2M238.20,328.21h-1.3M238.20,325.97h-1.3M238.20,324.37h-1.3M238.20,323.14h-1.3M238.20,322.13h-1.3M238.20,321.27h-1.3M238.20,320.54h-1.3M238.20,319.88h-1.3M238.20,319.30h-2.2M238.20,315.46h-1.3M238.20,313.22h-1.3M238.20,311.62h-1.3M238.20,310.39h-1.3M238.20,309.38h-1.3M238.20,308.52h-1.3M238.20,307.79h-1.3M238.20,307.13h-1.3M238.20,306.55h-2.2M238.20,302.71h-1.3M238.20,300.47h-1.3M238.20,298.87h-1.3M238.20,297.64h-1.3M238.20,296.63h-1.3" stroke="#555" stroke-width="0.6" fill="none"/>
<rect x="270.5" y="307.5" width="47.10000000000002" height="21.899999999999977" fill="none" stroke="#777" stroke-width="0.8"/>
<text x="304.60" y="304.75" font-size="6.8" text-anchor="middle" fill="#222" textLength="12.5" lengthAdjust="spacingAndGlyphs" stroke="#222" stroke-width="0.08" >32.2</text>
<rect x="238.2" y="358.2" width="82.40000000000003" height="57.30000000000001" fill="none" stroke="#999" stroke-width="0.8"/>
<path d="M239.30,415.50v1.3M242.70,415.50v1.3M245.50,415.50v1.3M248.40,415.50v1.3M250.80,415.50v2.2M254.64,415.50v1.3M256.88,415.50v1.3M258.48,415.50v1.3M259.71,415.50v1.3M260.72,415.50v1.3M261.58,415.50v1.3M262.31,415.50v1.3M262.97,415.50v1.3M263.55,415.50v2.2M267.39,415.50v1.3M269.63,415.50v1.3M271.23,415.50v1.3M272.46,415.50v1.3M273.47,415.50v1.3M274.33,415.50v1.3M275.06,415.50v1.3M275.72,415.50v1.3M276.30,415.50v2.2M280.14,415.50v1.3M282.38,415.50v1.3M283.98,415.50v1.3M285.21,415.50v1.3M286.22,415.50v1.3M287.08,415.50v1.3M287.81,415.50v1.3M288.47,415.50v1.3M289.05,415.50v2.2M292.89,415.50v1.3M295.13,415.50v1.3M296.73,415.50v1.3M297.96,415.50v1.3M298.97,415.50v1.3M299.83,415.50v1.3M300.56,415.50v1.3M301.22,415.50v1.3M301.80,415.50v2.2M305.64,415.50v1.3M307.88,415.50v1.3M309.48,415.50v1.3M310.71,415.50v1.3M311.72,415.50v1.3M312.58,415.50v1.3M313.31,415.50v1.3M313.97,415.50v1.3M314.55,415.50v2.2M318.39,415.50v1.3M238.20,414.30h-1.3M238.20,411.90h-1.3M238.20,409.70h-1.3M238.20,407.30h-2.2M238.20,403.46h-1.3M238.20,401.22h-1.3M238.20,399.62h-1.3M238.20,398.39h-1.3M238.20,397.38h-1.3M238.20,396.52h-1.3M238.20,395.79h-1.3M238.20,395.13h-1.3M238.20,394.55h-2.2M238.20,390.71h-1.3M238.20,388.47h-1.3M238.20,386.87h-1.3M238.20,385.64h-1.3M238.20,384.63h-1.3M238.20,383.77h-1.3M238.20,383.04h-1.3M238.20,382.38h-1.3M238.20,381.80h-2.2M238.20,377.96h-1.3M238.20,375.72h-1.3M238.20,374.12h-1.3M238.20,372.89h-1.3M238.20,371.88h-1.3M238.20,371.02h-1.3M238.20,370.29h-1.3M238.20,369.63h-1.3M238.20,369.05h-2.2M238.20,365.21h-1.3M238.20,362.97h-1.3M238.20,361.37h-1.3M238.20,360.14h-1.3M238.20,359.13h-1.3" stroke="#555" stroke-width="0.6" fill="none"/>
<rect x="270.5" y="369.4" width="47.10000000000002" height="22.200000000000045" fill="none" stroke="#777" stroke-width="0.8"/>
<text x="304.60" y="366.85" font-size="6.8" text-anchor="middle" fill="#222" textLength="12.5" lengthAdjust="spacingAndGlyphs" stroke="#222" stroke-width="0.08" >45.6</text>
<path d="M239.83,256.17 L240.53,255.72 L240.97,255.09 L241.78,254.63 L242.06,254.45 L242.79,254.36 L243.51,254.26 L243.62,253.63 L244.38,253.78 L244.99,253.17 L245.44,253.05 L246.18,253.15 L246.93,252.65 L247.39,252.46 L247.76,252.63 L248.46,252.21 L248.93,252.00 L249.74,252.19 L250.17,251.87 L250.75,251.69 L251.45,251.60 L251.86,251.54 L252.62,251.21 L253.10,251.27 L253.72,251.05 L254.27,250.89 L254.67,250.83 L255.71,250.93 L256.05,250.83 L256.73,250.75 L257.04,250.59 L257.86,250.70 L258.52,250.82 L259.06,250.74 L259.66,250.73 L260.19,250.30 L260.55,250.37 L261.13,250.23 L261.84,250.52 L262.40,250.48 L262.95,250.46 L263.65,250.59 L263.97,250.40 L264.64,250.45 L265.23,250.61 L265.80,250.55 L266.49,250.62 L267.17,250.84 L267.80,251.07 L268.03,251.15 L268.74,251.06 L269.29,251.20 L270.12,251.81 L270.78,251.78 L271.37,252.54 L271.89,253.08 L272.43,256.42 L272.22,255.98 L271.73,259.72 L270.91,260.15 L270.59,260.74 L269.84,261.23 L269.24,261.19 L268.93,261.65 L268.40,261.54 L267.89,262.02 L267.22,261.99 L266.49,262.13 L265.84,262.32 L265.34,262.28 L264.88,262.39 L263.98,262.15 L263.77,262.46 L263.08,262.26 L262.46,262.29 L261.95,262.40 L261.51,262.56 L260.49,262.21 L260.16,262.53 L259.76,262.18 L258.73,262.44 L258.34,262.36 L257.95,262.12 L257.27,262.15 L256.70,262.19 L256.16,262.10 L255.45,261.80 L254.70,261.71 L254.07,261.66 L253.70,261.76 L253.19,261.45 L252.56,261.29 L252.18,261.20 L251.58,261.15 L250.63,260.91 L250.01,260.90 L249.80,260.64 L249.06,260.33 L248.40,260.39 L248.14,260.14 L247.48,259.80 L246.80,259.75 L246.26,259.64 L245.56,259.20 L245.06,259.38 L244.35,259.02 L244.07,258.66 L243.34,258.29 L242.53,258.38 L242.21,257.94 L241.71,257.70 L240.84,257.51 L240.45,256.72 L239.84,256.06 Z" fill="#ececec" stroke="#9c9c9c" stroke-width="0.7" stroke-linejoin="round"/>
<path d="M244.22,256.19 L244.71,255.67 L245.21,255.41 L245.50,255.14 L246.25,254.95 L246.45,254.40 L246.92,254.27 L247.47,254.28 L247.95,254.04 L248.58,253.98 L248.82,253.55 L249.43,253.45 L249.96,253.46 L250.41,253.19 L250.60,253.10 L251.07,252.87 L251.54,252.72 L252.23,252.58 L252.50,252.65 L252.94,252.44 L253.68,252.46 L253.90,252.22 L254.32,252.33 L255.01,252.02 L255.25,252.02 L255.81,251.90 L256.34,251.96 L256.91,251.87 L257.32,251.85 L257.83,251.67 L258.02,251.74 L258.55,251.64 L258.99,251.56 L259.58,251.56 L260.16,251.30 L260.47,251.23 L260.98,251.23 L261.58,251.39 L261.77,251.16 L262.41,251.47 L262.81,251.40 L263.14,251.34 L263.82,251.42 L264.16,251.44 L264.64,251.51 L265.17,251.42 L265.46,251.57 L266.14,251.56 L266.51,251.81 L266.84,251.84 L267.52,251.94 L267.84,251.95 L268.29,252.21 L268.83,252.73 L269.21,252.94 L269.90,253.49 L270.12,256.17 L270.35,256.29 L269.80,258.92 L269.41,259.74 L268.79,260.04 L268.52,260.33 L267.85,260.56 L267.49,260.83 L266.98,260.74 L266.39,261.04 L266.14,261.08 L265.76,261.26 L265.16,261.24 L264.79,261.28 L264.34,261.42 L263.84,261.46 L263.35,261.48 L262.75,261.52 L262.19,261.40 L261.73,261.49 L261.48,261.36 L260.91,261.45 L260.38,261.25 L259.87,261.18 L259.60,261.14 L258.96,261.08 L258.66,261.05 L258.08,261.14 L257.68,260.87 L257.14,261.10 L256.69,260.77 L256.21,260.68 L256.00,260.71 L255.30,260.67 L254.85,260.39 L254.36,260.36 L254.11,260.39 L253.46,260.37 L252.97,260.05 L252.48,260.06 L252.15,259.87 L251.54,259.61 L251.36,259.72 L250.83,259.41 L250.43,259.31 L249.65,259.09 L249.46,258.99 L248.81,258.72 L248.53,258.76 L247.94,258.43 L247.50,258.36 L246.87,258.09 L246.57,257.73 L246.15,257.68 L245.70,257.22 L245.04,257.02 L244.60,256.74 L244.38,256.16 Z" fill="#dedede" stroke="#8a8a8a" stroke-width="0.55" stroke-linejoin="round"/>
<path d="M248.23,256.17 L248.49,255.67 L249.00,255.46 L249.24,255.20 L249.58,255.09 L250.00,254.81 L250.30,254.76 L250.86,254.61 L251.04,254.31 L251.52,254.11 L251.81,254.06 L252.17,253.84 L252.66,253.87 L252.95,253.75 L253.24,253.61 L253.53,253.57 L253.93,253.38 L254.27,253.31 L254.61,253.15 L254.98,253.11 L255.43,253.14 L255.72,253.05 L256.20,252.97 L256.57,252.76 L256.77,252.76 L257.23,252.55 L257.66,252.64 L257.95,252.58 L258.39,252.41 L258.62,252.55 L259.07,252.33 L259.43,252.40 L259.73,252.26 L260.12,252.31 L260.53,252.23 L260.89,252.25 L261.24,252.22 L261.64,252.26 L261.92,252.25 L262.24,252.14 L262.64,252.21 L263.03,252.17 L263.31,252.25 L263.67,252.27 L264.16,252.23 L264.42,252.22 L264.73,252.31 L265.12,252.36 L265.45,252.58 L265.80,252.57 L266.17,252.68 L266.53,252.84 L266.98,253.04 L267.35,253.19 L267.67,253.49 L267.97,254.00 L268.45,256.09 L268.48,256.16 L267.97,258.33 L267.63,258.85 L267.36,259.21 L267.05,259.50 L266.64,259.65 L266.30,259.90 L265.89,260.02 L265.51,260.08 L265.08,260.10 L264.88,260.07 L264.46,260.20 L263.97,260.28 L263.76,260.35 L263.27,260.24 L262.93,260.33 L262.55,260.37 L262.36,260.41 L261.88,260.27 L261.63,260.45 L261.09,260.38 L260.80,260.28 L260.49,260.38 L260.20,260.36 L259.74,260.33 L259.31,260.27 L258.98,260.08 L258.67,260.13 L258.27,260.12 L257.90,260.08 L257.53,259.92 L257.19,259.91 L256.97,259.89 L256.46,259.59 L256.05,259.57 L255.76,259.47 L255.43,259.56 L255.01,259.31 L254.68,259.30 L254.28,259.22 L253.97,259.13 L253.62,258.96 L253.34,258.84 L252.83,258.66 L252.52,258.57 L252.24,258.58 L251.85,258.33 L251.40,258.27 L251.14,257.96 L250.67,257.86 L250.40,257.62 L250.11,257.42 L249.58,257.38 L249.24,257.22 L248.97,256.92 L248.55,256.67 L248.27,256.05 Z" fill="#ededed" stroke="#9a9a9a" stroke-width="0.55" stroke-linejoin="round"/>
<path d="M251.98,256.13 L252.23,255.73 L252.56,255.51 L252.77,255.38 L252.99,255.20 L253.36,255.14 L253.63,255.01 L253.84,254.88 L254.08,254.72 L254.40,254.66 L254.63,254.55 L254.88,254.37 L255.11,254.31 L255.36,254.23 L255.63,254.13 L255.98,254.05 L256.13,253.93 L256.47,253.86 L256.76,253.88 L256.96,253.80 L257.25,253.74 L257.50,253.65 L257.74,253.55 L257.97,253.48 L258.28,253.48 L258.52,253.36 L258.75,253.34 L259.01,253.32 L259.26,253.26 L259.59,253.24 L259.79,253.21 L260.08,253.21 L260.38,253.13 L260.59,253.10 L260.84,253.14 L261.19,253.04 L261.39,253.03 L261.72,253.00 L261.91,253.03 L262.18,253.04 L262.40,253.05 L262.70,253.11 L262.92,253.03 L263.24,253.06 L263.46,253.14 L263.76,253.20 L264.04,253.23 L264.24,253.23 L264.52,253.35 L264.75,253.28 L265.10,253.49 L265.32,253.56 L265.56,253.72 L265.91,253.85 L266.11,254.01 L266.35,254.51 L266.68,256.09 L266.70,256.14 L266.34,257.94 L266.05,258.23 L265.82,258.56 L265.54,258.67 L265.37,258.87 L265.13,259.00 L264.84,258.99 L264.52,259.06 L264.32,259.19 L264.07,259.18 L263.75,259.29 L263.52,259.38 L263.22,259.38 L263.03,259.31 L262.72,259.31 L262.41,259.42 L262.24,259.45 L261.87,259.32 L261.71,259.33 L261.40,259.30 L261.15,259.35 L260.90,259.24 L260.57,259.28 L260.33,259.23 L260.15,259.20 L259.90,259.24 L259.61,259.13 L259.32,259.19 L259.04,259.13 L258.77,259.04 L258.48,259.05 L258.22,258.91 L257.96,258.89 L257.71,258.83 L257.48,258.77 L257.20,258.69 L256.93,258.67 L256.67,258.58 L256.44,258.51 L256.23,258.42 L255.96,258.35 L255.61,258.22 L255.37,258.07 L255.16,258.00 L254.85,257.92 L254.58,257.83 L254.42,257.72 L254.08,257.52 L253.85,257.45 L253.55,257.38 L253.36,257.22 L253.01,257.09 L252.84,256.89 L252.54,256.64 L252.23,256.42 L252.03,256.16 Z" fill="#d2d2d2" stroke="#888" stroke-width="0.55" stroke-linejoin="round"/>
<path d="M255.31,256.09 L255.50,255.81 L255.67,255.70 L255.84,255.54 L256.02,255.47 L256.21,255.36 L256.36,255.24 L256.59,255.15 L256.74,255.11 L256.91,255.01 L257.11,254.93 L257.24,254.88 L257.45,254.75 L257.62,254.69 L257.78,254.68 L257.95,254.59 L258.12,254.52 L258.27,254.46 L258.44,254.45 L258.64,254.39 L258.81,254.31 L258.98,254.28 L259.20,254.26 L259.33,254.19 L259.50,254.15 L259.68,254.14 L259.88,254.09 L260.07,254.09 L260.21,254.03 L260.41,253.99 L260.55,254.02 L260.72,253.93 L260.89,253.92 L261.08,253.94 L261.25,253.87 L261.45,253.86 L261.62,253.89 L261.79,253.88 L261.94,253.86 L262.10,253.88 L262.28,253.90 L262.50,253.90 L262.67,253.86 L262.83,253.85 L263.00,253.91 L263.16,253.94 L263.38,253.93 L263.55,254.02 L263.69,254.07 L263.90,254.11 L264.05,254.18 L264.19,254.22 L264.39,254.34 L264.55,254.40 L264.73,254.62 L264.90,254.85 L265.06,256.11 L265.09,256.04 L264.94,257.34 L264.72,257.62 L264.59,257.82 L264.43,257.94 L264.22,258.08 L264.04,258.17 L263.89,258.24 L263.66,258.23 L263.52,258.30 L263.38,258.38 L263.18,258.33 L262.99,258.44 L262.82,258.44 L262.63,258.42 L262.51,258.40 L262.30,258.48 L262.16,258.45 L261.99,258.47 L261.75,258.43 L261.60,258.46 L261.45,258.39 L261.24,258.37 L261.07,258.37 L260.91,258.37 L260.72,258.36 L260.56,258.30 L260.42,258.30 L260.25,258.26 L260.04,258.25 L259.87,258.20 L259.72,258.13 L259.54,258.09 L259.31,258.04 L259.16,258.07 L258.96,257.97 L258.83,257.93 L258.68,257.86 L258.50,257.82 L258.31,257.78 L258.15,257.75 L257.96,257.62 L257.78,257.59 L257.61,257.49 L257.41,257.41 L257.26,257.35 L257.06,257.30 L256.89,257.19 L256.75,257.11 L256.59,257.05 L256.36,256.93 L256.19,256.87 L256.05,256.72 L255.89,256.62 L255.68,256.52 L255.53,256.35 L255.35,256.11 Z" fill="#e8e8e8" stroke="#8a8a8a" stroke-width="0.5" stroke-linejoin="round"/>
<path d="M258.46,256.03 L258.55,255.88 L258.64,255.83 L258.73,255.72 L258.83,255.68 L258.92,255.60 L259.00,255.53 L259.10,255.51 L259.20,255.46 L259.27,255.38 L259.38,255.36 L259.48,255.29 L259.56,255.28 L259.66,255.21 L259.74,255.18 L259.85,255.15 L259.95,255.13 L260.03,255.08 L260.13,255.05 L260.22,255.01 L260.32,254.98 L260.40,254.97 L260.50,254.93 L260.58,254.92 L260.68,254.90 L260.78,254.88 L260.85,254.86 L260.96,254.82 L261.04,254.83 L261.14,254.80 L261.22,254.77 L261.32,254.78 L261.43,254.74 L261.52,254.74 L261.60,254.74 L261.69,254.73 L261.79,254.72 L261.88,254.71 L261.98,254.71 L262.08,254.70 L262.17,254.70 L262.25,254.73 L262.35,254.73 L262.43,254.73 L262.53,254.75 L262.64,254.73 L262.73,254.76 L262.81,254.78 L262.90,254.81 L262.99,254.86 L263.10,254.87 L263.19,254.93 L263.28,255.00 L263.37,255.07 L263.48,255.16 L263.56,255.32 L263.66,256.05 L263.65,256.05 L263.55,256.81 L263.46,257.01 L263.38,257.09 L263.27,257.19 L263.17,257.24 L263.10,257.31 L262.98,257.33 L262.92,257.39 L262.81,257.40 L262.72,257.42 L262.62,257.43 L262.53,257.43 L262.45,257.47 L262.34,257.47 L262.24,257.49 L262.16,257.46 L262.08,257.50 L261.97,257.48 L261.88,257.46 L261.80,257.46 L261.71,257.47 L261.59,257.46 L261.51,257.46 L261.41,257.42 L261.33,257.41 L261.24,257.41 L261.15,257.38 L261.05,257.36 L260.95,257.36 L260.86,257.32 L260.78,257.32 L260.68,257.27 L260.58,257.25 L260.48,257.21 L260.41,257.20 L260.29,257.18 L260.21,257.14 L260.11,257.12 L260.04,257.09 L259.93,257.02 L259.84,256.98 L259.76,256.96 L259.67,256.92 L259.56,256.88 L259.46,256.82 L259.37,256.79 L259.27,256.76 L259.19,256.71 L259.10,256.63 L259.01,256.57 L258.90,256.52 L258.83,256.44 L258.72,256.37 L258.63,256.29 L258.55,256.21 L258.45,256.03 Z" fill="#bbb" stroke="#777" stroke-width="0.5" stroke-linejoin="round"/>
<circle cx="240.21" cy="256.53" r="0.35" fill="#888" stroke="none" stroke-width="0"/>
<circle cx="240.61" cy="257.25" r="0.35" fill="#888" stroke="none" stroke-width="0"/>
<circle cx="241.38" cy="250.79" r="0.35" fill="#888" stroke="none" stroke-width="0"/>
<circle cx="239.54" cy="260.05" r="0.35" fill="#888" stroke="none" stroke-width="0"/>
<circle cx="240.28" cy="252.81" r="0.35" fill="#888" stroke="none" stroke-width="0"/>
<circle cx="242.49" cy="255.64" r="0.35" fill="#888" stroke="none" stroke-width="0"/>
<circle cx="242.01" cy="255.72" r="0.35" fill="#888" stroke="none" stroke-width="0"/>
<circle cx="241.42" cy="251.81" r="0.35" fill="#888" stroke="none" stroke-width="0"/>
<circle cx="241.40" cy="260.42" r="0.35" fill="#888" stroke="none" stroke-width="0"/>
<circle cx="241.07" cy="258.90" r="0.35" fill="#888" stroke="none" stroke-width="0"/>
<circle cx="241.51" cy="250.77" r="0.35" fill="#888" stroke="none" stroke-width="0"/>
<circle cx="241.77" cy="257.09" r="0.35" fill="#888" stroke="none" stroke-width="0"/>
<circle cx="240.40" cy="250.37" r="0.35" fill="#888" stroke="none" stroke-width="0"/>
<circle cx="242.10" cy="255.67" r="0.35" fill="#888" stroke="none" stroke-width="0"/>
<circle cx="241.01" cy="322.55" r="0.4" fill="#444" stroke="none" stroke-width="0"/>
<circle cx="241.00" cy="323.05" r="0.4" fill="#444" stroke="none" stroke-width="0"/>
<circle cx="240.11" cy="321.61" r="0.4" fill="#444" stroke="none" stroke-width="0"/>
<circle cx="240.24" cy="323.23" r="0.4" fill="#444" stroke="none" stroke-width="0"/>
<circle cx="241.46" cy="313.17" r="0.4" fill="#444" stroke="none" stroke-width="0"/>
<circle cx="239.38" cy="314.60" r="0.4" fill="#444" stroke="none" stroke-width="0"/>
<circle cx="241.70" cy="317.23" r="0.4" fill="#444" stroke="none" stroke-width="0"/>
<circle cx="240.75" cy="315.61" r="0.4" fill="#444" stroke="none" stroke-width="0"/>
<circle cx="240.42" cy="316.63" r="0.4" fill="#444" stroke="none" stroke-width="0"/>
<circle cx="239.98" cy="319.02" r="0.4" fill="#444" stroke="none" stroke-width="0"/>
<circle cx="240.64" cy="322.85" r="0.4" fill="#444" stroke="none" stroke-width="0"/>
<circle cx="240.91" cy="323.15" r="0.4" fill="#444" stroke="none" stroke-width="0"/>
<circle cx="241.40" cy="323.89" r="0.4" fill="#444" stroke="none" stroke-width="0"/>
<circle cx="240.88" cy="313.96" r="0.4" fill="#444" stroke="none" stroke-width="0"/>
<circle cx="241.41" cy="323.58" r="0.4" fill="#444" stroke="none" stroke-width="0"/>
<circle cx="241.53" cy="318.83" r="0.4" fill="#444" stroke="none" stroke-width="0"/>
<circle cx="241.00" cy="314.53" r="0.4" fill="#444" stroke="none" stroke-width="0"/>
<circle cx="241.33" cy="318.88" r="0.4" fill="#444" stroke="none" stroke-width="0"/>
<circle cx="239.80" cy="312.76" r="0.4" fill="#444" stroke="none" stroke-width="0"/>
<circle cx="241.39" cy="323.88" r="0.4" fill="#444" stroke="none" stroke-width="0"/>
<circle cx="239.25" cy="321.61" r="0.4" fill="#444" stroke="none" stroke-width="0"/>
<circle cx="240.15" cy="313.81" r="0.4" fill="#444" stroke="none" stroke-width="0"/>
<circle cx="239.82" cy="321.23" r="0.4" fill="#444" stroke="none" stroke-width="0"/>
<circle cx="241.44" cy="312.53" r="0.4" fill="#444" stroke="none" stroke-width="0"/>
<circle cx="240.72" cy="312.54" r="0.4" fill="#444" stroke="none" stroke-width="0"/>
<circle cx="241.01" cy="315.97" r="0.4" fill="#444" stroke="none" stroke-width="0"/>
<circle cx="241.47" cy="385.27" r="0.4" fill="#444" stroke="none" stroke-width="0"/>
<circle cx="240.42" cy="385.48" r="0.4" fill="#444" stroke="none" stroke-width="0"/>
<circle cx="239.87" cy="374.42" r="0.4" fill="#444" stroke="none" stroke-width="0"/>
<circle cx="240.68" cy="373.88" r="0.4" fill="#444" stroke="none" stroke-width="0"/>
<circle cx="239.55" cy="378.40" r="0.4" fill="#444" stroke="none" stroke-width="0"/>
<circle cx="240.71" cy="375.37" r="0.4" fill="#444" stroke="none" stroke-width="0"/>
<circle cx="239.12" cy="383.91" r="0.4" fill="#444" stroke="none" stroke-width="0"/>
<circle cx="239.88" cy="385.00" r="0.4" fill="#444" stroke="none" stroke-width="0"/>
<circle cx="241.51" cy="378.03" r="0.4" fill="#444" stroke="none" stroke-width="0"/>
<circle cx="240.29" cy="379.74" r="0.4" fill="#444" stroke="none" stroke-width="0"/>
<circle cx="240.80" cy="380.65" r="0.4" fill="#444" stroke="none" stroke-width="0"/>
<circle cx="240.57" cy="380.94" r="0.4" fill="#444" stroke="none" stroke-width="0"/>
<circle cx="241.63" cy="379.58" r="0.4" fill="#444" stroke="none" stroke-width="0"/>
<circle cx="240.21" cy="382.14" r="0.4" fill="#444" stroke="none" stroke-width="0"/>
<circle cx="239.67" cy="377.11" r="0.4" fill="#444" stroke="none" stroke-width="0"/>
<circle cx="241.74" cy="379.75" r="0.4" fill="#444" stroke="none" stroke-width="0"/>
<circle cx="240.54" cy="373.64" r="0.4" fill="#444" stroke="none" stroke-width="0"/>
<circle cx="240.16" cy="380.46" r="0.4" fill="#444" stroke="none" stroke-width="0"/>
<circle cx="239.06" cy="380.89" r="0.4" fill="#444" stroke="none" stroke-width="0"/>
<circle cx="240.77" cy="374.22" r="0.4" fill="#444" stroke="none" stroke-width="0"/>
<circle cx="240.76" cy="379.10" r="0.4" fill="#444" stroke="none" stroke-width="0"/>
<circle cx="240.90" cy="377.73" r="0.4" fill="#444" stroke="none" stroke-width="0"/>
<circle cx="240.98" cy="382.36" r="0.4" fill="#444" stroke="none" stroke-width="0"/>
<circle cx="239.06" cy="374.23" r="0.4" fill="#444" stroke="none" stroke-width="0"/>
<circle cx="240.89" cy="385.06" r="0.4" fill="#444" stroke="none" stroke-width="0"/>
<circle cx="239.70" cy="378.98" r="0.4" fill="#444" stroke="none" stroke-width="0"/>
<circle cx="240.66" cy="377.34" r="0.4" fill="#444" stroke="none" stroke-width="0"/>
<circle cx="240.02" cy="377.25" r="0.4" fill="#444" stroke="none" stroke-width="0"/>
<circle cx="240.03" cy="380.65" r="0.4" fill="#444" stroke="none" stroke-width="0"/>
<circle cx="239.84" cy="378.03" r="0.4" fill="#444" stroke="none" stroke-width="0"/>
<circle cx="241.16" cy="373.82" r="0.4" fill="#444" stroke="none" stroke-width="0"/>
<circle cx="240.59" cy="382.32" r="0.4" fill="#444" stroke="none" stroke-width="0"/>
<circle cx="239.87" cy="376.17" r="0.4" fill="#444" stroke="none" stroke-width="0"/>
<circle cx="241.25" cy="376.36" r="0.4" fill="#444" stroke="none" stroke-width="0"/>
<path d="M244.58,318.68 L245.68,317.84 L246.49,317.20 L246.98,316.84 L248.24,316.20 L249.09,315.81 L249.91,315.43 L250.49,315.42 L251.27,314.91 L252.52,314.90 L252.93,314.49 L253.79,314.26 L254.82,313.79 L255.62,313.98 L256.58,313.71 L257.23,313.34 L258.07,313.34 L259.10,313.27 L260.11,312.79 L260.90,312.66 L261.46,312.56 L262.49,312.58 L263.26,312.67 L264.01,312.29 L265.23,312.31 L265.90,312.37 L266.85,312.21 L267.85,312.08 L268.28,312.24 L269.40,312.34 L269.98,312.55 L271.09,312.13 L271.84,312.45 L272.61,312.23 L273.85,312.42 L274.52,312.56 L275.51,312.92 L276.04,312.98 L276.98,312.73 L277.65,313.14 L278.85,313.05 L279.63,313.33 L280.27,313.40 L281.12,313.56 L282.37,313.88 L283.03,314.18 L283.70,314.50 L284.59,314.84 L285.47,314.99 L286.48,315.30 L287.15,315.41 L287.93,316.07 L289.15,316.23 L289.70,316.73 L290.54,317.19 L291.76,317.72 L292.32,318.62 L292.61,318.44 L291.58,319.14 L290.80,319.94 L289.74,320.44 L288.94,320.88 L288.20,321.09 L287.07,321.33 L286.55,321.87 L285.56,322.22 L284.73,322.58 L283.64,322.78 L283.05,322.86 L281.92,323.30 L281.27,323.34 L280.51,323.86 L279.46,323.98 L278.77,324.03 L278.08,324.46 L277.17,324.63 L276.25,324.38 L275.49,324.65 L274.50,324.96 L273.73,324.73 L272.57,325.14 L271.91,325.08 L271.17,325.17 L270.05,324.92 L269.39,324.87 L268.61,324.91 L267.85,325.14 L266.78,325.14 L265.72,325.21 L265.03,325.07 L264.40,324.84 L263.50,325.07 L262.51,324.68 L261.82,324.54 L260.74,324.68 L259.80,324.64 L259.31,324.24 L258.11,323.88 L257.55,324.04 L256.34,323.52 L255.59,323.55 L255.07,323.52 L253.80,323.23 L253.19,322.85 L252.14,322.50 L251.59,322.21 L250.44,321.74 L249.90,321.72 L248.87,321.35 L248.06,320.60 L247.22,320.32 L246.08,320.04 L245.28,319.21 L244.38,318.40 Z" fill="#dedede" stroke="#000" stroke-width="1.1" stroke-linejoin="round"/>
<path d="M248.77,318.38 L249.54,317.91 L250.29,317.41 L251.03,316.97 L251.69,316.52 L252.16,316.42 L253.13,315.92 L253.58,315.80 L254.48,315.65 L255.15,315.28 L255.93,314.95 L256.48,314.87 L257.05,314.49 L257.89,314.52 L258.66,314.21 L259.15,314.24 L259.88,314.03 L260.76,313.93 L261.53,313.89 L262.19,313.69 L262.97,313.45 L263.43,313.59 L264.17,313.51 L264.81,313.20 L265.67,313.11 L266.19,313.17 L266.88,313.38 L267.73,313.19 L268.52,313.01 L269.16,313.19 L269.89,313.30 L270.54,313.18 L271.35,313.20 L271.95,313.43 L272.64,313.31 L273.22,313.45 L273.90,313.52 L274.86,313.74 L275.48,313.80 L276.01,313.95 L276.70,314.10 L277.51,313.99 L278.05,314.38 L279.00,314.52 L279.62,314.65 L280.33,314.89 L281.00,315.11 L281.69,315.32 L282.26,315.60 L283.19,315.69 L283.76,315.96 L284.39,316.17 L285.35,316.57 L286.05,317.16 L286.74,317.53 L287.43,317.94 L288.14,318.46 L288.02,318.61 L287.26,319.03 L286.77,319.54 L286.04,320.11 L285.32,320.31 L284.63,320.70 L283.93,320.97 L283.21,321.23 L282.58,321.71 L281.57,321.87 L281.11,322.27 L280.20,322.26 L279.67,322.57 L278.87,322.66 L278.13,322.78 L277.56,323.12 L276.71,323.39 L276.05,323.35 L275.25,323.61 L274.56,323.75 L273.86,323.73 L273.34,323.72 L272.71,323.96 L272.04,323.88 L271.09,324.14 L270.57,324.20 L269.66,324.08 L269.16,323.98 L268.44,324.26 L267.87,324.24 L267.04,324.15 L266.22,324.11 L265.52,324.03 L264.75,323.84 L264.30,323.98 L263.45,323.97 L262.71,323.80 L262.08,323.61 L261.32,323.50 L260.75,323.37 L259.88,323.40 L259.44,323.20 L258.49,322.79 L257.92,322.90 L257.20,322.66 L256.51,322.33 L255.69,322.21 L255.00,322.05 L254.26,321.59 L253.58,321.52 L253.09,321.16 L252.15,320.89 L251.66,320.46 L250.79,319.92 L250.31,319.68 L249.53,319.10 L248.70,318.62 Z" fill="#c8c8c8" stroke="#444" stroke-width="0.6" stroke-linejoin="round"/>
<path d="M252.82,318.32 L253.40,317.96 L253.88,317.42 L254.35,317.14 L254.94,316.94 L255.63,316.70 L256.22,316.36 L256.75,316.20 L257.24,316.08 L257.86,315.79 L258.39,315.46 L258.80,315.33 L259.48,315.21 L259.95,315.20 L260.48,315.01 L261.22,314.86 L261.75,314.78 L262.18,314.54 L262.86,314.46 L263.43,314.41 L263.90,314.28 L264.42,314.20 L264.90,314.10 L265.62,314.14 L266.22,314.13 L266.55,314.14 L267.16,314.10 L267.76,314.17 L268.33,313.97 L268.83,314.09 L269.50,314.08 L269.87,314.05 L270.63,314.20 L271.19,314.27 L271.55,314.28 L272.20,314.28 L272.75,314.27 L273.25,314.37 L273.86,314.51 L274.39,314.62 L274.88,314.74 L275.62,314.72 L276.03,314.86 L276.64,315.16 L277.11,315.22 L277.81,315.44 L278.29,315.53 L278.80,315.75 L279.36,316.07 L279.99,316.06 L280.64,316.51 L281.08,316.58 L281.61,317.04 L282.19,317.20 L282.76,317.60 L283.41,317.94 L283.76,318.46 L283.86,318.53 L283.31,319.06 L282.67,319.35 L282.30,319.87 L281.59,320.13 L281.06,320.23 L280.61,320.53 L280.09,320.94 L279.41,321.17 L278.85,321.24 L278.40,321.43 L277.87,321.58 L277.18,321.84 L276.72,321.93 L276.19,322.17 L275.48,322.33 L274.92,322.52 L274.37,322.46 L273.79,322.57 L273.43,322.76 L272.77,322.87 L272.15,322.98 L271.72,322.85 L271.00,322.99 L270.50,322.93 L269.88,323.18 L269.50,323.11 L268.90,323.03 L268.42,323.21 L267.86,323.05 L267.13,323.08 L266.70,323.08 L266.21,323.13 L265.45,322.97 L264.91,322.98 L264.56,322.88 L263.91,322.91 L263.28,322.66 L262.81,322.61 L262.16,322.64 L261.60,322.30 L261.13,322.34 L260.48,322.13 L260.04,322.04 L259.42,321.78 L258.80,321.62 L258.28,321.44 L257.87,321.32 L257.20,321.10 L256.74,320.91 L256.03,320.51 L255.53,320.26 L255.08,319.94 L254.49,319.76 L253.83,319.40 L253.44,318.90 L252.74,318.37 Z" fill="#b0b0b0" stroke="#222" stroke-width="0.6" stroke-linejoin="round"/>
<path d="M256.23,318.45 L256.75,318.04 L257.08,317.67 L257.59,317.47 L258.06,317.24 L258.44,316.96 L258.86,316.78 L259.22,316.65 L259.77,316.41 L260.15,316.32 L260.59,316.14 L261.00,315.98 L261.46,315.74 L261.80,315.72 L262.22,315.59 L262.73,315.40 L263.07,315.32 L263.50,315.35 L263.97,315.14 L264.48,315.09 L264.90,315.15 L265.26,315.11 L265.74,314.97 L266.07,315.02 L266.55,314.87 L266.94,314.86 L267.45,314.90 L267.89,314.81 L268.23,314.94 L268.61,314.78 L269.11,314.94 L269.54,314.85 L269.91,314.83 L270.40,314.89 L270.79,314.96 L271.25,315.07 L271.63,315.12 L272.03,315.19 L272.55,315.22 L272.97,315.27 L273.43,315.43 L273.81,315.52 L274.18,315.66 L274.67,315.62 L275.11,315.89 L275.58,315.97 L275.90,316.09 L276.34,316.23 L276.83,316.38 L277.24,316.57 L277.60,316.76 L278.03,316.98 L278.45,317.25 L278.87,317.50 L279.41,317.64 L279.73,317.95 L280.20,318.35 L280.25,318.38 L279.83,318.93 L279.35,319.26 L278.93,319.51 L278.54,319.68 L278.07,319.88 L277.62,320.26 L277.18,320.42 L276.77,320.61 L276.32,320.67 L275.93,320.85 L275.54,321.04 L275.14,321.13 L274.59,321.37 L274.25,321.48 L273.80,321.55 L273.38,321.70 L272.94,321.72 L272.54,321.78 L272.04,321.84 L271.63,321.98 L271.19,321.94 L270.77,322.00 L270.37,322.02 L269.99,322.08 L269.47,322.22 L269.16,322.27 L268.68,322.22 L268.21,322.20 L267.78,322.15 L267.47,322.22 L266.92,322.12 L266.56,322.21 L266.10,322.14 L265.72,322.00 L265.29,322.07 L264.81,321.99 L264.44,321.97 L263.91,321.88 L263.50,321.74 L263.07,321.67 L262.77,321.55 L262.32,321.50 L261.92,321.32 L261.44,321.16 L260.94,321.10 L260.63,320.86 L260.17,320.66 L259.65,320.62 L259.34,320.34 L258.84,320.09 L258.47,319.98 L257.99,319.66 L257.57,319.42 L257.13,319.25 L256.72,318.87 L256.25,318.41 Z" fill="#e4e4e4" stroke="#000" stroke-width="0.8" stroke-linejoin="round"/>
<path d="M259.57,318.39 L259.86,318.01 L260.16,317.83 L260.49,317.61 L260.77,317.48 L261.07,317.23 L261.43,317.17 L261.72,317.02 L262.01,316.79 L262.34,316.67 L262.66,316.58 L262.96,316.50 L263.29,316.41 L263.60,316.25 L263.83,316.24 L264.23,316.12 L264.48,316.10 L264.79,315.94 L265.08,315.95 L265.40,315.90 L265.70,315.85 L266.06,315.82 L266.31,315.70 L266.65,315.73 L266.93,315.68 L267.22,315.65 L267.53,315.66 L267.84,315.70 L268.18,315.69 L268.49,315.61 L268.76,315.71 L269.11,315.68 L269.41,315.74 L269.76,315.74 L270.07,315.78 L270.31,315.81 L270.62,315.83 L270.92,315.83 L271.25,315.95 L271.60,316.01 L271.85,316.07 L272.20,316.08 L272.44,316.17 L272.83,316.26 L273.13,316.43 L273.37,316.47 L273.73,316.56 L274.05,316.71 L274.36,316.84 L274.66,316.95 L274.94,317.13 L275.22,317.27 L275.59,317.43 L275.84,317.59 L276.15,317.85 L276.48,318.01 L276.80,318.42 L276.77,318.41 L276.48,318.71 L276.20,318.97 L275.87,319.22 L275.51,319.43 L275.21,319.55 L274.91,319.69 L274.61,319.93 L274.31,320.03 L274.04,320.19 L273.68,320.29 L273.40,320.44 L273.07,320.49 L272.78,320.66 L272.49,320.74 L272.20,320.75 L271.85,320.88 L271.58,320.96 L271.24,320.96 L270.91,321.05 L270.61,321.07 L270.35,321.10 L270.04,321.19 L269.74,321.22 L269.37,321.30 L269.09,321.26 L268.77,321.26 L268.47,321.29 L268.16,321.33 L267.90,321.28 L267.58,321.34 L267.30,321.29 L266.96,321.30 L266.64,321.20 L266.34,321.24 L266.01,321.21 L265.73,321.08 L265.39,321.01 L265.14,321.01 L264.81,320.90 L264.50,320.82 L264.16,320.75 L263.89,320.71 L263.54,320.58 L263.25,320.55 L262.93,320.40 L262.68,320.31 L262.36,320.19 L262.05,320.07 L261.70,319.87 L261.38,319.73 L261.15,319.53 L260.82,319.35 L260.52,319.18 L260.23,319.01 L259.85,318.68 L259.61,318.35 Z" fill="#9a9a9a" stroke="#111" stroke-width="0.7" stroke-linejoin="round"/>
<path d="M262.37,318.36 L262.57,318.10 L262.78,317.97 L262.98,317.83 L263.22,317.69 L263.42,317.59 L263.63,317.48 L263.83,317.33 L264.04,317.26 L264.24,317.16 L264.45,317.10 L264.61,316.99 L264.84,316.94 L265.03,316.85 L265.23,316.81 L265.45,316.72 L265.64,316.71 L265.87,316.62 L266.06,316.62 L266.28,316.55 L266.50,316.54 L266.70,316.51 L266.89,316.46 L267.11,316.43 L267.32,316.41 L267.52,316.43 L267.73,316.41 L267.93,316.37 L268.12,316.40 L268.34,316.40 L268.53,316.36 L268.72,316.37 L268.95,316.44 L269.16,316.43 L269.37,316.45 L269.55,316.51 L269.77,316.49 L269.95,316.54 L270.17,316.61 L270.35,316.64 L270.59,316.71 L270.79,316.72 L270.99,316.77 L271.20,316.88 L271.38,316.92 L271.60,316.98 L271.81,317.06 L272.03,317.13 L272.20,317.27 L272.44,317.37 L272.65,317.45 L272.83,317.58 L273.02,317.71 L273.25,317.81 L273.45,317.93 L273.66,318.14 L273.85,318.36 L273.85,318.35 L273.65,318.63 L273.42,318.82 L273.24,318.98 L273.04,319.10 L272.85,319.20 L272.62,319.32 L272.42,319.43 L272.23,319.55 L272.01,319.63 L271.83,319.76 L271.60,319.83 L271.41,319.87 L271.19,319.94 L270.99,320.03 L270.80,320.11 L270.59,320.19 L270.38,320.21 L270.16,320.26 L269.98,320.31 L269.76,320.32 L269.53,320.36 L269.37,320.40 L269.12,320.43 L268.96,320.46 L268.74,320.44 L268.55,320.44 L268.35,320.48 L268.13,320.48 L267.94,320.46 L267.70,320.45 L267.48,320.46 L267.30,320.43 L267.11,320.41 L266.87,320.41 L266.66,320.34 L266.46,320.34 L266.26,320.26 L266.08,320.25 L265.86,320.20 L265.64,320.16 L265.44,320.11 L265.26,320.04 L265.07,319.98 L264.82,319.90 L264.64,319.81 L264.43,319.75 L264.23,319.62 L264.04,319.57 L263.81,319.48 L263.59,319.31 L263.39,319.21 L263.18,319.09 L263.01,318.93 L262.77,318.80 L262.58,318.59 L262.36,318.35 Z" fill="#e8e8e8" stroke="#000" stroke-width="0.8" stroke-linejoin="round"/>
<path d="M265.20,318.33 L265.29,318.20 L265.39,318.09 L265.51,318.01 L265.61,317.96 L265.70,317.86 L265.81,317.81 L265.91,317.76 L266.01,317.68 L266.11,317.64 L266.21,317.59 L266.32,317.54 L266.42,317.50 L266.53,317.46 L266.62,317.44 L266.73,317.39 L266.84,317.36 L266.94,317.34 L267.04,317.31 L267.14,317.30 L267.23,317.27 L267.33,317.24 L267.44,317.25 L267.56,317.22 L267.65,317.22 L267.75,317.22 L267.85,317.19 L267.96,317.19 L268.06,317.21 L268.15,317.21 L268.26,317.22 L268.37,317.22 L268.46,317.22 L268.56,317.23 L268.67,317.24 L268.77,317.25 L268.88,317.29 L268.98,317.31 L269.08,317.31 L269.19,317.36 L269.29,317.38 L269.38,317.41 L269.50,317.44 L269.59,317.47 L269.69,317.51 L269.80,317.54 L269.90,317.59 L270.00,317.64 L270.11,317.68 L270.20,317.74 L270.32,317.82 L270.43,317.88 L270.51,317.94 L270.62,318.02 L270.72,318.11 L270.82,318.21 L270.93,318.33 L270.92,318.35 L270.82,318.47 L270.73,318.59 L270.62,318.69 L270.51,318.77 L270.42,318.82 L270.31,318.91 L270.21,318.95 L270.11,319.03 L270.01,319.08 L269.91,319.12 L269.80,319.17 L269.70,319.23 L269.59,319.26 L269.49,319.30 L269.40,319.32 L269.30,319.36 L269.19,319.39 L269.09,319.42 L268.98,319.45 L268.88,319.48 L268.77,319.48 L268.67,319.51 L268.57,319.51 L268.47,319.53 L268.37,319.52 L268.26,319.53 L268.16,319.55 L268.07,319.56 L267.96,319.54 L267.86,319.55 L267.76,319.54 L267.65,319.54 L267.54,319.51 L267.45,319.51 L267.35,319.48 L267.24,319.46 L267.14,319.45 L267.03,319.43 L266.93,319.39 L266.83,319.35 L266.72,319.34 L266.62,319.28 L266.52,319.25 L266.43,319.22 L266.31,319.16 L266.22,319.13 L266.12,319.07 L266.01,319.03 L265.90,318.95 L265.80,318.89 L265.70,318.82 L265.59,318.77 L265.51,318.68 L265.39,318.59 L265.30,318.49 L265.19,318.35 Z" fill="#555" stroke="#000" stroke-width="0.6" stroke-linejoin="round"/>
<path d="M242.71,379.54 L243.75,379.14 L244.91,378.98 L245.58,378.72 L246.51,378.16 L247.65,377.96 L248.42,377.52 L249.48,377.18 L250.36,377.19 L251.67,376.56 L252.39,376.41 L253.52,375.91 L254.26,375.80 L255.61,375.73 L256.19,375.44 L257.32,375.14 L258.52,374.69 L259.28,374.67 L259.99,374.65 L261.32,374.35 L262.10,374.02 L263.25,373.92 L264.15,373.91 L265.05,373.50 L265.90,373.47 L267.01,373.22 L268.13,373.22 L269.04,373.14 L269.69,373.07 L271.03,373.02 L271.69,372.98 L272.76,372.95 L273.71,373.03 L274.69,372.94 L275.76,372.89 L276.49,372.75 L277.78,372.85 L278.81,373.12 L279.64,373.32 L280.52,373.38 L281.74,373.41 L282.56,373.64 L283.33,373.85 L284.20,373.74 L285.40,374.22 L286.38,374.15 L287.18,374.48 L288.08,374.72 L289.10,375.30 L290.17,375.42 L291.33,375.96 L292.14,376.59 L293.22,376.74 L293.94,377.29 L295.06,377.80 L295.83,378.66 L297.21,379.53 L296.95,379.73 L296.21,380.61 L295.12,381.44 L294.28,382.11 L293.37,382.44 L292.30,383.06 L291.42,383.54 L290.11,383.64 L289.29,384.16 L288.33,384.72 L287.54,384.79 L286.35,385.13 L285.39,385.39 L284.24,385.62 L283.50,385.61 L282.64,386.13 L281.56,385.95 L280.36,386.47 L279.44,386.61 L278.42,386.63 L277.42,386.41 L276.71,386.73 L275.80,386.65 L274.77,386.48 L273.75,386.78 L272.57,386.53 L272.03,386.62 L271.03,386.47 L269.99,386.34 L268.75,386.28 L267.82,386.26 L267.13,386.02 L266.10,385.94 L265.24,385.86 L263.86,385.91 L262.89,385.55 L262.15,385.52 L261.05,385.03 L260.43,385.06 L259.04,384.78 L258.46,384.42 L257.26,384.27 L256.58,384.25 L255.40,383.92 L254.33,383.50 L253.47,382.98 L252.42,383.03 L251.58,382.37 L250.74,382.09 L249.47,382.11 L248.38,381.59 L247.68,381.26 L246.73,380.94 L245.47,380.64 L244.58,380.10 L243.96,379.95 L242.69,379.65 Z" fill="#dedede" stroke="#000" stroke-width="1.1" stroke-linejoin="round"/>
<path d="M248.59,379.51 L249.33,379.31 L250.15,378.91 L251.11,378.77 L251.75,378.30 L252.49,378.32 L253.40,377.97 L254.22,377.53 L254.79,377.31 L255.86,377.27 L256.48,376.70 L257.37,376.44 L258.08,376.25 L258.98,376.21 L259.86,375.89 L260.64,375.61 L261.41,375.52 L262.16,375.45 L262.96,375.07 L263.70,374.97 L264.38,374.70 L265.40,374.86 L266.09,374.44 L266.85,374.28 L267.63,374.47 L268.51,374.23 L269.11,374.14 L269.92,373.92 L270.67,373.93 L271.71,374.07 L272.40,373.82 L273.25,373.91 L273.93,373.92 L274.94,373.83 L275.68,373.87 L276.24,373.96 L277.17,373.87 L277.95,373.93 L278.61,374.07 L279.39,374.29 L280.35,374.20 L281.09,374.44 L281.97,374.65 L282.72,374.60 L283.50,374.93 L284.45,374.94 L284.98,375.27 L286.06,375.50 L286.71,375.94 L287.46,376.07 L288.14,376.28 L289.12,376.66 L289.82,377.30 L290.65,377.80 L291.47,377.94 L292.27,378.59 L293.11,379.52 L293.16,379.32 L292.12,380.41 L291.57,381.14 L290.81,381.53 L290.00,381.89 L289.18,382.58 L288.38,382.68 L287.63,383.11 L286.55,383.62 L286.05,383.93 L285.14,383.99 L284.15,384.20 L283.52,384.39 L282.83,384.72 L282.02,384.69 L281.17,384.96 L280.33,385.04 L279.57,385.29 L278.64,385.47 L277.99,385.56 L277.07,385.64 L276.33,385.62 L275.50,385.70 L274.65,385.63 L274.14,385.51 L273.36,385.66 L272.28,385.70 L271.62,385.70 L270.80,385.60 L270.07,385.45 L269.18,385.48 L268.29,385.07 L267.67,385.22 L266.77,384.90 L266.01,384.73 L265.29,384.57 L264.44,384.43 L263.67,384.29 L262.78,384.32 L261.98,384.04 L261.28,383.93 L260.59,383.74 L259.61,383.31 L258.96,383.09 L258.08,382.74 L257.32,382.60 L256.44,382.40 L255.71,381.95 L254.78,381.77 L254.12,381.40 L253.40,381.12 L252.51,381.11 L251.85,380.57 L251.02,380.28 L250.07,380.09 L249.38,379.70 L248.70,379.42 Z" fill="#c8c8c8" stroke="#444" stroke-width="0.6" stroke-linejoin="round"/>
<path d="M254.17,379.39 L254.69,379.37 L255.25,379.16 L255.87,378.81 L256.55,378.61 L257.12,378.37 L257.94,378.09 L258.58,377.87 L259.15,377.64 L259.75,377.51 L260.27,377.25 L261.07,377.05 L261.58,376.86 L262.24,376.67 L262.78,376.40 L263.55,376.28 L264.17,376.10 L264.71,376.16 L265.49,376.00 L266.00,375.64 L266.60,375.58 L267.21,375.57 L267.98,375.38 L268.58,375.17 L269.12,375.07 L269.82,375.00 L270.43,374.96 L271.06,374.87 L271.69,374.90 L272.32,374.74 L272.83,374.74 L273.49,374.86 L274.22,374.81 L274.93,374.89 L275.52,374.87 L276.15,374.72 L276.70,374.80 L277.41,374.88 L278.08,374.94 L278.61,375.02 L279.25,375.05 L279.77,375.31 L280.57,375.26 L281.23,375.46 L281.69,375.64 L282.39,375.83 L282.95,375.96 L283.60,376.11 L284.33,376.55 L284.82,376.57 L285.59,377.04 L286.20,377.29 L286.90,377.59 L287.47,378.03 L287.94,378.37 L288.60,378.78 L289.23,379.40 L289.37,379.40 L288.76,380.15 L288.07,380.74 L287.31,381.08 L286.73,381.50 L286.19,381.78 L285.49,382.23 L284.82,382.60 L284.29,382.70 L283.64,382.92 L282.89,383.20 L282.47,383.38 L281.71,383.59 L281.11,383.84 L280.59,383.95 L279.87,384.20 L279.24,384.12 L278.69,384.34 L278.04,384.27 L277.44,384.39 L276.75,384.41 L276.01,384.57 L275.52,384.60 L274.92,384.62 L274.21,384.59 L273.68,384.52 L272.99,384.50 L272.36,384.56 L271.65,384.44 L271.14,384.44 L270.53,384.28 L269.79,384.36 L269.24,384.21 L268.49,384.07 L267.83,383.82 L267.17,383.79 L266.59,383.73 L266.12,383.64 L265.41,383.47 L264.88,383.34 L264.11,383.09 L263.51,382.83 L262.91,382.59 L262.32,382.49 L261.67,382.25 L261.01,382.18 L260.45,381.98 L259.62,381.57 L259.03,381.46 L258.43,381.15 L257.81,380.92 L257.23,380.71 L256.51,380.36 L255.96,380.25 L255.44,379.85 L254.67,379.69 L254.18,379.41 Z" fill="#b0b0b0" stroke="#222" stroke-width="0.6" stroke-linejoin="round"/>
<path d="M258.89,379.42 L259.32,379.34 L259.80,379.14 L260.31,378.99 L260.80,378.77 L261.38,378.60 L261.79,378.40 L262.35,378.12 L262.84,377.96 L263.27,377.92 L263.72,377.66 L264.30,377.56 L264.66,377.32 L265.18,377.26 L265.65,377.05 L266.13,376.86 L266.69,376.73 L267.06,376.66 L267.58,376.60 L268.11,376.43 L268.59,376.25 L269.00,376.31 L269.54,376.13 L270.03,376.00 L270.45,376.06 L270.98,375.84 L271.52,375.85 L271.96,375.84 L272.40,375.67 L272.99,375.71 L273.47,375.63 L273.87,375.67 L274.32,375.69 L274.84,375.72 L275.39,375.70 L275.82,375.65 L276.33,375.77 L276.83,375.79 L277.25,375.74 L277.81,375.85 L278.23,375.94 L278.81,376.03 L279.23,376.19 L279.72,376.21 L280.26,376.33 L280.71,376.52 L281.17,376.62 L281.59,376.81 L282.17,377.08 L282.58,377.13 L283.15,377.39 L283.59,377.61 L284.01,377.94 L284.54,378.23 L285.05,378.53 L285.58,378.94 L285.97,379.46 L285.94,379.53 L285.46,380.04 L285.08,380.55 L284.54,380.80 L284.03,381.09 L283.58,381.48 L283.07,381.66 L282.59,381.96 L282.14,382.15 L281.64,382.27 L281.21,382.46 L280.66,382.70 L280.18,382.85 L279.69,382.89 L279.16,383.12 L278.70,383.20 L278.22,383.27 L277.82,383.29 L277.26,383.38 L276.84,383.44 L276.27,383.48 L275.85,383.54 L275.31,383.55 L274.83,383.52 L274.37,383.61 L273.90,383.60 L273.38,383.55 L273.00,383.46 L272.47,383.45 L272.01,383.43 L271.46,383.38 L271.01,383.31 L270.50,383.32 L270.08,383.18 L269.49,383.10 L269.08,383.06 L268.58,382.85 L268.05,382.80 L267.61,382.59 L267.08,382.48 L266.61,382.36 L266.21,382.20 L265.65,382.07 L265.26,381.83 L264.78,381.80 L264.25,381.57 L263.72,381.32 L263.24,381.20 L262.78,381.10 L262.26,380.80 L261.80,380.59 L261.28,380.46 L260.91,380.31 L260.41,380.00 L259.92,379.85 L259.32,379.58 L258.96,379.45 Z" fill="#e4e4e4" stroke="#000" stroke-width="0.8" stroke-linejoin="round"/>
<path d="M263.41,379.46 L263.71,379.37 L264.13,379.15 L264.42,379.08 L264.76,378.91 L265.11,378.70 L265.47,378.65 L265.82,378.50 L266.18,378.32 L266.50,378.20 L266.87,378.10 L267.27,377.93 L267.57,377.85 L267.98,377.74 L268.26,377.65 L268.61,377.54 L268.95,377.44 L269.32,377.31 L269.68,377.23 L269.99,377.15 L270.41,377.08 L270.69,376.95 L271.06,376.88 L271.44,376.88 L271.74,376.82 L272.12,376.73 L272.42,376.73 L272.84,376.63 L273.16,376.55 L273.47,376.60 L273.87,376.54 L274.23,376.57 L274.53,376.48 L274.94,376.49 L275.29,376.51 L275.60,376.60 L275.99,376.59 L276.28,376.58 L276.67,376.68 L276.97,376.64 L277.36,376.71 L277.67,376.87 L278.09,376.94 L278.43,376.96 L278.72,377.11 L279.05,377.16 L279.44,377.28 L279.74,377.40 L280.09,377.52 L280.47,377.68 L280.87,377.88 L281.22,378.09 L281.50,378.28 L281.88,378.50 L282.18,378.69 L282.55,379.06 L282.92,379.42 L282.90,379.43 L282.54,379.90 L282.18,380.21 L281.84,380.49 L281.56,380.76 L281.15,380.96 L280.80,381.20 L280.48,381.37 L280.11,381.45 L279.81,381.66 L279.43,381.79 L279.05,381.92 L278.76,382.06 L278.41,382.12 L278.03,382.26 L277.67,382.37 L277.36,382.41 L277.00,382.42 L276.62,382.44 L276.27,382.51 L275.95,382.61 L275.60,382.57 L275.24,382.64 L274.88,382.61 L274.53,382.58 L274.20,382.62 L273.83,382.56 L273.52,382.63 L273.19,382.55 L272.86,382.57 L272.45,382.48 L272.08,382.40 L271.79,382.38 L271.44,382.31 L271.04,382.22 L270.74,382.11 L270.42,382.09 L270.03,382.00 L269.66,381.88 L269.36,381.83 L268.94,381.64 L268.62,381.52 L268.27,381.43 L267.98,381.29 L267.60,381.17 L267.27,381.11 L266.92,380.88 L266.52,380.74 L266.19,380.61 L265.85,380.49 L265.52,380.34 L265.16,380.17 L264.76,380.00 L264.45,379.91 L264.13,379.75 L263.77,379.61 L263.40,379.49 Z" fill="#9a9a9a" stroke="#111" stroke-width="0.7" stroke-linejoin="round"/>
<path d="M267.27,379.42 L267.51,379.34 L267.76,379.21 L267.98,379.15 L268.20,379.06 L268.42,378.92 L268.65,378.86 L268.90,378.74 L269.12,378.66 L269.35,378.53 L269.57,378.47 L269.82,378.33 L270.08,378.26 L270.28,378.19 L270.50,378.12 L270.77,378.05 L271.00,377.95 L271.25,377.91 L271.46,377.81 L271.69,377.75 L271.92,377.70 L272.15,377.67 L272.37,377.61 L272.60,377.56 L272.86,377.52 L273.06,377.44 L273.32,377.43 L273.55,377.43 L273.76,377.38 L274.00,377.33 L274.23,377.32 L274.48,377.30 L274.73,377.35 L274.93,377.33 L275.16,377.30 L275.41,377.36 L275.65,377.35 L275.87,377.40 L276.08,377.42 L276.32,377.48 L276.56,377.50 L276.78,377.54 L277.04,377.56 L277.25,377.65 L277.51,377.72 L277.75,377.81 L277.96,377.90 L278.17,378.00 L278.41,378.09 L278.64,378.18 L278.89,378.33 L279.12,378.45 L279.37,378.57 L279.58,378.74 L279.80,378.92 L280.03,379.16 L280.29,379.40 L280.30,379.44 L280.04,379.76 L279.80,380.01 L279.60,380.21 L279.37,380.34 L279.14,380.50 L278.87,380.64 L278.65,380.82 L278.40,380.93 L278.17,381.01 L277.98,381.13 L277.70,381.25 L277.50,381.31 L277.27,381.35 L277.04,381.42 L276.82,381.52 L276.55,381.53 L276.35,381.62 L276.11,381.64 L275.89,381.67 L275.65,381.69 L275.39,381.74 L275.16,381.70 L274.94,381.72 L274.72,381.74 L274.46,381.71 L274.25,381.73 L274.02,381.67 L273.79,381.67 L273.54,381.63 L273.32,381.62 L273.09,381.61 L272.83,381.56 L272.63,381.47 L272.38,381.41 L272.15,381.42 L271.91,381.30 L271.68,381.25 L271.44,381.22 L271.25,381.15 L271.00,381.06 L270.74,380.94 L270.51,380.88 L270.30,380.80 L270.05,380.70 L269.85,380.60 L269.58,380.53 L269.35,380.43 L269.14,380.29 L268.91,380.21 L268.67,380.08 L268.44,379.97 L268.22,379.89 L267.95,379.73 L267.74,379.62 L267.50,379.54 L267.29,379.43 Z" fill="#e8e8e8" stroke="#000" stroke-width="0.8" stroke-linejoin="round"/>
<path d="M271.13,379.42 L271.25,379.38 L271.38,379.31 L271.49,379.24 L271.61,379.19 L271.72,379.15 L271.84,379.08 L271.95,379.02 L272.06,378.97 L272.19,378.90 L272.29,378.84 L272.42,378.80 L272.53,378.75 L272.65,378.72 L272.77,378.67 L272.88,378.61 L272.99,378.56 L273.12,378.52 L273.22,378.48 L273.34,378.46 L273.45,378.43 L273.58,378.38 L273.70,378.35 L273.80,378.32 L273.92,378.30 L274.03,378.28 L274.15,378.25 L274.28,378.26 L274.40,378.23 L274.50,378.22 L274.62,378.22 L274.73,378.22 L274.86,378.21 L274.98,378.21 L275.09,378.22 L275.20,378.21 L275.31,378.24 L275.44,378.24 L275.55,378.25 L275.66,378.28 L275.78,378.31 L275.91,378.33 L276.02,378.36 L276.14,378.39 L276.25,378.42 L276.36,378.47 L276.48,378.51 L276.60,378.57 L276.72,378.62 L276.82,378.70 L276.95,378.75 L277.06,378.84 L277.18,378.92 L277.30,379.03 L277.41,379.14 L277.52,379.25 L277.65,379.43 L277.65,379.43 L277.53,379.60 L277.42,379.74 L277.29,379.87 L277.17,379.97 L277.05,380.04 L276.94,380.13 L276.83,380.20 L276.70,380.28 L276.60,380.33 L276.48,380.41 L276.37,380.45 L276.26,380.48 L276.14,380.54 L276.02,380.58 L275.90,380.62 L275.79,380.64 L275.67,380.68 L275.55,380.70 L275.44,380.71 L275.31,380.72 L275.19,380.72 L275.09,380.73 L274.97,380.73 L274.85,380.73 L274.74,380.73 L274.62,380.71 L274.51,380.71 L274.39,380.71 L274.27,380.68 L274.15,380.67 L274.03,380.65 L273.93,380.62 L273.80,380.61 L273.70,380.57 L273.58,380.53 L273.47,380.52 L273.34,380.46 L273.23,380.44 L273.10,380.39 L273.00,380.34 L272.87,380.30 L272.76,380.26 L272.64,380.21 L272.53,380.14 L272.41,380.10 L272.30,380.03 L272.18,379.98 L272.07,379.93 L271.95,379.85 L271.84,379.79 L271.71,379.74 L271.60,379.67 L271.48,379.59 L271.37,379.53 L271.25,379.48 L271.13,379.42 Z" fill="#555" stroke="#000" stroke-width="0.6" stroke-linejoin="round"/>
<circle cx="293.50" cy="315.50" r="0.45" fill="#333" stroke="none" stroke-width="0"/>
<circle cx="295.20" cy="318.80" r="0.45" fill="#333" stroke="none" stroke-width="0"/>
<circle cx="294.20" cy="321.50" r="0.45" fill="#333" stroke="none" stroke-width="0"/>
<circle cx="289.50" cy="324.50" r="0.45" fill="#333" stroke="none" stroke-width="0"/>
<circle cx="282.00" cy="327.60" r="0.45" fill="#333" stroke="none" stroke-width="0"/>
<circle cx="276.50" cy="326.00" r="0.45" fill="#333" stroke="none" stroke-width="0"/>
<circle cx="296.50" cy="381.50" r="0.45" fill="#333" stroke="none" stroke-width="0"/>
<circle cx="294.50" cy="386.50" r="0.45" fill="#333" stroke="none" stroke-width="0"/>
<circle cx="289.00" cy="390.20" r="0.45" fill="#333" stroke="none" stroke-width="0"/>
<circle cx="287.00" cy="388.70" r="0.45" fill="#333" stroke="none" stroke-width="0"/>
<circle cx="257.00" cy="372.50" r="0.45" fill="#333" stroke="none" stroke-width="0"/>
<circle cx="268.00" cy="389.00" r="0.45" fill="#333" stroke="none" stroke-width="0"/>
<circle cx="250.00" cy="388.00" r="0.45" fill="#333" stroke="none" stroke-width="0"/>
<circle cx="246.00" cy="377.00" r="0.45" fill="#333" stroke="none" stroke-width="0"/>
<text x="212.60" y="264.83" font-size="8.2" text-anchor="middle" fill="#333" textLength="27.0" lengthAdjust="spacingAndGlyphs" stroke="#333" stroke-width="0.08" transform="rotate(-90 212.60 262.00)" >Isotype</text>
<text x="211.90" y="325.03" font-size="8.2" text-anchor="middle" fill="#333" textLength="28.6" lengthAdjust="spacingAndGlyphs" stroke="#333" stroke-width="0.08" transform="rotate(-90 211.90 322.20)" >Healthy</text>
<text x="224.80" y="325.73" font-size="8.2" text-anchor="middle" fill="#333" textLength="17.7" lengthAdjust="spacingAndGlyphs" stroke="#333" stroke-width="0.08" transform="rotate(-90 224.80 322.90)" >NK1.1</text>
<text x="212.10" y="388.03" font-size="8.2" text-anchor="middle" fill="#333" textLength="27.5" lengthAdjust="spacingAndGlyphs" stroke="#333" stroke-width="0.08" transform="rotate(-90 212.10 385.20)" >Eμ-myc</text>
<text x="276.90" y="431.37" font-size="9.2" text-anchor="middle" fill="#333" textLength="16.7" lengthAdjust="spacingAndGlyphs" stroke="#333" stroke-width="0.08" >CD36</text>
<text x="385.00" y="240.14" font-size="9.4" text-anchor="middle" fill="#222" textLength="22.6" lengthAdjust="spacingAndGlyphs" stroke="#222" stroke-width="0.05" >CD36</text>
<line x1="364.00" y1="244.50" x2="364.00" y2="317.40" stroke="#222" stroke-width="1.2" stroke-linecap="butt"/>
<line x1="363.40" y1="316.80" x2="406.00" y2="316.80" stroke="#222" stroke-width="1.2" stroke-linecap="butt"/>
<line x1="361.20" y1="316.80" x2="364.00" y2="316.80" stroke="#222" stroke-width="0.9" stroke-linecap="butt"/>
<line x1="362.30" y1="310.55" x2="364.00" y2="310.55" stroke="#222" stroke-width="0.9" stroke-linecap="butt"/>
<line x1="361.20" y1="304.30" x2="364.00" y2="304.30" stroke="#222" stroke-width="0.9" stroke-linecap="butt"/>
<text x="358.40" y="306.51" font-size="6.4" text-anchor="end" fill="#333" textLength="7.2" lengthAdjust="spacingAndGlyphs" stroke="#333" stroke-width="0.08" >10</text>
<line x1="362.30" y1="298.05" x2="364.00" y2="298.05" stroke="#222" stroke-width="0.9" stroke-linecap="butt"/>
<line x1="361.20" y1="291.80" x2="364.00" y2="291.80" stroke="#222" stroke-width="0.9" stroke-linecap="butt"/>
<text x="358.40" y="294.01" font-size="6.4" text-anchor="end" fill="#333" textLength="7.2" lengthAdjust="spacingAndGlyphs" stroke="#333" stroke-width="0.08" >20</text>
<line x1="362.30" y1="285.55" x2="364.00" y2="285.55" stroke="#222" stroke-width="0.9" stroke-linecap="butt"/>
<line x1="361.20" y1="279.30" x2="364.00" y2="279.30" stroke="#222" stroke-width="0.9" stroke-linecap="butt"/>
<text x="358.40" y="281.51" font-size="6.4" text-anchor="end" fill="#333" textLength="7.2" lengthAdjust="spacingAndGlyphs" stroke="#333" stroke-width="0.08" >30</text>
<line x1="362.30" y1="273.05" x2="364.00" y2="273.05" stroke="#222" stroke-width="0.9" stroke-linecap="butt"/>
<line x1="361.20" y1="266.80" x2="364.00" y2="266.80" stroke="#222" stroke-width="0.9" stroke-linecap="butt"/>
<text x="358.40" y="269.01" font-size="6.4" text-anchor="end" fill="#333" textLength="7.2" lengthAdjust="spacingAndGlyphs" stroke="#333" stroke-width="0.08" >40</text>
<line x1="362.30" y1="260.55" x2="364.00" y2="260.55" stroke="#222" stroke-width="0.9" stroke-linecap="butt"/>
<line x1="361.20" y1="254.30" x2="364.00" y2="254.30" stroke="#222" stroke-width="0.9" stroke-linecap="butt"/>
<text x="358.40" y="256.51" font-size="6.4" text-anchor="end" fill="#333" textLength="7.2" lengthAdjust="spacingAndGlyphs" stroke="#333" stroke-width="0.08" >50</text>
<line x1="362.30" y1="248.05" x2="364.00" y2="248.05" stroke="#222" stroke-width="0.9" stroke-linecap="butt"/>
<text x="358.40" y="319.01" font-size="6.4" text-anchor="end" fill="#333" textLength="3.6" lengthAdjust="spacingAndGlyphs" stroke="#333" stroke-width="0.08" >0</text>
<line x1="376.50" y1="316.80" x2="376.50" y2="319.40" stroke="#222" stroke-width="0.9" stroke-linecap="butt"/>
<line x1="394.60" y1="316.80" x2="394.60" y2="319.40" stroke="#222" stroke-width="0.9" stroke-linecap="butt"/>
<text x="343.20" y="283.22" font-size="7.6" text-anchor="middle" fill="#333" textLength="40" lengthAdjust="spacingAndGlyphs" stroke="#333" stroke-width="0.08" transform="rotate(-90 343.20 280.60)" >% CD36+ NK</text>
<line x1="376.20" y1="249.80" x2="393.80" y2="249.80" stroke="#777" stroke-width="1.4" stroke-linecap="butt"/>
<text x="385.10" y="248.90" font-size="5.8" text-anchor="middle" fill="#333" textLength="5.6" lengthAdjust="spacingAndGlyphs" stroke="#333" stroke-width="0.08" >**</text>
<circle cx="372.00" cy="273.30" r="1.95" fill="none" stroke="#b5173f" stroke-width="0.9"/>
<circle cx="376.20" cy="274.40" r="1.95" fill="none" stroke="#b5173f" stroke-width="0.9"/>
<circle cx="380.30" cy="276.60" r="1.95" fill="none" stroke="#b5173f" stroke-width="0.9"/>
<circle cx="374.20" cy="278.50" r="1.95" fill="none" stroke="#b5173f" stroke-width="0.9"/>
<circle cx="378.10" cy="282.20" r="1.95" fill="none" stroke="#b5173f" stroke-width="0.9"/>
<line x1="370.30" y1="277.00" x2="378.40" y2="277.00" stroke="#000" stroke-width="1.1" stroke-linecap="butt"/>
<line x1="375.80" y1="275.00" x2="375.80" y2="279.00" stroke="#000" stroke-width="0.8" stroke-linecap="butt"/>
<circle cx="390.10" cy="256.50" r="1.95" fill="none" stroke="#000" stroke-width="0.9"/>
<circle cx="394.00" cy="257.90" r="1.95" fill="none" stroke="#000" stroke-width="0.9"/>
<circle cx="398.20" cy="259.50" r="1.95" fill="none" stroke="#000" stroke-width="0.9"/>
<circle cx="392.10" cy="266.80" r="1.95" fill="none" stroke="#000" stroke-width="0.9"/>
<circle cx="396.30" cy="266.80" r="1.95" fill="none" stroke="#000" stroke-width="0.9"/>
<line x1="388.10" y1="261.20" x2="396.20" y2="261.20" stroke="#000" stroke-width="1.1" stroke-linecap="butt"/>
<line x1="393.60" y1="258.50" x2="393.60" y2="264.00" stroke="#000" stroke-width="0.8" stroke-linecap="butt"/>
<line x1="364.00" y1="330.20" x2="364.00" y2="402.60" stroke="#222" stroke-width="1.2" stroke-linecap="butt"/>
<line x1="363.40" y1="402.00" x2="405.80" y2="402.00" stroke="#222" stroke-width="1.2" stroke-linecap="butt"/>
<line x1="361.20" y1="402.00" x2="364.00" y2="402.00" stroke="#222" stroke-width="0.9" stroke-linecap="butt"/>
<text x="358.40" y="404.28" font-size="6.6" text-anchor="end" fill="#333" textLength="3.42" lengthAdjust="spacingAndGlyphs" stroke="#333" stroke-width="0.08" >0</text>
<line x1="362.30" y1="393.35" x2="364.00" y2="393.35" stroke="#222" stroke-width="0.9" stroke-linecap="butt"/>
<line x1="361.20" y1="384.70" x2="364.00" y2="384.70" stroke="#222" stroke-width="0.9" stroke-linecap="butt"/>
<text x="358.40" y="386.98" font-size="6.6" text-anchor="end" fill="#333" textLength="10.26" lengthAdjust="spacingAndGlyphs" stroke="#333" stroke-width="0.08" >500</text>
<line x1="362.30" y1="376.05" x2="364.00" y2="376.05" stroke="#222" stroke-width="0.9" stroke-linecap="butt"/>
<line x1="361.20" y1="367.40" x2="364.00" y2="367.40" stroke="#222" stroke-width="0.9" stroke-linecap="butt"/>
<text x="358.40" y="369.68" font-size="6.6" text-anchor="end" fill="#333" textLength="13.68" lengthAdjust="spacingAndGlyphs" stroke="#333" stroke-width="0.08" >1000</text>
<line x1="362.30" y1="358.75" x2="364.00" y2="358.75" stroke="#222" stroke-width="0.9" stroke-linecap="butt"/>
<line x1="361.20" y1="350.10" x2="364.00" y2="350.10" stroke="#222" stroke-width="0.9" stroke-linecap="butt"/>
<text x="358.40" y="352.38" font-size="6.6" text-anchor="end" fill="#333" textLength="13.68" lengthAdjust="spacingAndGlyphs" stroke="#333" stroke-width="0.08" >1500</text>
<line x1="362.30" y1="341.45" x2="364.00" y2="341.45" stroke="#222" stroke-width="0.9" stroke-linecap="butt"/>
<line x1="361.20" y1="332.80" x2="364.00" y2="332.80" stroke="#222" stroke-width="0.9" stroke-linecap="butt"/>
<text x="358.40" y="335.08" font-size="6.6" text-anchor="end" fill="#333" textLength="13.68" lengthAdjust="spacingAndGlyphs" stroke="#333" stroke-width="0.08" >2000</text>
<line x1="376.40" y1="402.00" x2="376.40" y2="404.60" stroke="#222" stroke-width="0.9" stroke-linecap="butt"/>
<line x1="394.00" y1="402.00" x2="394.00" y2="404.60" stroke="#222" stroke-width="0.9" stroke-linecap="butt"/>
<text x="338.50" y="369.72" font-size="7.6" text-anchor="middle" fill="#333" textLength="55.4" lengthAdjust="spacingAndGlyphs" stroke="#333" stroke-width="0.08" transform="rotate(-90 338.50 367.10)" >ΔMFI CD36+ NK</text>
<line x1="376.30" y1="335.00" x2="393.70" y2="335.00" stroke="#777" stroke-width="1.4" stroke-linecap="butt"/>
<text x="385.00" y="334.00" font-size="5.8" text-anchor="middle" fill="#333" textLength="5.6" lengthAdjust="spacingAndGlyphs" stroke="#333" stroke-width="0.08" >**</text>
<circle cx="372.00" cy="372.50" r="1.75" fill="#fff" stroke="#b5173f" stroke-width="0.9"/>
<circle cx="374.00" cy="373.20" r="1.75" fill="#fff" stroke="#b5173f" stroke-width="0.9"/>
<circle cx="376.00" cy="374.30" r="1.75" fill="#fff" stroke="#b5173f" stroke-width="0.9"/>
<circle cx="378.00" cy="375.60" r="1.75" fill="#fff" stroke="#b5173f" stroke-width="0.9"/>
<circle cx="380.00" cy="376.90" r="1.75" fill="#fff" stroke="#b5173f" stroke-width="0.9"/>
<line x1="371.50" y1="374.60" x2="380.00" y2="374.60" stroke="#111" stroke-width="0.9" stroke-linecap="butt"/>
<circle cx="394.10" cy="347.80" r="1.9" fill="none" stroke="#000" stroke-width="0.9"/>
<circle cx="390.10" cy="360.10" r="1.9" fill="none" stroke="#000" stroke-width="0.9"/>
<circle cx="394.50" cy="360.10" r="1.9" fill="none" stroke="#000" stroke-width="0.9"/>
<circle cx="398.20" cy="360.90" r="1.9" fill="none" stroke="#000" stroke-width="0.9"/>
<circle cx="394.10" cy="358.50" r="1.9" fill="none" stroke="#000" stroke-width="0.9"/>
<line x1="388.00" y1="356.60" x2="400.00" y2="356.60" stroke="#000" stroke-width="1.1" stroke-linecap="butt"/>
<line x1="392.20" y1="353.90" x2="396.00" y2="353.90" stroke="#000" stroke-width="1.0" stroke-linecap="butt"/>
<line x1="394.10" y1="353.90" x2="394.10" y2="358.00" stroke="#000" stroke-width="0.8" stroke-linecap="butt"/>
<text x="379.30" y="411.70" font-size="7.2" text-anchor="end" fill="#333" transform="rotate(-45 379.30 411.70)" textLength="22.5" lengthAdjust="spacingAndGlyphs">Healthy</text>
<text x="396.80" y="411.30" font-size="7.2" text-anchor="end" fill="#333" transform="rotate(-45 396.80 411.30)" textLength="21.0" lengthAdjust="spacingAndGlyphs">Eμ-myc</text>
<text x="422.30" y="218.63" font-size="12.4" text-anchor="start" fill="#000" font-weight="bold" textLength="5.1" lengthAdjust="spacingAndGlyphs" stroke="#000" stroke-width="0.35" >F</text>
<rect x="422.00" y="256.30" width="7.65" height="7.11" fill="#5f70b8"/>
<rect x="429.60" y="256.30" width="7.65" height="7.11" fill="#7d93cd"/>
<rect x="437.20" y="256.30" width="7.65" height="7.11" fill="#9db8e0"/>
<rect x="444.80" y="256.30" width="7.65" height="7.11" fill="#ae2d52"/>
<rect x="452.40" y="256.30" width="7.65" height="7.11" fill="#d57a6c"/>
<rect x="460.00" y="256.30" width="7.65" height="7.11" fill="#e0967a"/>
<rect x="422.00" y="263.36" width="7.65" height="7.11" fill="#7d93cd"/>
<rect x="429.60" y="263.36" width="7.65" height="7.11" fill="#7d93cd"/>
<rect x="437.20" y="263.36" width="7.65" height="7.11" fill="#7d93cd"/>
<rect x="444.80" y="263.36" width="7.65" height="7.11" fill="#ae2d52"/>
<rect x="452.40" y="263.36" width="7.65" height="7.11" fill="#e0967a"/>
<rect x="460.00" y="263.36" width="7.65" height="7.11" fill="#c24e5e"/>
<rect x="422.00" y="270.42" width="7.65" height="7.11" fill="#5f70b8"/>
<rect x="429.60" y="270.42" width="7.65" height="7.11" fill="#7d93cd"/>
<rect x="437.20" y="270.42" width="7.65" height="7.11" fill="#b2d3eb"/>
<rect x="444.80" y="270.42" width="7.65" height="7.11" fill="#e0967a"/>
<rect x="452.40" y="270.42" width="7.65" height="7.11" fill="#e0967a"/>
<rect x="460.00" y="270.42" width="7.65" height="7.11" fill="#9e1248"/>
<rect x="422.00" y="277.47" width="7.65" height="7.11" fill="#b2d3eb"/>
<rect x="429.60" y="277.47" width="7.65" height="7.11" fill="#7d93cd"/>
<rect x="437.20" y="277.47" width="7.65" height="7.11" fill="#5f70b8"/>
<rect x="444.80" y="277.47" width="7.65" height="7.11" fill="#ae2d52"/>
<rect x="452.40" y="277.47" width="7.65" height="7.11" fill="#e0967a"/>
<rect x="460.00" y="277.47" width="7.65" height="7.11" fill="#d57a6c"/>
<rect x="422.00" y="284.53" width="7.65" height="7.11" fill="#7d93cd"/>
<rect x="429.60" y="284.53" width="7.65" height="7.11" fill="#7d93cd"/>
<rect x="437.20" y="284.53" width="7.65" height="7.11" fill="#b2d3eb"/>
<rect x="444.80" y="284.53" width="7.65" height="7.11" fill="#9e1248"/>
<rect x="452.40" y="284.53" width="7.65" height="7.11" fill="#ebb496"/>
<rect x="460.00" y="284.53" width="7.65" height="7.11" fill="#d57a6c"/>
<rect x="422.00" y="291.59" width="7.65" height="7.11" fill="#7d93cd"/>
<rect x="429.60" y="291.59" width="7.65" height="7.11" fill="#7d93cd"/>
<rect x="437.20" y="291.59" width="7.65" height="7.11" fill="#9db8e0"/>
<rect x="444.80" y="291.59" width="7.65" height="7.11" fill="#ae2d52"/>
<rect x="452.40" y="291.59" width="7.65" height="7.11" fill="#ebb496"/>
<rect x="460.00" y="291.59" width="7.65" height="7.11" fill="#d57a6c"/>
<rect x="422.00" y="298.65" width="7.65" height="7.11" fill="#7d93cd"/>
<rect x="429.60" y="298.65" width="7.65" height="7.11" fill="#9db8e0"/>
<rect x="437.20" y="298.65" width="7.65" height="7.11" fill="#9db8e0"/>
<rect x="444.80" y="298.65" width="7.65" height="7.11" fill="#ae2d52"/>
<rect x="452.40" y="298.65" width="7.65" height="7.11" fill="#ebb496"/>
<rect x="460.00" y="298.65" width="7.65" height="7.11" fill="#c24e5e"/>
<rect x="422.00" y="305.70" width="7.65" height="7.11" fill="#9db8e0"/>
<rect x="429.60" y="305.70" width="7.65" height="7.11" fill="#5f70b8"/>
<rect x="437.20" y="305.70" width="7.65" height="7.11" fill="#9db8e0"/>
<rect x="444.80" y="305.70" width="7.65" height="7.11" fill="#ae2d52"/>
<rect x="452.40" y="305.70" width="7.65" height="7.11" fill="#e0967a"/>
<rect x="460.00" y="305.70" width="7.65" height="7.11" fill="#d57a6c"/>
<rect x="422.00" y="312.76" width="7.65" height="7.11" fill="#9db8e0"/>
<rect x="429.60" y="312.76" width="7.65" height="7.11" fill="#7d93cd"/>
<rect x="437.20" y="312.76" width="7.65" height="7.11" fill="#9db8e0"/>
<rect x="444.80" y="312.76" width="7.65" height="7.11" fill="#ae2d52"/>
<rect x="452.40" y="312.76" width="7.65" height="7.11" fill="#ebb496"/>
<rect x="460.00" y="312.76" width="7.65" height="7.11" fill="#c24e5e"/>
<rect x="422.00" y="319.82" width="7.65" height="7.11" fill="#9db8e0"/>
<rect x="429.60" y="319.82" width="7.65" height="7.11" fill="#7d93cd"/>
<rect x="437.20" y="319.82" width="7.65" height="7.11" fill="#9db8e0"/>
<rect x="444.80" y="319.82" width="7.65" height="7.11" fill="#9e1248"/>
<rect x="452.40" y="319.82" width="7.65" height="7.11" fill="#ebb496"/>
<rect x="460.00" y="319.82" width="7.65" height="7.11" fill="#e0967a"/>
<rect x="422.00" y="326.88" width="7.65" height="7.11" fill="#9db8e0"/>
<rect x="429.60" y="326.88" width="7.65" height="7.11" fill="#7d93cd"/>
<rect x="437.20" y="326.88" width="7.65" height="7.11" fill="#9db8e0"/>
<rect x="444.80" y="326.88" width="7.65" height="7.11" fill="#9e1248"/>
<rect x="452.40" y="326.88" width="7.65" height="7.11" fill="#ebb496"/>
<rect x="460.00" y="326.88" width="7.65" height="7.11" fill="#e0967a"/>
<rect x="422.00" y="333.93" width="7.65" height="7.11" fill="#9db8e0"/>
<rect x="429.60" y="333.93" width="7.65" height="7.11" fill="#7d93cd"/>
<rect x="437.20" y="333.93" width="7.65" height="7.11" fill="#9db8e0"/>
<rect x="444.80" y="333.93" width="7.65" height="7.11" fill="#9e1248"/>
<rect x="452.40" y="333.93" width="7.65" height="7.11" fill="#ebb496"/>
<rect x="460.00" y="333.93" width="7.65" height="7.11" fill="#e0967a"/>
<rect x="422.00" y="340.99" width="7.65" height="7.11" fill="#9db8e0"/>
<rect x="429.60" y="340.99" width="7.65" height="7.11" fill="#7d93cd"/>
<rect x="437.20" y="340.99" width="7.65" height="7.11" fill="#9db8e0"/>
<rect x="444.80" y="340.99" width="7.65" height="7.11" fill="#ae2d52"/>
<rect x="452.40" y="340.99" width="7.65" height="7.11" fill="#ebb496"/>
<rect x="460.00" y="340.99" width="7.65" height="7.11" fill="#d57a6c"/>
<rect x="422.00" y="348.05" width="7.65" height="7.11" fill="#9db8e0"/>
<rect x="429.60" y="348.05" width="7.65" height="7.11" fill="#9db8e0"/>
<rect x="437.20" y="348.05" width="7.65" height="7.11" fill="#7d93cd"/>
<rect x="444.80" y="348.05" width="7.65" height="7.11" fill="#9e1248"/>
<rect x="452.40" y="348.05" width="7.65" height="7.11" fill="#ebb496"/>
<rect x="460.00" y="348.05" width="7.65" height="7.11" fill="#d57a6c"/>
<rect x="422.00" y="355.11" width="7.65" height="7.11" fill="#7d93cd"/>
<rect x="429.60" y="355.11" width="7.65" height="7.11" fill="#9db8e0"/>
<rect x="437.20" y="355.11" width="7.65" height="7.11" fill="#9db8e0"/>
<rect x="444.80" y="355.11" width="7.65" height="7.11" fill="#9e1248"/>
<rect x="452.40" y="355.11" width="7.65" height="7.11" fill="#ebb496"/>
<rect x="460.00" y="355.11" width="7.65" height="7.11" fill="#e0967a"/>
<rect x="422.00" y="362.17" width="7.65" height="7.11" fill="#7d93cd"/>
<rect x="429.60" y="362.17" width="7.65" height="7.11" fill="#9db8e0"/>
<rect x="437.20" y="362.17" width="7.65" height="7.11" fill="#9db8e0"/>
<rect x="444.80" y="362.17" width="7.65" height="7.11" fill="#9e1248"/>
<rect x="452.40" y="362.17" width="7.65" height="7.11" fill="#ebb496"/>
<rect x="460.00" y="362.17" width="7.65" height="7.11" fill="#e0967a"/>
<rect x="422.00" y="369.22" width="7.65" height="7.11" fill="#7d93cd"/>
<rect x="429.60" y="369.22" width="7.65" height="7.11" fill="#b2d3eb"/>
<rect x="437.20" y="369.22" width="7.65" height="7.11" fill="#7d93cd"/>
<rect x="444.80" y="369.22" width="7.65" height="7.11" fill="#9e1248"/>
<rect x="452.40" y="369.22" width="7.65" height="7.11" fill="#ebb496"/>
<rect x="460.00" y="369.22" width="7.65" height="7.11" fill="#e0967a"/>
<rect x="422.00" y="376.28" width="7.65" height="7.11" fill="#9db8e0"/>
<rect x="429.60" y="376.28" width="7.65" height="7.11" fill="#7d93cd"/>
<rect x="437.20" y="376.28" width="7.65" height="7.11" fill="#9db8e0"/>
<rect x="444.80" y="376.28" width="7.65" height="7.11" fill="#d57a6c"/>
<rect x="452.40" y="376.28" width="7.65" height="7.11" fill="#e0967a"/>
<rect x="460.00" y="376.28" width="7.65" height="7.11" fill="#9e1248"/>
<rect x="422.00" y="383.34" width="7.65" height="7.11" fill="#7d93cd"/>
<rect x="429.60" y="383.34" width="7.65" height="7.11" fill="#7d93cd"/>
<rect x="437.20" y="383.34" width="7.65" height="7.11" fill="#b2d3eb"/>
<rect x="444.80" y="383.34" width="7.65" height="7.11" fill="#ae2d52"/>
<rect x="452.40" y="383.34" width="7.65" height="7.11" fill="#e0967a"/>
<rect x="460.00" y="383.34" width="7.65" height="7.11" fill="#d57a6c"/>
<rect x="422.00" y="390.40" width="7.65" height="7.11" fill="#9db8e0"/>
<rect x="429.60" y="390.40" width="7.65" height="7.11" fill="#7d93cd"/>
<rect x="437.20" y="390.40" width="7.65" height="7.11" fill="#9db8e0"/>
<rect x="444.80" y="390.40" width="7.65" height="7.11" fill="#d57a6c"/>
<rect x="452.40" y="390.40" width="7.65" height="7.11" fill="#e0967a"/>
<rect x="460.00" y="390.40" width="7.65" height="7.11" fill="#9e1248"/>
<rect x="422.00" y="397.45" width="7.65" height="7.11" fill="#9db8e0"/>
<rect x="429.60" y="397.45" width="7.65" height="7.11" fill="#7d93cd"/>
<rect x="437.20" y="397.45" width="7.65" height="7.11" fill="#9db8e0"/>
<rect x="444.80" y="397.45" width="7.65" height="7.11" fill="#ae2d52"/>
<rect x="452.40" y="397.45" width="7.65" height="7.11" fill="#e0967a"/>
<rect x="460.00" y="397.45" width="7.65" height="7.11" fill="#d57a6c"/>
<rect x="422.00" y="404.51" width="7.65" height="7.11" fill="#9db8e0"/>
<rect x="429.60" y="404.51" width="7.65" height="7.11" fill="#9db8e0"/>
<rect x="437.20" y="404.51" width="7.65" height="7.11" fill="#7d93cd"/>
<rect x="444.80" y="404.51" width="7.65" height="7.11" fill="#c24e5e"/>
<rect x="452.40" y="404.51" width="7.65" height="7.11" fill="#e0967a"/>
<rect x="460.00" y="404.51" width="7.65" height="7.11" fill="#ae2d52"/>
<rect x="422.00" y="411.57" width="7.65" height="7.11" fill="#7d93cd"/>
<rect x="429.60" y="411.57" width="7.65" height="7.11" fill="#9db8e0"/>
<rect x="437.20" y="411.57" width="7.65" height="7.11" fill="#9db8e0"/>
<rect x="444.80" y="411.57" width="7.65" height="7.11" fill="#ae2d52"/>
<rect x="452.40" y="411.57" width="7.65" height="7.11" fill="#e0967a"/>
<rect x="460.00" y="411.57" width="7.65" height="7.11" fill="#c24e5e"/>
<rect x="422.00" y="418.63" width="7.65" height="7.11" fill="#7d93cd"/>
<rect x="429.60" y="418.63" width="7.65" height="7.11" fill="#9db8e0"/>
<rect x="437.20" y="418.63" width="7.65" height="7.11" fill="#7d93cd"/>
<rect x="444.80" y="418.63" width="7.65" height="7.11" fill="#c24e5e"/>
<rect x="452.40" y="418.63" width="7.65" height="7.11" fill="#d57a6c"/>
<rect x="460.00" y="418.63" width="7.65" height="7.11" fill="#ae2d52"/>
<rect x="422.00" y="425.68" width="7.65" height="7.11" fill="#9db8e0"/>
<rect x="429.60" y="425.68" width="7.65" height="7.11" fill="#7d93cd"/>
<rect x="437.20" y="425.68" width="7.65" height="7.11" fill="#7d93cd"/>
<rect x="444.80" y="425.68" width="7.65" height="7.11" fill="#9e1248"/>
<rect x="452.40" y="425.68" width="7.65" height="7.11" fill="#ebb496"/>
<rect x="460.00" y="425.68" width="7.65" height="7.11" fill="#d57a6c"/>
<rect x="422.00" y="432.74" width="7.65" height="7.11" fill="#c24e5e"/>
<rect x="429.60" y="432.74" width="7.65" height="7.11" fill="#ae2d52"/>
<rect x="437.20" y="432.74" width="7.65" height="7.11" fill="#ebb496"/>
<rect x="444.80" y="432.74" width="7.65" height="7.11" fill="#7d93cd"/>
<rect x="452.40" y="432.74" width="7.65" height="7.11" fill="#9db8e0"/>
<rect x="460.00" y="432.74" width="7.65" height="7.11" fill="#b2d3eb"/>
<line x1="422.00" y1="256.30" x2="422.00" y2="439.80" stroke="#34343f" stroke-width="0.7" stroke-linecap="butt"/>
<line x1="429.60" y1="256.30" x2="429.60" y2="439.80" stroke="#34343f" stroke-width="0.7" stroke-linecap="butt"/>
<line x1="437.20" y1="256.30" x2="437.20" y2="439.80" stroke="#34343f" stroke-width="0.7" stroke-linecap="butt"/>
<line x1="444.80" y1="256.30" x2="444.80" y2="439.80" stroke="#34343f" stroke-width="0.7" stroke-linecap="butt"/>
<line x1="452.40" y1="256.30" x2="452.40" y2="439.80" stroke="#34343f" stroke-width="0.7" stroke-linecap="butt"/>
<line x1="460.00" y1="256.30" x2="460.00" y2="439.80" stroke="#34343f" stroke-width="0.7" stroke-linecap="butt"/>
<line x1="467.60" y1="256.30" x2="467.60" y2="439.80" stroke="#34343f" stroke-width="0.7" stroke-linecap="butt"/>
<line x1="422.00" y1="256.30" x2="467.60" y2="256.30" stroke="#34343f" stroke-width="0.7" stroke-linecap="butt"/>
<line x1="422.00" y1="263.36" x2="467.60" y2="263.36" stroke="#34343f" stroke-width="0.7" stroke-linecap="butt"/>
<line x1="422.00" y1="270.42" x2="467.60" y2="270.42" stroke="#34343f" stroke-width="0.7" stroke-linecap="butt"/>
<line x1="422.00" y1="277.47" x2="467.60" y2="277.47" stroke="#34343f" stroke-width="0.7" stroke-linecap="butt"/>
<line x1="422.00" y1="284.53" x2="467.60" y2="284.53" stroke="#34343f" stroke-width="0.7" stroke-linecap="butt"/>
<line x1="422.00" y1="291.59" x2="467.60" y2="291.59" stroke="#34343f" stroke-width="0.7" stroke-linecap="butt"/>
<line x1="422.00" y1="298.65" x2="467.60" y2="298.65" stroke="#34343f" stroke-width="0.7" stroke-linecap="butt"/>
<line x1="422.00" y1="305.70" x2="467.60" y2="305.70" stroke="#34343f" stroke-width="0.7" stroke-linecap="butt"/>
<line x1="422.00" y1="312.76" x2="467.60" y2="312.76" stroke="#34343f" stroke-width="0.7" stroke-linecap="butt"/>
<line x1="422.00" y1="319.82" x2="467.60" y2="319.82" stroke="#34343f" stroke-width="0.7" stroke-linecap="butt"/>
<line x1="422.00" y1="326.88" x2="467.60" y2="326.88" stroke="#34343f" stroke-width="0.7" stroke-linecap="butt"/>
<line x1="422.00" y1="333.93" x2="467.60" y2="333.93" stroke="#34343f" stroke-width="0.7" stroke-linecap="butt"/>
<line x1="422.00" y1="340.99" x2="467.60" y2="340.99" stroke="#34343f" stroke-width="0.7" stroke-linecap="butt"/>
<line x1="422.00" y1="348.05" x2="467.60" y2="348.05" stroke="#34343f" stroke-width="0.7" stroke-linecap="butt"/>
<line x1="422.00" y1="355.11" x2="467.60" y2="355.11" stroke="#34343f" stroke-width="0.7" stroke-linecap="butt"/>
<line x1="422.00" y1="362.17" x2="467.60" y2="362.17" stroke="#34343f" stroke-width="0.7" stroke-linecap="butt"/>
<line x1="422.00" y1="369.22" x2="467.60" y2="369.22" stroke="#34343f" stroke-width="0.7" stroke-linecap="butt"/>
<line x1="422.00" y1="376.28" x2="467.60" y2="376.28" stroke="#34343f" stroke-width="0.7" stroke-linecap="butt"/>
<line x1="422.00" y1="383.34" x2="467.60" y2="383.34" stroke="#34343f" stroke-width="0.7" stroke-linecap="butt"/>
<line x1="422.00" y1="390.40" x2="467.60" y2="390.40" stroke="#34343f" stroke-width="0.7" stroke-linecap="butt"/>
<line x1="422.00" y1="397.45" x2="467.60" y2="397.45" stroke="#34343f" stroke-width="0.7" stroke-linecap="butt"/>
<line x1="422.00" y1="404.51" x2="467.60" y2="404.51" stroke="#34343f" stroke-width="0.7" stroke-linecap="butt"/>
<line x1="422.00" y1="411.57" x2="467.60" y2="411.57" stroke="#34343f" stroke-width="0.7" stroke-linecap="butt"/>
<line x1="422.00" y1="418.63" x2="467.60" y2="418.63" stroke="#34343f" stroke-width="0.7" stroke-linecap="butt"/>
<line x1="422.00" y1="425.68" x2="467.60" y2="425.68" stroke="#34343f" stroke-width="0.7" stroke-linecap="butt"/>
<line x1="422.00" y1="432.74" x2="467.60" y2="432.74" stroke="#34343f" stroke-width="0.7" stroke-linecap="butt"/>
<line x1="422.00" y1="439.80" x2="467.60" y2="439.80" stroke="#34343f" stroke-width="0.7" stroke-linecap="butt"/>
<text x="471.20" y="261.90" font-size="6.0" text-anchor="start" fill="#222" textLength="8.64" lengthAdjust="spacingAndGlyphs" stroke="#222" stroke-width="0.03" >Hk2</text>
<text x="471.20" y="268.96" font-size="6.0" text-anchor="start" fill="#222" textLength="14.76" lengthAdjust="spacingAndGlyphs" stroke="#222" stroke-width="0.03" >Fabp4</text>
<text x="471.20" y="276.01" font-size="6.0" text-anchor="start" fill="#222" textLength="13.05" lengthAdjust="spacingAndGlyphs" stroke="#222" stroke-width="0.03" >Brca1</text>
<text x="471.20" y="283.07" font-size="6.0" text-anchor="start" fill="#222" textLength="6.84" lengthAdjust="spacingAndGlyphs" stroke="#222" stroke-width="0.03" >Lpl</text>
<text x="471.20" y="290.13" font-size="6.0" text-anchor="start" fill="#222" textLength="5.58" lengthAdjust="spacingAndGlyphs" stroke="#222" stroke-width="0.03" >C3</text>
<text x="471.20" y="297.19" font-size="6.0" text-anchor="start" fill="#222" textLength="15.48" lengthAdjust="spacingAndGlyphs" stroke="#222" stroke-width="0.03" >Scarb1</text>
<text x="471.20" y="304.25" font-size="6.0" text-anchor="start" fill="#222" textLength="11.34" lengthAdjust="spacingAndGlyphs" stroke="#222" stroke-width="0.03" >Cd36</text>
<text x="471.20" y="311.30" font-size="6.0" text-anchor="start" fill="#222" textLength="10.62" lengthAdjust="spacingAndGlyphs" stroke="#222" stroke-width="0.03" >Fpr2</text>
<text x="471.20" y="318.36" font-size="6.0" text-anchor="start" fill="#222" textLength="20.52" lengthAdjust="spacingAndGlyphs" stroke="#222" stroke-width="0.03" >Cyp4f18</text>
<text x="471.20" y="325.42" font-size="6.0" text-anchor="start" fill="#222" textLength="9.54" lengthAdjust="spacingAndGlyphs" stroke="#222" stroke-width="0.03" >Ldlr</text>
<text x="471.20" y="332.48" font-size="6.0" text-anchor="start" fill="#222" textLength="21.78" lengthAdjust="spacingAndGlyphs" stroke="#222" stroke-width="0.03" >Smpdl3b</text>
<text x="471.20" y="339.53" font-size="6.0" text-anchor="start" fill="#222" textLength="9.54" lengthAdjust="spacingAndGlyphs" stroke="#222" stroke-width="0.03" >Klf4</text>
<text x="471.20" y="346.59" font-size="6.0" text-anchor="start" fill="#222" textLength="14.94" lengthAdjust="spacingAndGlyphs" stroke="#222" stroke-width="0.03" >Sgms1</text>
<text x="471.20" y="353.65" font-size="6.0" text-anchor="start" fill="#222" textLength="11.52" lengthAdjust="spacingAndGlyphs" stroke="#222" stroke-width="0.03" >Csf1r</text>
<text x="471.20" y="360.71" font-size="6.0" text-anchor="start" fill="#222" textLength="13.14" lengthAdjust="spacingAndGlyphs" stroke="#222" stroke-width="0.03" >Gm2a</text>
<text x="471.20" y="367.76" font-size="6.0" text-anchor="start" fill="#222" textLength="14.76" lengthAdjust="spacingAndGlyphs" stroke="#222" stroke-width="0.03" >Pparg</text>
<text x="471.20" y="374.82" font-size="6.0" text-anchor="start" fill="#222" textLength="15.66" lengthAdjust="spacingAndGlyphs" stroke="#222" stroke-width="0.03" >Pla2g7</text>
<text x="471.20" y="381.88" font-size="6.0" text-anchor="start" fill="#222" textLength="14.76" lengthAdjust="spacingAndGlyphs" stroke="#222" stroke-width="0.03" >Fabp5</text>
<text x="471.20" y="388.94" font-size="6.0" text-anchor="start" fill="#222" textLength="7.74" lengthAdjust="spacingAndGlyphs" stroke="#222" stroke-width="0.03" >Fgr</text>
<text x="471.20" y="396.00" font-size="6.0" text-anchor="start" fill="#222" textLength="12.96" lengthAdjust="spacingAndGlyphs" stroke="#222" stroke-width="0.03" >P2rx7</text>
<text x="471.20" y="403.05" font-size="6.0" text-anchor="start" fill="#222" textLength="14.94" lengthAdjust="spacingAndGlyphs" stroke="#222" stroke-width="0.03" >Pik3r6</text>
<text x="471.20" y="410.11" font-size="6.0" text-anchor="start" fill="#222" textLength="12.42" lengthAdjust="spacingAndGlyphs" stroke="#222" stroke-width="0.03" >Gatm</text>
<text x="471.20" y="417.17" font-size="6.0" text-anchor="start" fill="#222" textLength="10.26" lengthAdjust="spacingAndGlyphs" stroke="#222" stroke-width="0.03" >Ass1</text>
<text x="471.20" y="424.23" font-size="6.0" text-anchor="start" fill="#222" textLength="9.18" lengthAdjust="spacingAndGlyphs" stroke="#222" stroke-width="0.03" >Sik1</text>
<text x="471.20" y="431.28" font-size="6.0" text-anchor="start" fill="#222" textLength="14.22" lengthAdjust="spacingAndGlyphs" stroke="#222" stroke-width="0.03" >Tcf7l2</text>
<text x="471.20" y="438.34" font-size="6.0" text-anchor="start" fill="#222" textLength="9.18" lengthAdjust="spacingAndGlyphs" stroke="#222" stroke-width="0.03" >Irs2</text>
<rect x="423.6" y="253.1" width="21.2" height="1.9" fill="#7a7a7a"/>
<rect x="446.1" y="253.1" width="21.7" height="1.9" fill="#7a7a7a"/>
<text x="434.20" y="243.73" font-size="5.6" text-anchor="middle" fill="#333" textLength="18.2" lengthAdjust="spacingAndGlyphs" stroke="#333" stroke-width="0.08" transform="rotate(-90 434.20 241.80)" >Healthy</text>
<text x="456.60" y="243.93" font-size="5.6" text-anchor="middle" fill="#333" textLength="17.6" lengthAdjust="spacingAndGlyphs" stroke="#333" stroke-width="0.08" transform="rotate(-90 456.60 242.00)" >Eμ-myc</text>
<text x="465.80" y="235.23" font-size="5.6" text-anchor="middle" fill="#333" textLength="16.2" lengthAdjust="spacingAndGlyphs" stroke="#333" stroke-width="0.08" transform="rotate(-90 465.80 233.30)" >Density</text>
<defs><linearGradient id="gk" x1="0" x2="1" y1="0" y2="0"><stop offset="0" stop-color="#27398f"/><stop offset="0.18" stop-color="#5a7cc0"/><stop offset="0.36" stop-color="#a9c7e4"/><stop offset="0.52" stop-color="#e7e4e0"/><stop offset="0.68" stop-color="#eeb493"/><stop offset="0.82" stop-color="#d56a5c"/><stop offset="1" stop-color="#8c0a2c"/></linearGradient></defs>
<rect x="478.2" y="225.0" width="32.400000000000034" height="15.599999999999994" fill="url(#gk)"/>
<path d="M478.40,240.30 L480.50,240.00 L482.00,238.00 L483.20,233.00 L484.30,228.00 L485.20,226.00 L486.20,228.50 L487.30,234.00 L488.50,239.00 L489.60,240.30 L494.00,240.40 L495.50,239.50 L497.00,238.20 L498.50,236.50 L500.00,233.50 L501.20,231.60 L502.30,233.50 L503.50,236.50 L505.00,238.10 L506.50,237.00 L508.00,236.20 L509.50,236.80 L510.60,238.00" fill="none" stroke="#62d7e0" stroke-width="0.8" stroke-linejoin="round"/>
<line x1="477.70" y1="225.00" x2="477.70" y2="240.60" stroke="#333" stroke-width="0.6" stroke-linecap="butt"/>
<line x1="476.20" y1="240.60" x2="477.70" y2="240.60" stroke="#333" stroke-width="0.6" stroke-linecap="butt"/>
<line x1="476.20" y1="238.30" x2="477.70" y2="238.30" stroke="#333" stroke-width="0.6" stroke-linecap="butt"/>
<line x1="476.20" y1="236.00" x2="477.70" y2="236.00" stroke="#333" stroke-width="0.6" stroke-linecap="butt"/>
<line x1="476.20" y1="233.70" x2="477.70" y2="233.70" stroke="#333" stroke-width="0.6" stroke-linecap="butt"/>
<line x1="476.20" y1="231.40" x2="477.70" y2="231.40" stroke="#333" stroke-width="0.6" stroke-linecap="butt"/>
<line x1="476.20" y1="229.10" x2="477.70" y2="229.10" stroke="#333" stroke-width="0.6" stroke-linecap="butt"/>
<line x1="476.20" y1="226.80" x2="477.70" y2="226.80" stroke="#333" stroke-width="0.6" stroke-linecap="butt"/>
<text x="473.90" y="242.03" font-size="5.0" text-anchor="middle" fill="#333" textLength="2.6" lengthAdjust="spacingAndGlyphs" stroke="#333" stroke-width="0.08" transform="rotate(-90 473.90 240.30)" >0</text>
<text x="473.90" y="235.32" font-size="5.0" text-anchor="middle" fill="#333" textLength="6.6" lengthAdjust="spacingAndGlyphs" stroke="#333" stroke-width="0.08" transform="rotate(-90 473.90 233.60)" >0.6</text>
<line x1="478.20" y1="241.00" x2="510.60" y2="241.00" stroke="#333" stroke-width="0.6" stroke-linecap="butt"/>
<line x1="478.20" y1="241.00" x2="478.20" y2="242.20" stroke="#333" stroke-width="0.6" stroke-linecap="butt"/>
<line x1="483.60" y1="241.00" x2="483.60" y2="242.20" stroke="#333" stroke-width="0.6" stroke-linecap="butt"/>
<line x1="489.00" y1="241.00" x2="489.00" y2="242.20" stroke="#333" stroke-width="0.6" stroke-linecap="butt"/>
<line x1="494.40" y1="241.00" x2="494.40" y2="242.20" stroke="#333" stroke-width="0.6" stroke-linecap="butt"/>
<line x1="499.80" y1="241.00" x2="499.80" y2="242.20" stroke="#333" stroke-width="0.6" stroke-linecap="butt"/>
<line x1="505.20" y1="241.00" x2="505.20" y2="242.20" stroke="#333" stroke-width="0.6" stroke-linecap="butt"/>
<line x1="510.60" y1="241.00" x2="510.60" y2="242.20" stroke="#333" stroke-width="0.6" stroke-linecap="butt"/>
<text x="478.20" y="248.46" font-size="5.4" text-anchor="middle" fill="#333" textLength="7.6" lengthAdjust="spacingAndGlyphs" stroke="#333" stroke-width="0.08" >-1.5</text>
<text x="489.00" y="248.46" font-size="5.4" text-anchor="middle" fill="#333" textLength="7.6" lengthAdjust="spacingAndGlyphs" stroke="#333" stroke-width="0.08" >-0.5</text>
<text x="499.80" y="248.46" font-size="5.4" text-anchor="middle" fill="#333" textLength="5.8" lengthAdjust="spacingAndGlyphs" stroke="#333" stroke-width="0.08" >0.5</text>
<text x="510.60" y="248.46" font-size="5.4" text-anchor="middle" fill="#333" textLength="5.8" lengthAdjust="spacingAndGlyphs" stroke="#333" stroke-width="0.08" >1.5</text>
<text x="494.20" y="256.21" font-size="6.4" text-anchor="middle" fill="#333" textLength="15.6" lengthAdjust="spacingAndGlyphs" font-style="italic" stroke="#333" stroke-width="0.08" >Z-score</text>
<rect x="0.5" y="0.5" width="519" height="447" fill="none" stroke="#000" stroke-width="1"/>
</svg></body></html>
